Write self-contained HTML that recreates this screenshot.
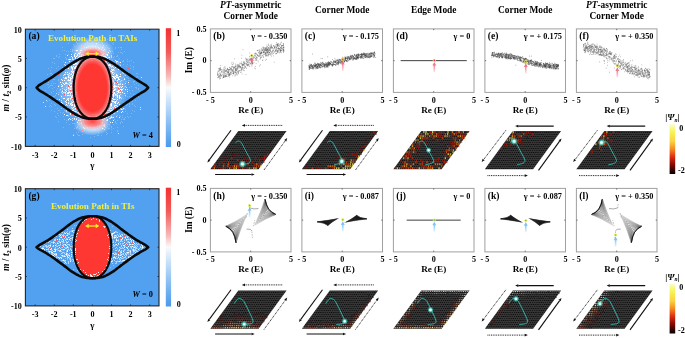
<!DOCTYPE html>
<html><head><meta charset="utf-8"><style>
html,body{margin:0;padding:0;background:#fff;width:685px;height:338px;overflow:hidden}
svg{display:block;will-change:transform}
text{font-family:"Liberation Serif",serif}
</style></head><body>
<svg width="685" height="338" viewBox="0 0 685 338"><defs><clipPath id="clipbiga"><rect x="25.4" y="29.2" width="133.6" height="117.2"/></clipPath><radialGradient id="wglow"><stop offset="0" stop-color="#fff" stop-opacity="0.95"/><stop offset="0.55" stop-color="#fff" stop-opacity="0.6"/><stop offset="1" stop-color="#fff" stop-opacity="0"/></radialGradient><radialGradient id="pglow"><stop offset="0" stop-color="#f44" stop-opacity="1"/><stop offset="0.5" stop-color="#f77" stop-opacity="0.8"/><stop offset="1" stop-color="#fcc" stop-opacity="0"/></radialGradient><radialGradient id="sglow"><stop offset="0" stop-color="#fff" stop-opacity="0.9"/><stop offset="0.6" stop-color="#e8f2fd" stop-opacity="0.55"/><stop offset="1" stop-color="#d0e6fb" stop-opacity="0"/></radialGradient><radialGradient id="redA"><stop offset="0.76" stop-color="#ff3733"/><stop offset="0.9" stop-color="#f86c6c"/><stop offset="1" stop-color="#f8b4b4"/></radialGradient><linearGradient id="cbara" x1="0" y1="0" x2="0" y2="1"><stop offset="0" stop-color="#f43030"/><stop offset="0.2" stop-color="#f35a5a"/><stop offset="0.4" stop-color="#f6b8b8"/><stop offset="0.5" stop-color="#fafafa"/><stop offset="0.6" stop-color="#d2e6fa"/><stop offset="0.8" stop-color="#88bff2"/><stop offset="1" stop-color="#4a98ee"/></linearGradient><clipPath id="clipbigg"><rect x="25.4" y="188.7" width="133.6" height="117.2"/></clipPath><linearGradient id="cbarg" x1="0" y1="0" x2="0" y2="1"><stop offset="0" stop-color="#f43030"/><stop offset="0.2" stop-color="#f35a5a"/><stop offset="0.4" stop-color="#f6b8b8"/><stop offset="0.5" stop-color="#fafafa"/><stop offset="0.6" stop-color="#d2e6fa"/><stop offset="0.8" stop-color="#88bff2"/><stop offset="1" stop-color="#4a98ee"/></linearGradient><clipPath id="clipscb"><rect x="210.4" y="28.9" width="80.6" height="63.5"/></clipPath><linearGradient id="agb" x1="0" y1="0" x2="0" y2="1"><stop offset="0" stop-color="#f2506a"/><stop offset="1" stop-color="#f2506a" stop-opacity="0.15"/></linearGradient><clipPath id="clipscc"><rect x="301.9" y="28.9" width="80.6" height="63.5"/></clipPath><linearGradient id="agc" x1="0" y1="0" x2="0" y2="1"><stop offset="0" stop-color="#f2506a"/><stop offset="1" stop-color="#f2506a" stop-opacity="0.15"/></linearGradient><clipPath id="clipscd"><rect x="393.4" y="28.9" width="80.6" height="63.5"/></clipPath><linearGradient id="agd" x1="0" y1="0" x2="0" y2="1"><stop offset="0" stop-color="#f2506a"/><stop offset="1" stop-color="#f2506a" stop-opacity="0.15"/></linearGradient><clipPath id="clipsce"><rect x="484.9" y="28.9" width="80.6" height="63.5"/></clipPath><linearGradient id="age" x1="0" y1="0" x2="0" y2="1"><stop offset="0" stop-color="#f2506a"/><stop offset="1" stop-color="#f2506a" stop-opacity="0.15"/></linearGradient><clipPath id="clipscf"><rect x="576.4" y="28.9" width="80.6" height="63.5"/></clipPath><linearGradient id="agf" x1="0" y1="0" x2="0" y2="1"><stop offset="0" stop-color="#f2506a"/><stop offset="1" stop-color="#f2506a" stop-opacity="0.15"/></linearGradient><clipPath id="clipsch"><rect x="210.4" y="188.4" width="80.6" height="63.5"/></clipPath><linearGradient id="agh" x1="0" y1="0" x2="0" y2="1"><stop offset="0" stop-color="#5ab4f4"/><stop offset="1" stop-color="#5ab4f4" stop-opacity="0.15"/></linearGradient><clipPath id="clipsci"><rect x="301.9" y="188.4" width="80.6" height="63.5"/></clipPath><linearGradient id="lobeg1" gradientUnits="userSpaceOnUse" x1="323.81" y1="223.23" x2="339.3" y2="218.05"><stop offset="0" stop-color="#111"/><stop offset="0.4" stop-color="#222"/><stop offset="1" stop-color="#444"/></linearGradient><linearGradient id="lobeg2" gradientUnits="userSpaceOnUse" x1="360.43" y1="217.52" x2="344.1" y2="222.75"><stop offset="0" stop-color="#111"/><stop offset="0.4" stop-color="#222"/><stop offset="1" stop-color="#444"/></linearGradient><linearGradient id="agi" x1="0" y1="0" x2="0" y2="1"><stop offset="0" stop-color="#5ab4f4"/><stop offset="1" stop-color="#5ab4f4" stop-opacity="0.15"/></linearGradient><clipPath id="clipscj"><rect x="393.4" y="188.4" width="80.6" height="63.5"/></clipPath><linearGradient id="agj" x1="0" y1="0" x2="0" y2="1"><stop offset="0" stop-color="#5ab4f4"/><stop offset="1" stop-color="#5ab4f4" stop-opacity="0.15"/></linearGradient><clipPath id="clipsck"><rect x="484.9" y="188.4" width="80.6" height="63.5"/></clipPath><linearGradient id="lobeg3" gradientUnits="userSpaceOnUse" x1="543.59" y1="223.23" x2="528.1" y2="218.05"><stop offset="0" stop-color="#111"/><stop offset="0.4" stop-color="#222"/><stop offset="1" stop-color="#444"/></linearGradient><linearGradient id="lobeg4" gradientUnits="userSpaceOnUse" x1="506.97" y1="217.52" x2="523.3" y2="222.75"><stop offset="0" stop-color="#111"/><stop offset="0.4" stop-color="#222"/><stop offset="1" stop-color="#444"/></linearGradient><linearGradient id="agk" x1="0" y1="0" x2="0" y2="1"><stop offset="0" stop-color="#5ab4f4"/><stop offset="1" stop-color="#5ab4f4" stop-opacity="0.15"/></linearGradient><clipPath id="clipscl"><rect x="576.4" y="188.4" width="80.6" height="63.5"/></clipPath><linearGradient id="agl" x1="0" y1="0" x2="0" y2="1"><stop offset="0" stop-color="#5ab4f4"/><stop offset="1" stop-color="#5ab4f4" stop-opacity="0.15"/></linearGradient><pattern id="hexpat" width="2.15" height="4" patternUnits="userSpaceOnUse"><rect width="2.15" height="4" fill="#363636"/><circle cx="0.54" cy="0.5" r="0.62" fill="#080808"/><circle cx="1.61" cy="2.5" r="0.62" fill="#080808"/></pattern><radialGradient id="glow"><stop offset="0" stop-color="#ffffff"/><stop offset="0.3" stop-color="#c8fff8"/><stop offset="0.6" stop-color="#40d8c8" stop-opacity="0.7"/><stop offset="1" stop-color="#40d8c8" stop-opacity="0"/></radialGradient><linearGradient id="hotbar" x1="0" y1="0" x2="0" y2="1"><stop offset="0" stop-color="#fbfbd0"/><stop offset="0.14" stop-color="#f6f65a"/><stop offset="0.35" stop-color="#fbd040"/><stop offset="0.5" stop-color="#f68a20"/><stop offset="0.65" stop-color="#e03010"/><stop offset="0.8" stop-color="#8a0a05"/><stop offset="1" stop-color="#050000"/></linearGradient></defs><rect width="685" height="338" fill="#fff"/><g clip-path="url(#clipbiga)">
<rect x="25.4" y="29.2" width="133.6" height="117.2" fill="#52a0f0"/>
<ellipse cx="92.5" cy="87.7" rx="35.8" ry="40" fill="url(#sglow)"/>
<path d="M91 38.5h1M94 38.5h1M99 38.5h1M102 38.5h1M107 39.5h1M74 40.5h1M86 40.5h1M89 40.5h1M94 40.5h1M97 40.5h1M76 41.5h1M87 41.5h1M101 41.5h1M111 41.5h1M76 42.5h1M87 42.5h1M98 42.5h1M102 42.5h1M113 42.5h1M68 43.5h1M77 43.5h1M85 43.5h1M87 43.5h1M92 43.5h1M102 43.5h1M112 43.5h1M73 44.5h1M96 44.5h1M113 44.5h1M81 45.5h1M92 45.5h1M106 45.5h1M74 46.5h1M88 46.5h1M62 47.5h1M84 47.5h1M87 47.5h1M103 47.5h1M107 47.5h1M115 47.5h1M118 47.5h1M120 47.5h1M121 47.5h1M81 48.5h1M91 48.5h1M96 48.5h1M102 48.5h1M108 48.5h1M109 48.5h1M115 48.5h1M70 49.5h1M72 49.5h1M90 49.5h1M94 49.5h1M121 49.5h1M62 50.5h1M64 50.5h1M72 50.5h1M74 50.5h1M75 50.5h1M66 51.5h1M68 51.5h1M70 51.5h1M72 51.5h1M76 51.5h1M112 51.5h1M124 51.5h1M78 52.5h1M79 52.5h1M118 52.5h1M120 52.5h1M121 52.5h1M74 53.5h1M80 53.5h1M101 53.5h1M109 53.5h1M111 53.5h1M113 53.5h1M122 53.5h1M59 54.5h1M65 54.5h1M68 54.5h1M84 54.5h1M56 55.5h1M75 55.5h1M79 55.5h1M84 55.5h1M117 55.5h1M56 56.5h1M59 56.5h1M75 56.5h1M78 56.5h1M83 56.5h1M84 56.5h1M109 56.5h1M114 56.5h1M116 56.5h1M117 56.5h1M58 57.5h1M65 57.5h1M69 57.5h1M70 57.5h1M83 57.5h1M103 57.5h1M113 57.5h1M53 58.5h1M54 58.5h1M66 58.5h1M74 58.5h1M83 58.5h1M99 58.5h1M119 58.5h1M66 59.5h1M75 59.5h1M79 59.5h1M82 59.5h1M83 59.5h1M101 59.5h1M103 59.5h1M106 59.5h1M118 59.5h1M127 59.5h1M76 60.5h1M78 60.5h1M112 60.5h1M123 60.5h1M131 60.5h1M63 61.5h1M77 61.5h1M107 61.5h1M118 61.5h1M122 61.5h1M123 61.5h1M127 61.5h1M129 61.5h1M52 62.5h1M67 62.5h1M76 62.5h1M105 62.5h1M108 62.5h1M117 62.5h1M118 62.5h1M119 62.5h1M133 62.5h1M54 63.5h1M69 63.5h1M79 63.5h1M110 63.5h1M116 63.5h1M117 63.5h1M118 63.5h1M72 64.5h1M119 64.5h1M120 64.5h1M123 64.5h1M127 64.5h1M72 65.5h1M73 65.5h1M77 65.5h1M106 65.5h1M130 65.5h1M58 66.5h1M66 66.5h1M74 66.5h1M108 66.5h1M114 66.5h1M126 66.5h1M133 66.5h1M51 67.5h1M62 67.5h1M70 67.5h1M110 67.5h1M121 67.5h1M133 67.5h1M48 68.5h1M56 68.5h1M73 68.5h1M110 68.5h1M111 68.5h1M115 68.5h1M130 68.5h1M69 69.5h1M73 69.5h1M76 69.5h1M109 69.5h1M119 69.5h1M133 69.5h1M50 70.5h1M61 70.5h1M68 70.5h1M70 70.5h1M73 70.5h1M74 70.5h1M110 70.5h1M116 70.5h1M122 70.5h1M124 70.5h1M68 71.5h1M74 71.5h1M112 71.5h1M117 71.5h1M120 71.5h1M109 72.5h1M116 72.5h1M128 72.5h1M50 73.5h1M51 73.5h1M65 73.5h1M66 73.5h1M70 73.5h1M72 73.5h1M74 73.5h1M109 73.5h1M113 73.5h1M118 73.5h1M120 73.5h1M122 73.5h1M127 73.5h1M136 73.5h1M137 73.5h1M47 74.5h1M52 74.5h1M54 74.5h1M72 74.5h1M74 74.5h1M111 74.5h1M114 74.5h1M115 74.5h1M118 74.5h1M124 74.5h1M51 75.5h1M60 75.5h1M71 75.5h1M110 75.5h1M112 75.5h1M113 75.5h1M124 75.5h1M130 75.5h1M70 76.5h1M118 76.5h1M123 76.5h1M137 76.5h1M50 77.5h1M71 77.5h1M115 77.5h1M121 77.5h1M122 77.5h1M123 77.5h1M126 77.5h1M127 77.5h1M132 77.5h1M133 77.5h1M136 77.5h1M67 78.5h1M113 78.5h1M116 78.5h1M117 78.5h1M128 78.5h1M53 79.5h1M54 79.5h1M58 79.5h1M63 79.5h1M64 79.5h1M69 79.5h1M72 79.5h1M114 79.5h1M123 79.5h1M125 79.5h1M58 80.5h1M72 80.5h1M114 80.5h1M119 80.5h1M122 80.5h1M123 80.5h1M128 80.5h1M129 80.5h1M135 80.5h1M137 80.5h1M52 81.5h1M65 81.5h1M67 81.5h1M114 81.5h1M116 81.5h1M125 81.5h1M126 81.5h1M133 81.5h1M134 81.5h1M48 82.5h1M67 82.5h1M111 82.5h1M115 82.5h1M119 82.5h1M133 82.5h1M51 83.5h1M53 83.5h1M55 83.5h1M62 83.5h1M111 83.5h1M113 83.5h1M122 83.5h1M136 83.5h1M47 84.5h1M48 84.5h1M66 84.5h1M72 84.5h1M112 84.5h1M115 84.5h1M116 84.5h1M117 84.5h1M123 84.5h1M124 84.5h1M128 84.5h1M134 84.5h1M50 85.5h1M51 85.5h1M52 85.5h1M58 85.5h1M59 85.5h1M61 85.5h1M70 85.5h1M72 85.5h1M113 85.5h1M120 85.5h1M138 85.5h1M49 86.5h1M65 86.5h1M69 86.5h1M72 86.5h1M121 86.5h1M124 86.5h1M131 86.5h1M48 87.5h1M54 87.5h1M124 87.5h1M129 87.5h1M135 87.5h1M136 87.5h1M52 88.5h1M57 88.5h1M63 88.5h1M111 88.5h1M121 88.5h1M136 88.5h1M138 88.5h1M63 89.5h1M67 89.5h1M111 89.5h1M112 89.5h1M113 89.5h1M119 89.5h1M138 89.5h1M45 90.5h1M56 90.5h1M59 90.5h1M67 90.5h1M69 90.5h1M71 90.5h1M72 90.5h1M112 90.5h1M122 90.5h1M125 90.5h1M129 90.5h1M132 90.5h1M53 91.5h1M61 91.5h1M70 91.5h1M111 91.5h1M115 91.5h1M121 91.5h1M122 91.5h1M51 92.5h1M58 92.5h1M59 92.5h1M62 92.5h1M66 92.5h1M111 92.5h1M115 92.5h1M69 93.5h1M111 93.5h1M118 93.5h1M123 93.5h1M125 93.5h1M127 93.5h1M130 93.5h1M49 94.5h1M63 94.5h1M68 94.5h1M69 94.5h1M71 94.5h1M119 94.5h1M121 94.5h1M133 94.5h1M55 95.5h1M60 95.5h1M61 95.5h1M66 95.5h1M122 95.5h1M53 96.5h1M54 96.5h1M63 96.5h1M68 96.5h1M70 96.5h1M111 96.5h1M112 96.5h1M114 96.5h1M115 96.5h1M121 96.5h1M125 96.5h1M127 96.5h1M129 96.5h1M131 96.5h1M138 96.5h1M61 97.5h1M62 97.5h1M67 97.5h1M68 97.5h1M70 97.5h1M110 97.5h1M122 97.5h1M57 98.5h1M61 98.5h1M62 98.5h1M66 98.5h1M114 98.5h1M115 98.5h1M120 98.5h1M123 98.5h1M52 99.5h1M56 99.5h1M57 99.5h1M69 99.5h1M71 99.5h1M110 99.5h1M112 99.5h1M49 100.5h1M53 100.5h1M55 100.5h1M69 100.5h1M71 100.5h1M73 100.5h1M74 100.5h1M113 100.5h1M114 100.5h1M117 100.5h1M120 100.5h1M127 100.5h1M135 100.5h1M47 101.5h1M61 101.5h1M64 101.5h1M66 101.5h1M70 101.5h1M72 101.5h1M125 101.5h1M132 101.5h1M62 102.5h1M74 102.5h1M124 102.5h1M125 102.5h1M51 103.5h1M58 103.5h1M63 103.5h1M72 103.5h1M74 103.5h1M109 103.5h1M116 103.5h1M119 103.5h1M129 103.5h1M132 103.5h1M54 104.5h1M68 104.5h1M69 104.5h1M73 104.5h1M75 104.5h1M115 104.5h1M117 104.5h1M123 104.5h1M127 104.5h1M129 104.5h1M132 104.5h1M50 105.5h1M55 105.5h1M66 105.5h1M73 105.5h1M109 105.5h1M112 105.5h1M121 105.5h1M126 105.5h1M134 105.5h1M49 106.5h1M51 106.5h1M68 106.5h1M69 106.5h1M71 106.5h1M72 106.5h1M73 106.5h1M109 106.5h1M116 106.5h1M129 106.5h1M135 106.5h1M64 107.5h1M69 107.5h1M76 107.5h1M107 107.5h1M109 107.5h1M116 107.5h1M119 107.5h1M57 108.5h1M61 108.5h1M66 108.5h1M67 108.5h1M77 108.5h1M112 108.5h1M121 108.5h1M124 108.5h1M68 109.5h1M76 109.5h1M106 109.5h1M108 109.5h1M110 109.5h1M115 109.5h1M120 109.5h1M123 109.5h1M125 109.5h1M51 110.5h1M58 110.5h1M59 110.5h1M64 110.5h1M65 110.5h1M71 110.5h1M76 110.5h1M132 110.5h1M54 111.5h1M65 111.5h1M69 111.5h1M78 111.5h1M108 111.5h1M112 111.5h1M125 111.5h1M134 111.5h1M60 112.5h1M63 112.5h1M66 112.5h1M67 112.5h1M68 112.5h1M70 112.5h1M75 112.5h1M105 112.5h1M110 112.5h1M123 112.5h1M57 113.5h1M62 113.5h1M76 113.5h1M103 113.5h1M106 113.5h1M112 113.5h1M127 113.5h1M131 113.5h1M69 114.5h1M75 114.5h1M102 114.5h1M106 114.5h1M107 114.5h1M108 114.5h1M112 114.5h1M58 115.5h1M68 115.5h1M71 115.5h1M73 115.5h1M77 115.5h1M83 115.5h1M106 115.5h1M107 115.5h1M108 115.5h1M111 115.5h1M117 115.5h1M119 115.5h1M122 115.5h1M55 116.5h1M63 116.5h1M68 116.5h1M105 116.5h1M107 116.5h1M120 116.5h1M127 116.5h1M130 116.5h1M56 117.5h1M77 117.5h1M102 117.5h1M122 117.5h1M125 117.5h1M128 117.5h1M80 118.5h1M81 118.5h1M101 118.5h1M105 118.5h1M124 118.5h1M64 119.5h1M71 119.5h1M73 119.5h1M104 119.5h1M105 119.5h1M106 119.5h1M108 119.5h1M114 119.5h1M121 119.5h1M123 119.5h1M124 119.5h1M66 120.5h1M68 120.5h1M75 120.5h1M81 120.5h1M82 120.5h1M84 120.5h1M117 120.5h1M58 121.5h1M77 121.5h1M81 121.5h1M109 121.5h1M115 121.5h1M121 121.5h1M66 122.5h1M79 122.5h1M115 122.5h1M120 122.5h1M122 122.5h1M72 123.5h1M73 123.5h1M74 123.5h1M78 123.5h1M79 123.5h1M80 123.5h1M116 123.5h1M120 123.5h1M69 124.5h1M78 124.5h1M79 124.5h1M81 124.5h1M102 124.5h1M109 124.5h1M113 124.5h1M88 125.5h1M98 125.5h1M77 126.5h1M111 126.5h1M123 126.5h1M63 127.5h1M76 127.5h1M77 127.5h1M86 127.5h1M99 127.5h1M105 127.5h1M111 127.5h1M117 127.5h1M74 128.5h1M76 128.5h1M79 128.5h1M87 128.5h1M97 128.5h1M103 128.5h1M108 128.5h1M109 128.5h1M113 128.5h1M93 129.5h1M95 129.5h1M111 129.5h1M84 130.5h1M99 130.5h1M117 130.5h1M82 131.5h1M117 131.5h1M76 132.5h1M78 132.5h1M98 132.5h1M106 132.5h1M111 132.5h1M107 133.5h1M73 134.5h1M77 134.5h1M82 134.5h1M106 134.5h1M78 135.5h1M79 135.5h1M97 135.5h1M98 135.5h1M101 135.5h1M94 136.5h1M90 137.5h1" stroke="#7db6f1" stroke-width="1"/>
<path d="M73 39.5h1M141 77.5h1M46 100.5h1M43 102.5h1M45 106.5h1M140 107.5h1M140 109.5h1M118 133.5h1M73 135.5h1" stroke="#cfe4fb" stroke-width="1"/>
<path d="M96 43.5h1M103 45.5h1M95 46.5h1M98 47.5h1M102 47.5h1M101 49.5h1M104 49.5h1M103 50.5h1M109 50.5h1M110 51.5h1M83 52.5h1M103 53.5h1M74 54.5h1M79 54.5h1M82 54.5h1M83 54.5h1M102 54.5h1M103 54.5h1M106 54.5h1M81 55.5h1M111 55.5h1M80 56.5h1M82 56.5h1M100 56.5h1M103 56.5h1M111 56.5h1M78 57.5h1M101 57.5h1M104 57.5h1M108 57.5h1M111 57.5h1M72 58.5h1M80 58.5h1M100 58.5h1M101 58.5h1M102 58.5h1M104 58.5h1M105 58.5h1M68 59.5h1M72 59.5h1M73 59.5h1M80 59.5h1M81 59.5h1M109 59.5h1M77 60.5h1M81 60.5h1M82 60.5h1M102 60.5h1M106 60.5h1M78 61.5h1M80 61.5h1M111 61.5h1M77 62.5h1M78 62.5h1M79 62.5h1M106 62.5h1M113 62.5h1M116 62.5h1M77 63.5h1M107 63.5h1M64 64.5h1M69 64.5h1M75 64.5h1M76 64.5h1M78 64.5h1M105 64.5h1M108 64.5h1M110 64.5h1M114 64.5h1M65 65.5h1M76 65.5h1M78 65.5h1M113 65.5h1M120 65.5h1M65 66.5h1M77 66.5h1M107 66.5h1M110 66.5h1M111 66.5h1M115 66.5h1M116 66.5h1M76 67.5h1M77 67.5h1M109 67.5h1M111 67.5h1M113 67.5h1M118 67.5h1M63 68.5h1M71 68.5h1M108 68.5h1M114 68.5h1M121 68.5h1M108 69.5h1M112 69.5h1M72 70.5h1M75 70.5h1M108 70.5h1M109 70.5h1M113 70.5h1M114 70.5h1M72 71.5h1M124 71.5h1M73 72.5h1M74 72.5h1M110 72.5h1M113 72.5h1M122 72.5h1M71 73.5h1M75 73.5h1M112 73.5h1M114 73.5h1M123 73.5h1M65 74.5h1M68 74.5h1M70 74.5h1M63 75.5h1M68 75.5h1M69 75.5h1M125 75.5h1M71 76.5h1M110 76.5h1M111 76.5h1M114 76.5h1M116 76.5h1M117 76.5h1M63 77.5h1M66 77.5h1M69 77.5h1M110 77.5h1M111 77.5h1M64 78.5h1M72 78.5h1M112 78.5h1M124 78.5h1M73 79.5h1M111 79.5h1M115 79.5h1M67 80.5h1M112 80.5h1M113 80.5h1M121 80.5h1M70 81.5h1M71 81.5h1M73 81.5h1M111 81.5h1M112 81.5h1M113 81.5h1M120 81.5h1M62 82.5h1M65 82.5h1M66 82.5h1M69 82.5h1M70 82.5h1M71 82.5h1M112 82.5h1M114 82.5h1M67 83.5h1M73 83.5h1M120 83.5h1M125 83.5h1M68 84.5h1M69 84.5h1M73 84.5h1M111 84.5h1M114 84.5h1M119 84.5h1M120 84.5h1M71 85.5h1M111 85.5h1M115 85.5h1M62 86.5h1M117 86.5h1M120 86.5h1M125 86.5h1M66 87.5h1M70 87.5h1M71 87.5h1M72 87.5h1M111 87.5h1M126 87.5h1M62 88.5h1M69 88.5h1M70 88.5h1M71 88.5h1M115 88.5h1M123 88.5h1M60 89.5h1M64 89.5h1M69 89.5h1M71 89.5h1M73 89.5h1M127 89.5h1M62 90.5h1M68 90.5h1M69 91.5h1M113 91.5h1M116 91.5h1M61 92.5h1M63 92.5h1M64 92.5h1M67 92.5h1M70 92.5h1M113 92.5h1M119 92.5h1M56 93.5h1M62 93.5h1M65 93.5h1M72 93.5h1M73 93.5h1M58 94.5h1M65 94.5h1M70 94.5h1M73 94.5h1M111 94.5h1M112 94.5h1M116 94.5h1M120 94.5h1M65 95.5h1M69 95.5h1M73 95.5h1M115 95.5h1M116 95.5h1M125 95.5h1M72 96.5h1M72 97.5h1M74 97.5h1M111 97.5h1M113 97.5h1M67 98.5h1M110 98.5h1M111 98.5h1M121 98.5h1M68 99.5h1M70 99.5h1M72 99.5h1M115 99.5h1M61 100.5h1M72 100.5h1M111 100.5h1M112 100.5h1M116 100.5h1M71 101.5h1M74 101.5h1M110 101.5h1M114 101.5h1M116 101.5h1M68 102.5h1M71 102.5h1M75 102.5h1M110 103.5h1M124 103.5h1M71 104.5h1M65 105.5h1M67 105.5h1M69 105.5h1M108 105.5h1M110 105.5h1M114 105.5h1M64 106.5h1M76 106.5h1M108 106.5h1M110 106.5h1M111 106.5h1M71 107.5h1M108 107.5h1M110 107.5h1M112 107.5h1M113 107.5h1M117 107.5h1M118 107.5h1M109 108.5h1M110 108.5h1M113 108.5h1M73 109.5h1M74 109.5h1M75 109.5h1M78 109.5h1M109 109.5h1M112 109.5h1M117 109.5h1M122 109.5h1M66 110.5h1M69 110.5h1M108 110.5h1M109 110.5h1M110 110.5h1M112 110.5h1M66 111.5h1M74 111.5h1M76 111.5h1M111 111.5h1M72 112.5h1M77 112.5h1M107 112.5h1M108 112.5h1M74 113.5h1M75 113.5h1M78 113.5h1M107 113.5h1M113 113.5h1M114 113.5h1M73 114.5h1M76 114.5h1M78 114.5h1M81 114.5h1M103 114.5h1M110 114.5h1M78 115.5h1M80 115.5h1M101 115.5h1M103 115.5h1M105 115.5h1M75 116.5h1M77 116.5h1M100 116.5h1M101 116.5h1M106 116.5h1M108 116.5h1M111 116.5h1M116 116.5h1M81 117.5h1M82 117.5h1M110 117.5h1M112 117.5h1M72 118.5h1M76 118.5h1M83 118.5h1M104 118.5h1M109 118.5h1M110 118.5h1M74 119.5h1M103 119.5h1M72 120.5h1M79 120.5h1M83 120.5h1M100 120.5h1M103 120.5h1M106 120.5h1M83 121.5h1M102 121.5h1M101 122.5h1M102 123.5h1M104 124.5h1M84 125.5h1M85 125.5h1M101 125.5h1M103 125.5h1M104 125.5h1M104 126.5h1M87 127.5h1M93 127.5h1M94 127.5h1M104 129.5h1" stroke="#c4def9" stroke-width="1"/>
<path d="M82 46.5h1M100 49.5h1M104 52.5h1M83 53.5h1M115 56.5h1M71 57.5h1M76 57.5h1M84 58.5h1M104 60.5h1M113 60.5h1M67 61.5h1M107 62.5h1M106 63.5h1M108 63.5h1M109 63.5h1M71 64.5h1M106 64.5h1M59 65.5h1M63 66.5h1M67 67.5h1M128 68.5h1M75 69.5h1M110 69.5h1M58 74.5h1M66 75.5h1M119 75.5h1M112 77.5h1M116 79.5h1M73 80.5h1M111 80.5h1M115 81.5h1M73 82.5h1M116 82.5h1M117 83.5h1M68 85.5h1M73 85.5h1M68 86.5h1M112 86.5h1M112 87.5h1M118 88.5h1M63 90.5h1M70 90.5h1M73 90.5h1M120 90.5h1M67 91.5h1M114 91.5h1M73 92.5h1M71 93.5h1M112 93.5h1M64 94.5h1M112 97.5h1M114 97.5h1M72 98.5h1M111 99.5h1M65 100.5h1M115 100.5h1M67 101.5h1M111 102.5h1M73 103.5h1M75 107.5h1M76 108.5h1M114 108.5h1M106 110.5h1M77 111.5h1M79 111.5h1M73 113.5h1M65 114.5h1M71 114.5h1M72 114.5h1M104 114.5h1M105 114.5h1M102 115.5h1M118 115.5h1M82 116.5h1M102 116.5h1M104 116.5h1M84 119.5h1M111 119.5h1M116 119.5h1M82 121.5h1M73 122.5h1M100 124.5h1M106 125.5h1M86 129.5h1M82 130.5h1" stroke="#f25c5c" stroke-width="1"/>
<path d="M86 47.5h1M90 48.5h1M99 48.5h1M89 49.5h1M98 49.5h1M76 50.5h1M77 50.5h1M80 50.5h1M81 50.5h1M85 50.5h1M86 50.5h1M87 50.5h1M89 50.5h1M97 50.5h1M89 51.5h1M94 51.5h1M80 52.5h1M85 52.5h1M88 52.5h1M93 52.5h1M100 52.5h1M101 52.5h1M108 52.5h1M75 53.5h1M78 53.5h1M79 53.5h1M90 53.5h1M94 53.5h1M71 54.5h1M77 54.5h1M81 54.5h1M91 54.5h1M98 54.5h1M101 54.5h1M107 54.5h1M67 55.5h1M74 55.5h1M77 55.5h1M83 55.5h1M85 55.5h1M93 55.5h1M101 55.5h1M102 55.5h1M107 55.5h1M71 56.5h1M74 56.5h1M76 56.5h1M79 56.5h1M81 56.5h1M86 56.5h1M90 56.5h1M97 56.5h1M101 56.5h1M104 56.5h1M105 56.5h1M72 57.5h1M75 57.5h1M82 57.5h1M84 57.5h1M102 57.5h1M105 57.5h1M106 57.5h1M109 57.5h1M75 58.5h1M77 58.5h1M79 58.5h1M82 58.5h1M103 58.5h1M107 58.5h1M69 59.5h1M70 59.5h1M76 59.5h1M102 59.5h1M104 59.5h1M105 59.5h1M107 59.5h1M79 60.5h1M103 60.5h1M105 60.5h1M108 60.5h1M115 60.5h1M69 61.5h1M74 61.5h1M76 61.5h1M81 61.5h1M103 61.5h1M105 61.5h1M106 61.5h1M110 61.5h1M116 61.5h1M117 61.5h1M65 62.5h1M73 62.5h1M80 62.5h1M104 62.5h1M111 62.5h1M120 62.5h1M70 63.5h1M75 63.5h1M76 63.5h1M78 63.5h1M105 63.5h1M113 63.5h1M73 64.5h1M74 64.5h1M77 64.5h1M79 64.5h1M109 64.5h1M112 64.5h1M116 64.5h1M68 65.5h1M108 65.5h1M109 65.5h1M110 65.5h1M68 66.5h1M71 66.5h1M73 66.5h1M75 66.5h1M76 66.5h1M112 66.5h1M65 67.5h1M71 67.5h1M72 67.5h1M74 67.5h1M75 67.5h1M107 67.5h1M108 67.5h1M115 67.5h1M68 68.5h1M72 68.5h1M74 68.5h1M75 68.5h1M76 68.5h1M65 69.5h1M72 69.5h1M111 69.5h1M113 69.5h1M118 69.5h1M76 70.5h1M112 70.5h1M71 71.5h1M73 71.5h1M75 71.5h1M109 71.5h1M110 71.5h1M111 71.5h1M65 72.5h1M67 72.5h1M72 72.5h1M75 72.5h1M112 72.5h1M69 73.5h1M73 73.5h1M110 73.5h1M125 73.5h1M64 74.5h1M67 74.5h1M71 74.5h1M73 74.5h1M110 74.5h1M113 74.5h1M116 74.5h1M120 74.5h1M72 75.5h1M73 75.5h1M74 75.5h1M116 75.5h1M117 75.5h1M68 76.5h1M72 76.5h1M112 76.5h1M113 76.5h1M115 76.5h1M119 76.5h1M120 76.5h1M65 77.5h1M68 77.5h1M70 77.5h1M72 77.5h1M73 77.5h1M113 77.5h1M114 77.5h1M116 77.5h1M117 77.5h1M118 77.5h1M65 78.5h1M66 78.5h1M70 78.5h1M71 78.5h1M73 78.5h1M111 78.5h1M114 78.5h1M115 78.5h1M118 78.5h1M61 79.5h1M68 79.5h1M70 79.5h1M118 79.5h1M119 79.5h1M124 79.5h1M62 80.5h1M64 80.5h1M68 80.5h1M69 80.5h1M70 80.5h1M117 80.5h1M72 81.5h1M60 82.5h1M117 82.5h1M128 82.5h1M63 83.5h1M65 83.5h1M66 83.5h1M70 83.5h1M71 83.5h1M114 83.5h1M61 84.5h1M64 84.5h1M118 84.5h1M122 84.5h1M62 85.5h1M69 85.5h1M112 85.5h1M114 85.5h1M58 86.5h1M61 86.5h1M70 86.5h1M71 86.5h1M73 86.5h1M111 86.5h1M113 86.5h1M114 86.5h1M115 86.5h1M116 86.5h1M118 86.5h1M122 86.5h1M68 87.5h1M73 87.5h1M114 87.5h1M119 87.5h1M121 87.5h1M68 88.5h1M72 88.5h1M73 88.5h1M112 88.5h1M66 89.5h1M70 89.5h1M72 89.5h1M114 89.5h1M115 89.5h1M120 89.5h1M121 89.5h1M122 89.5h1M125 89.5h1M65 90.5h1M111 90.5h1M113 90.5h1M114 90.5h1M118 90.5h1M119 90.5h1M121 90.5h1M62 91.5h1M66 91.5h1M72 91.5h1M73 91.5h1M112 91.5h1M117 91.5h1M118 91.5h1M127 91.5h1M65 92.5h1M68 92.5h1M69 92.5h1M71 92.5h1M72 92.5h1M112 92.5h1M114 92.5h1M118 92.5h1M120 92.5h1M122 92.5h1M67 93.5h1M68 93.5h1M70 93.5h1M113 93.5h1M114 93.5h1M117 93.5h1M124 93.5h1M113 94.5h1M115 94.5h1M67 95.5h1M68 95.5h1M70 95.5h1M72 95.5h1M111 95.5h1M113 95.5h1M117 95.5h1M119 95.5h1M61 96.5h1M71 96.5h1M73 96.5h1M113 96.5h1M117 96.5h1M119 96.5h1M71 97.5h1M73 97.5h1M117 97.5h1M119 97.5h1M120 97.5h1M63 98.5h1M64 98.5h1M68 98.5h1M70 98.5h1M74 98.5h1M112 98.5h1M119 98.5h1M59 99.5h1M67 99.5h1M74 99.5h1M113 99.5h1M114 99.5h1M117 99.5h1M66 100.5h1M68 100.5h1M110 100.5h1M65 101.5h1M73 101.5h1M112 101.5h1M113 101.5h1M115 101.5h1M61 102.5h1M66 102.5h1M72 102.5h1M109 102.5h1M114 102.5h1M115 102.5h1M118 102.5h1M62 103.5h1M68 103.5h1M70 103.5h1M71 103.5h1M75 103.5h1M111 103.5h1M115 103.5h1M117 103.5h1M61 104.5h1M66 104.5h1M70 104.5h1M72 104.5h1M74 104.5h1M109 104.5h1M110 104.5h1M111 104.5h1M119 104.5h1M63 105.5h1M71 105.5h1M72 105.5h1M74 105.5h1M75 105.5h1M76 105.5h1M111 105.5h1M115 105.5h1M116 105.5h1M74 106.5h1M75 106.5h1M114 106.5h1M117 106.5h1M122 106.5h1M65 107.5h1M67 107.5h1M73 107.5h1M77 107.5h1M115 107.5h1M120 107.5h1M72 108.5h1M75 108.5h1M107 108.5h1M111 108.5h1M120 108.5h1M123 108.5h1M66 109.5h1M77 109.5h1M107 109.5h1M116 109.5h1M118 109.5h1M121 109.5h1M72 110.5h1M73 110.5h1M107 110.5h1M111 110.5h1M72 111.5h1M75 111.5h1M110 111.5h1M113 111.5h1M117 111.5h1M122 111.5h1M78 112.5h1M80 112.5h1M104 112.5h1M106 112.5h1M109 112.5h1M111 112.5h1M121 112.5h1M70 113.5h1M79 113.5h1M81 113.5h1M104 113.5h1M105 113.5h1M109 113.5h1M110 113.5h1M111 113.5h1M64 114.5h1M70 114.5h1M77 114.5h1M79 114.5h1M80 114.5h1M82 114.5h1M111 114.5h1M66 115.5h1M67 115.5h1M79 115.5h1M79 116.5h1M80 116.5h1M81 116.5h1M83 116.5h1M84 116.5h1M103 116.5h1M78 117.5h1M79 117.5h1M83 117.5h1M84 117.5h1M99 117.5h1M100 117.5h1M101 117.5h1M106 117.5h1M111 117.5h1M113 117.5h1M119 117.5h1M69 118.5h1M74 118.5h1M88 118.5h1M96 118.5h1M100 118.5h1M102 118.5h1M68 119.5h1M70 119.5h1M76 119.5h1M83 119.5h1M85 119.5h1M90 119.5h1M93 119.5h1M95 119.5h1M99 119.5h1M102 119.5h1M107 119.5h1M78 120.5h1M80 120.5h1M97 120.5h1M107 120.5h1M113 120.5h1M89 121.5h1M77 122.5h1M81 122.5h1M84 122.5h1M92 122.5h1M102 122.5h1M110 122.5h1M112 122.5h1M81 123.5h1M84 123.5h1M93 123.5h1M87 124.5h1M91 124.5h1M97 125.5h1M99 126.5h1M83 127.5h1M90 127.5h1M84 128.5h1M102 128.5h1" stroke="#ffffff" stroke-width="1"/>
<path d="M88 50.5h1M92 50.5h1M96 50.5h1M98 50.5h1M90 52.5h1M97 52.5h1M87 53.5h1M91 53.5h1M92 53.5h1M99 54.5h1M85 56.5h1M92 56.5h1M87 120.5h1M98 120.5h1M99 121.5h1M87 122.5h1M88 122.5h1M90 122.5h1M98 122.5h1M89 123.5h1M98 123.5h1M86 124.5h1M97 124.5h1M95 125.5h1" stroke="#f77" stroke-width="1"/>
<ellipse cx="92.5" cy="50.7" rx="22" ry="14" fill="url(#wglow)"/>
<ellipse cx="92.5" cy="124.7" rx="19" ry="11" fill="url(#wglow)"/>
<ellipse cx="92.5" cy="53.7" rx="15" ry="7.5" fill="url(#pglow)"/>
<ellipse cx="92.5" cy="121.7" rx="16" ry="9" fill="url(#pglow)"/>
<path d="M112.9 87.7 L112.88 89.38 L112.83 90.95 L112.73 92.47 L112.6 93.97 L112.44 95.43 L112.24 96.86 L112 98.27 L111.73 99.65 L111.42 101 L111.08 102.32 L110.7 103.6 L110.29 104.86 L109.85 106.07 L109.37 107.25 L108.86 108.39 L108.33 109.49 L107.76 110.55 L107.17 111.57 L106.54 112.54 L105.89 113.46 L105.22 114.33 L104.51 115.16 L103.79 115.93 L103.04 116.65 L102.27 117.32 L101.48 117.93 L100.67 118.49 L99.84 118.99 L99 119.43 L98.13 119.82 L97.25 120.15 L96.35 120.42 L95.43 120.63 L94.5 120.78 L93.53 120.87 L92.5 120.9 L91.47 120.87 L90.5 120.78 L89.57 120.63 L88.65 120.42 L87.75 120.15 L86.87 119.82 L86 119.43 L85.16 118.99 L84.33 118.49 L83.52 117.93 L82.73 117.32 L81.96 116.65 L81.21 115.93 L80.49 115.16 L79.78 114.33 L79.11 113.46 L78.46 112.54 L77.83 111.57 L77.24 110.55 L76.67 109.49 L76.14 108.39 L75.63 107.25 L75.15 106.07 L74.71 104.86 L74.3 103.6 L73.92 102.32 L73.58 101 L73.27 99.65 L73 98.27 L72.76 96.86 L72.56 95.43 L72.4 93.97 L72.27 92.47 L72.17 90.95 L72.12 89.38 L72.1 87.7 L72.12 86.02 L72.17 84.45 L72.27 82.93 L72.4 81.43 L72.56 79.97 L72.76 78.54 L73 77.13 L73.27 75.75 L73.58 74.4 L73.92 73.08 L74.3 71.8 L74.71 70.54 L75.15 69.33 L75.63 68.15 L76.14 67.01 L76.67 65.91 L77.24 64.85 L77.83 63.83 L78.46 62.86 L79.11 61.94 L79.78 61.07 L80.49 60.24 L81.21 59.47 L81.96 58.75 L82.73 58.08 L83.52 57.47 L84.33 56.91 L85.16 56.41 L86 55.97 L86.87 55.58 L87.75 55.25 L88.65 54.98 L89.57 54.77 L90.5 54.62 L91.47 54.53 L92.5 54.5 L93.53 54.53 L94.5 54.62 L95.43 54.77 L96.35 54.98 L97.25 55.25 L98.13 55.58 L99 55.97 L99.84 56.41 L100.67 56.91 L101.48 57.47 L102.27 58.08 L103.04 58.75 L103.79 59.47 L104.51 60.24 L105.22 61.07 L105.89 61.94 L106.54 62.86 L107.17 63.83 L107.76 64.85 L108.33 65.91 L108.86 67.01 L109.37 68.15 L109.85 69.33 L110.29 70.54 L110.7 71.8 L111.08 73.08 L111.42 74.4 L111.73 75.75 L112 77.13 L112.24 78.54 L112.44 79.97 L112.6 81.43 L112.73 82.93 L112.83 84.45 L112.88 86.02Z" fill="#ff3733" opacity="0.5"/>
<path d="M111.3 87.7 L111.28 89.27 L111.23 90.73 L111.15 92.16 L111.03 93.55 L110.88 94.92 L110.69 96.26 L110.47 97.57 L110.22 98.86 L109.93 100.12 L109.62 101.35 L109.27 102.55 L108.89 103.72 L108.48 104.86 L108.05 105.96 L107.58 107.02 L107.09 108.05 L106.56 109.04 L106.01 109.99 L105.44 110.89 L104.84 111.75 L104.22 112.57 L103.57 113.34 L102.9 114.06 L102.22 114.73 L101.51 115.35 L100.78 115.93 L100.03 116.45 L99.27 116.92 L98.49 117.33 L97.69 117.69 L96.88 118 L96.05 118.25 L95.2 118.45 L94.34 118.59 L93.45 118.67 L92.5 118.7 L91.55 118.67 L90.66 118.59 L89.8 118.45 L88.95 118.25 L88.12 118 L87.31 117.69 L86.51 117.33 L85.73 116.92 L84.97 116.45 L84.22 115.93 L83.49 115.35 L82.78 114.73 L82.1 114.06 L81.43 113.34 L80.78 112.57 L80.16 111.75 L79.56 110.89 L78.99 109.99 L78.44 109.04 L77.91 108.05 L77.42 107.02 L76.95 105.96 L76.52 104.86 L76.11 103.72 L75.73 102.55 L75.38 101.35 L75.07 100.12 L74.78 98.86 L74.53 97.57 L74.31 96.26 L74.12 94.92 L73.97 93.55 L73.85 92.16 L73.77 90.73 L73.72 89.27 L73.7 87.7 L73.72 86.13 L73.77 84.67 L73.85 83.24 L73.97 81.85 L74.12 80.48 L74.31 79.14 L74.53 77.83 L74.78 76.54 L75.07 75.28 L75.38 74.05 L75.73 72.85 L76.11 71.68 L76.52 70.54 L76.95 69.44 L77.42 68.38 L77.91 67.35 L78.44 66.36 L78.99 65.41 L79.56 64.51 L80.16 63.65 L80.78 62.83 L81.43 62.06 L82.1 61.34 L82.78 60.67 L83.49 60.05 L84.22 59.47 L84.97 58.95 L85.73 58.48 L86.51 58.07 L87.31 57.71 L88.12 57.4 L88.95 57.15 L89.8 56.95 L90.66 56.81 L91.55 56.73 L92.5 56.7 L93.45 56.73 L94.34 56.81 L95.2 56.95 L96.05 57.15 L96.88 57.4 L97.69 57.71 L98.49 58.07 L99.27 58.48 L100.03 58.95 L100.78 59.47 L101.51 60.05 L102.22 60.67 L102.9 61.34 L103.57 62.06 L104.22 62.83 L104.84 63.65 L105.44 64.51 L106.01 65.41 L106.56 66.36 L107.09 67.35 L107.58 68.38 L108.05 69.44 L108.48 70.54 L108.89 71.68 L109.27 72.85 L109.62 74.05 L109.93 75.28 L110.22 76.54 L110.47 77.83 L110.69 79.14 L110.88 80.48 L111.03 81.85 L111.15 83.24 L111.23 84.67 L111.28 86.13Z" fill="url(#redA)"/>
<path d="M106 66.5h1M108 77.5h1M102 113.5h1M80 112.5h1M107 103.5h1M102 112.5h1M100 113.5h1M77 66.5h1M100 59.5h1M109 92.5h1M74 78.5h1M108 78.5h1M79 65.5h1M83 61.5h1M107 103.5h1M108 80.5h1M110 75.5h1M76 92.5h1M107 70.5h1M96 114.5h1M78 110.5h1M105 67.5h1M86 61.5h1M96 60.5h1M106 69.5h1M97 114.5h1M81 114.5h1M84 60.5h1M76 106.5h1M75 103.5h1M103 112.5h1M78 109.5h1M103 109.5h1M85 62.5h1M89 117.5h1M98 59.5h1M94 117.5h1M87 116.5h1M91 60.5h1M86 115.5h1M108 75.5h1M85 116.5h1M108 81.5h1M104 64.5h1M75 81.5h1M84 113.5h1M95 114.5h1M108 100.5h1M104 110.5h1M102 112.5h1M85 113.5h1M74 95.5h1M89 115.5h1M85 114.5h1M99 113.5h1M80 109.5h1M94 59.5h1M101 62.5h1M79 67.5h1M104 110.5h1M83 113.5h1M89 60.5h1M76 69.5h1M105 69.5h1M83 61.5h1M104 62.5h1M109 102.5h1M74 77.5h1M107 71.5h1M107 102.5h1M103 64.5h1M92 114.5h1M99 115.5h1M97 116.5h1M88 60.5h1M89 115.5h1M75 98.5h1M75 75.5h1M75 91.5h1M75 93.5h1M109 100.5h1M83 115.5h1M77 73.5h1M110 84.5h1M78 72.5h1M110 87.5h1M76 100.5h1M104 67.5h1M104 108.5h1M92 60.5h1M108 74.5h1M91 117.5h1M76 98.5h1M81 63.5h1M82 63.5h1M76 94.5h1M101 112.5h1M102 63.5h1M107 104.5h1M77 107.5h1M88 59.5h1M75 79.5h1M76 98.5h1M109 94.5h1M83 63.5h1M81 114.5h1M77 102.5h1M77 76.5h1M103 112.5h1M82 63.5h1M78 104.5h1M107 103.5h1M91 60.5h1M88 58.5h1M107 74.5h1M108 83.5h1M75 78.5h1M76 98.5h1M80 66.5h1M100 115.5h1M81 112.5h1M103 63.5h1M74 93.5h1M75 79.5h1M76 104.5h1M105 111.5h1M108 100.5h1M103 62.5h1M110 85.5h1M102 62.5h1M96 59.5h1M109 90.5h1M75 100.5h1M109 70.5h1M75 92.5h1M103 64.5h1M108 101.5h1M77 70.5h1M105 109.5h1M74 79.5h1M109 74.5h1M108 98.5h1M78 103.5h1M76 100.5h1M108 70.5h1M108 74.5h1M98 115.5h1M81 66.5h1M108 100.5h1M78 106.5h1M79 64.5h1M93 114.5h1M75 75.5h1M99 61.5h1M83 114.5h1M107 102.5h1M78 66.5h1M103 64.5h1M79 106.5h1M107 66.5h1" stroke="#fb7a7a" stroke-width="1" opacity="0.8"/>
<path d="M36.6 87.7 L37.2 87.05 L38.11 86.11 L39.3 85.1 L40.87 84.09 L42.73 83 L44.6 81.9 L46.4 80.79 L48.2 79.66 L50 78.5 L51.8 77.3 L53.58 76.08 L55.3 74.9 L56.95 73.79 L58.53 72.71 L60 71.7 L61.31 70.76 L62.5 69.87 L63.7 69 L64.93 68.12 L66.17 67.26 L67.4 66.4 L68.63 65.55 L69.87 64.71 L71.1 63.9 L72.33 63.11 L73.57 62.34 L74.8 61.6 L76.03 60.89 L77.27 60.22 L78.5 59.6 L79.73 59.04 L80.97 58.54 L82.2 58.1 L83.43 57.71 L84.67 57.37 L85.9 57.1 L87.17 56.91 L88.43 56.79 L89.6 56.7 L90.7 56.64 L91.71 56.61 L92.4 56.6 L93.09 56.61 L94.1 56.64 L95.2 56.7 L96.37 56.79 L97.63 56.91 L98.9 57.1 L100.13 57.37 L101.37 57.71 L102.6 58.1 L103.83 58.54 L105.07 59.04 L106.3 59.6 L107.53 60.22 L108.77 60.89 L110 61.6 L111.23 62.34 L112.47 63.11 L113.7 63.9 L114.93 64.71 L116.17 65.55 L117.4 66.4 L118.63 67.26 L119.87 68.12 L121.1 69 L122.3 69.87 L123.49 70.76 L124.8 71.7 L126.27 72.71 L127.85 73.79 L129.5 74.9 L131.22 76.08 L133 77.3 L134.8 78.5 L136.6 79.66 L138.4 80.79 L140.2 81.9 L142.07 83 L143.93 84.09 L145.5 85.1 L146.69 86.11 L147.6 87.05 L148.2 87.7 L147.6 88.35 L146.69 89.29 L145.5 90.3 L143.93 91.31 L142.07 92.4 L140.2 93.5 L138.4 94.61 L136.6 95.74 L134.8 96.9 L133 98.1 L131.22 99.32 L129.5 100.5 L127.85 101.61 L126.27 102.69 L124.8 103.7 L123.49 104.64 L122.3 105.53 L121.1 106.4 L119.87 107.28 L118.63 108.14 L117.4 109 L116.17 109.85 L114.93 110.69 L113.7 111.5 L112.47 112.29 L111.23 113.06 L110 113.8 L108.77 114.51 L107.53 115.18 L106.3 115.8 L105.07 116.36 L103.83 116.86 L102.6 117.3 L101.37 117.69 L100.13 118.03 L98.9 118.3 L97.63 118.49 L96.37 118.61 L95.2 118.7 L94.1 118.76 L93.09 118.79 L92.4 118.8 L91.71 118.79 L90.7 118.76 L89.6 118.7 L88.43 118.61 L87.17 118.49 L85.9 118.3 L84.67 118.03 L83.43 117.69 L82.2 117.3 L80.97 116.86 L79.73 116.36 L78.5 115.8 L77.27 115.18 L76.03 114.51 L74.8 113.8 L73.57 113.06 L72.33 112.29 L71.1 111.5 L69.87 110.69 L68.63 109.85 L67.4 109 L66.17 108.14 L64.93 107.28 L63.7 106.4 L62.5 105.53 L61.31 104.64 L60 103.7 L58.53 102.69 L56.95 101.61 L55.3 100.5 L53.58 99.32 L51.8 98.1 L50 96.9 L48.2 95.74 L46.4 94.61 L44.6 93.5 L42.73 92.4 L40.87 91.31 L39.3 90.3 L38.11 89.29 L37.2 88.35Z" fill="none" stroke="#0a0a0a" stroke-width="2.6" stroke-linejoin="round"/>
<path d="M111.3 87.7 L111.28 89.27 L111.23 90.73 L111.15 92.16 L111.03 93.55 L110.88 94.92 L110.69 96.26 L110.47 97.57 L110.22 98.86 L109.93 100.12 L109.62 101.35 L109.27 102.55 L108.89 103.72 L108.48 104.86 L108.05 105.96 L107.58 107.02 L107.09 108.05 L106.56 109.04 L106.01 109.99 L105.44 110.89 L104.84 111.75 L104.22 112.57 L103.57 113.34 L102.9 114.06 L102.22 114.73 L101.51 115.35 L100.78 115.93 L100.03 116.45 L99.27 116.92 L98.49 117.33 L97.69 117.69 L96.88 118 L96.05 118.25 L95.2 118.45 L94.34 118.59 L93.45 118.67 L92.5 118.7 L91.55 118.67 L90.66 118.59 L89.8 118.45 L88.95 118.25 L88.12 118 L87.31 117.69 L86.51 117.33 L85.73 116.92 L84.97 116.45 L84.22 115.93 L83.49 115.35 L82.78 114.73 L82.1 114.06 L81.43 113.34 L80.78 112.57 L80.16 111.75 L79.56 110.89 L78.99 109.99 L78.44 109.04 L77.91 108.05 L77.42 107.02 L76.95 105.96 L76.52 104.86 L76.11 103.72 L75.73 102.55 L75.38 101.35 L75.07 100.12 L74.78 98.86 L74.53 97.57 L74.31 96.26 L74.12 94.92 L73.97 93.55 L73.85 92.16 L73.77 90.73 L73.72 89.27 L73.7 87.7 L73.72 86.13 L73.77 84.67 L73.85 83.24 L73.97 81.85 L74.12 80.48 L74.31 79.14 L74.53 77.83 L74.78 76.54 L75.07 75.28 L75.38 74.05 L75.73 72.85 L76.11 71.68 L76.52 70.54 L76.95 69.44 L77.42 68.38 L77.91 67.35 L78.44 66.36 L78.99 65.41 L79.56 64.51 L80.16 63.65 L80.78 62.83 L81.43 62.06 L82.1 61.34 L82.78 60.67 L83.49 60.05 L84.22 59.47 L84.97 58.95 L85.73 58.48 L86.51 58.07 L87.31 57.71 L88.12 57.4 L88.95 57.15 L89.8 56.95 L90.66 56.81 L91.55 56.73 L92.5 56.7 L93.45 56.73 L94.34 56.81 L95.2 56.95 L96.05 57.15 L96.88 57.4 L97.69 57.71 L98.49 58.07 L99.27 58.48 L100.03 58.95 L100.78 59.47 L101.51 60.05 L102.22 60.67 L102.9 61.34 L103.57 62.06 L104.22 62.83 L104.84 63.65 L105.44 64.51 L106.01 65.41 L106.56 66.36 L107.09 67.35 L107.58 68.38 L108.05 69.44 L108.48 70.54 L108.89 71.68 L109.27 72.85 L109.62 74.05 L109.93 75.28 L110.22 76.54 L110.47 77.83 L110.69 79.14 L110.88 80.48 L111.03 81.85 L111.15 83.24 L111.23 84.67 L111.28 86.13Z" fill="none" stroke="#0a0a0a" stroke-width="2.2"/>
<g fill="#f4f020"><rect x="87.5" y="53.05" width="10" height="1.3"/><path d="M85.1 53.7 l3.6 -2.3 v4.6z M99.3 53.7 l-3.6 -2.3 v4.6z"/></g>
</g>
<rect x="25.4" y="29.2" width="133.6" height="117.2" fill="none" stroke="#222" stroke-width="1.1"/>
<path d="M35.14 29.2v1.5M35.14 146.4v-1.5M54.23 29.2v1.5M54.23 146.4v-1.5M73.31 29.2v1.5M73.31 146.4v-1.5M92.4 29.2v1.5M92.4 146.4v-1.5M111.49 29.2v1.5M111.49 146.4v-1.5M130.57 29.2v1.5M130.57 146.4v-1.5M149.66 29.2v1.5M149.66 146.4v-1.5M25.4 117h1.5M159 117h-1.5M25.4 87.7h1.5M159 87.7h-1.5M25.4 58.4h1.5M159 58.4h-1.5" stroke="#222" stroke-width="0.8"/>
<g font-family="Liberation Serif" font-weight="bold">
<text x="28.4" y="38.5" font-size="9.6" text-anchor="start" fill="#000" >(a)</text>
<text x="92.7" y="40.6" font-size="9.1" text-anchor="middle" fill="#f2f03c" >Evolution Path in TAIs</text>
<text x="153" y="137.9" font-size="8.3" text-anchor="end" fill="#000" ><tspan font-style="italic">W</tspan> = 4</text>
<text x="35.14" y="157.6" font-size="8.1" text-anchor="middle" fill="#000" >-3</text>
<text x="54.23" y="157.6" font-size="8.1" text-anchor="middle" fill="#000" >-2</text>
<text x="73.31" y="157.6" font-size="8.1" text-anchor="middle" fill="#000" >-1</text>
<text x="92.4" y="157.6" font-size="8.1" text-anchor="middle" fill="#000" >0</text>
<text x="111.49" y="157.6" font-size="8.1" text-anchor="middle" fill="#000" >1</text>
<text x="130.57" y="157.6" font-size="8.1" text-anchor="middle" fill="#000" >2</text>
<text x="149.66" y="157.6" font-size="8.1" text-anchor="middle" fill="#000" >3</text>
<text x="21.8" y="32.5" font-size="8.1" text-anchor="end" fill="#000" >10</text>
<text x="21.8" y="61.8" font-size="8.1" text-anchor="end" fill="#000" >5</text>
<text x="21.8" y="91.1" font-size="8.1" text-anchor="end" fill="#000" >0</text>
<text x="21.8" y="120.4" font-size="8.1" text-anchor="end" fill="#000" >-5</text>
<text x="21.8" y="149.7" font-size="8.1" text-anchor="end" fill="#000" >-10</text>
<text x="92.4" y="168.4" font-size="9.1" text-anchor="middle" fill="#000" >γ</text>
<text transform="translate(9.4 88) rotate(-90)" font-size="9.6" text-anchor="middle"><tspan font-style="italic">m</tspan> / <tspan font-style="italic">t</tspan><tspan font-size="6.5" dy="2">2</tspan><tspan dy="-2"> sin(</tspan><tspan font-style="italic">φ</tspan>)</text>
</g>
<rect x="165.8" y="28.2" width="5.3" height="118.8" fill="url(#cbara)"/>
<g font-family="Liberation Serif" font-weight="bold">
<text x="176.2" y="35.7" font-size="8.1" text-anchor="start" fill="#000" >1</text>
<text x="176.7" y="147.3" font-size="8.1" text-anchor="start" fill="#000" >0</text>
</g>
<g clip-path="url(#clipbigg)">
<rect x="25.4" y="188.7" width="133.6" height="117.2" fill="#52a0f0"/>
<path d="M90 216.5h1M88 217.5h1M90 217.5h1M95 217.5h1M96 217.5h1M93 218.5h1M83 219.5h1M85 219.5h1M86 219.5h1M96 219.5h1M99 219.5h1M84 220.5h1M101 220.5h1M99 221.5h1M82 222.5h1M103 222.5h1M104 223.5h1M105 224.5h1M103 226.5h1M104 226.5h1M105 226.5h1M104 227.5h1M76 230.5h1M78 230.5h1M76 232.5h1M76 234.5h1M107 235.5h1M76 236.5h1M108 237.5h1M74 238.5h1M75 239.5h1M76 240.5h1M75 241.5h1M110 244.5h1M74 245.5h1M109 246.5h1M109 248.5h1M110 248.5h1M75 249.5h1M75 250.5h1M110 250.5h1M74 252.5h1M110 253.5h1M75 256.5h1M75 257.5h1M108 257.5h1M75 258.5h1M77 259.5h1M109 259.5h1M109 260.5h1M78 262.5h1M77 265.5h1M106 266.5h1M107 266.5h1M105 268.5h1M80 269.5h1M104 269.5h1M83 270.5h1M102 271.5h1M85 272.5h1M96 273.5h1M102 273.5h1M83 274.5h1M90 274.5h1M93 274.5h1M95 274.5h1M99 274.5h1M85 275.5h1M88 275.5h1M90 275.5h1M90 276.5h1M91 276.5h1M94 276.5h1M96 276.5h1M97 276.5h1M98 276.5h1M90 277.5h1M96 277.5h1" stroke="#f8d8d8" stroke-width="1"/>
<path d="M92 216.5h1M86 217.5h1M87 217.5h1M93 217.5h1M98 217.5h1M98 218.5h1M91 219.5h1M100 219.5h1M82 220.5h1M99 220.5h1M82 221.5h1M105 225.5h1M106 226.5h1M77 229.5h1M108 232.5h1M77 233.5h1M108 234.5h1M110 246.5h1M75 248.5h1M74 250.5h1M74 251.5h1M75 252.5h1M108 253.5h1M75 254.5h1M110 255.5h1M76 259.5h1M107 259.5h1M75 260.5h1M108 260.5h1M76 263.5h1M77 263.5h1M106 265.5h1M77 266.5h1M78 266.5h1M106 268.5h1M81 272.5h1M98 272.5h1M82 273.5h1M86 274.5h1M94 274.5h1M91 275.5h1M97 275.5h1M98 275.5h1M100 275.5h1M92 276.5h1M89 277.5h1M91 277.5h1M95 277.5h1" stroke="#fbe9e9" stroke-width="1"/>
<path d="M104 219.5h1M74 225.5h1M76 225.5h1M112 226.5h1M118 265.5h1M117 266.5h1M110 267.5h1M73 269.5h1M107 269.5h1M115 269.5h1M77 270.5h1M79 274.5h1M82 275.5h1" stroke="#8cc2f4" stroke-width="1"/>
<path d="M72 228.5h1M67 229.5h1M72 230.5h1M73 230.5h1M109 230.5h1M110 230.5h1M115 231.5h1M60 232.5h1M62 232.5h1M64 232.5h1M66 232.5h1M69 232.5h1M73 232.5h1M110 232.5h1M117 232.5h1M59 233.5h1M64 233.5h1M68 233.5h1M110 233.5h1M111 233.5h1M58 234.5h1M59 234.5h1M61 234.5h1M63 234.5h1M69 234.5h1M74 234.5h1M111 234.5h1M117 234.5h1M121 234.5h1M122 234.5h1M124 234.5h1M126 234.5h1M127 234.5h1M62 235.5h1M63 235.5h1M66 235.5h1M71 235.5h1M72 235.5h1M73 235.5h1M112 235.5h1M114 235.5h1M116 235.5h1M118 235.5h1M122 235.5h1M56 236.5h1M59 236.5h1M65 236.5h1M110 236.5h1M114 236.5h1M116 236.5h1M118 236.5h1M119 236.5h1M121 236.5h1M127 236.5h1M128 236.5h1M52 237.5h1M54 237.5h1M60 237.5h1M65 237.5h1M69 237.5h1M111 237.5h1M112 237.5h1M122 237.5h1M64 238.5h1M66 238.5h1M71 238.5h1M72 238.5h1M112 238.5h1M114 238.5h1M125 238.5h1M54 239.5h1M55 239.5h1M66 239.5h1M72 239.5h1M127 239.5h1M128 239.5h1M132 239.5h1M134 239.5h1M54 240.5h1M55 240.5h1M65 240.5h1M70 240.5h1M117 240.5h1M118 240.5h1M121 240.5h1M124 240.5h1M126 240.5h1M136 240.5h1M49 241.5h1M53 241.5h1M58 241.5h1M59 241.5h1M61 241.5h1M62 241.5h1M63 241.5h1M66 241.5h1M68 241.5h1M113 241.5h1M120 241.5h1M122 241.5h1M128 241.5h1M131 241.5h1M133 241.5h1M137 241.5h1M45 242.5h1M48 242.5h1M51 242.5h1M54 242.5h1M59 242.5h1M63 242.5h1M66 242.5h1M71 242.5h1M111 242.5h1M112 242.5h1M113 242.5h1M115 242.5h1M128 242.5h1M131 242.5h1M53 243.5h1M55 243.5h1M58 243.5h1M111 243.5h1M120 243.5h1M122 243.5h1M123 243.5h1M126 243.5h1M136 243.5h1M41 244.5h1M60 244.5h1M63 244.5h1M64 244.5h1M67 244.5h1M68 244.5h1M69 244.5h1M113 244.5h1M115 244.5h1M118 244.5h1M125 244.5h1M127 244.5h1M133 244.5h1M135 244.5h1M137 244.5h1M45 245.5h1M46 245.5h1M48 245.5h1M49 245.5h1M58 245.5h1M59 245.5h1M62 245.5h1M63 245.5h1M65 245.5h1M69 245.5h1M72 245.5h1M73 245.5h1M112 245.5h1M114 245.5h1M117 245.5h1M121 245.5h1M134 245.5h1M136 245.5h1M141 245.5h1M142 245.5h1M144 245.5h1M145 245.5h1M40 246.5h1M43 246.5h1M46 246.5h1M47 246.5h1M48 246.5h1M50 246.5h1M53 246.5h1M57 246.5h1M63 246.5h1M70 246.5h1M71 246.5h1M73 246.5h1M121 246.5h1M124 246.5h1M130 246.5h1M131 246.5h1M135 246.5h1M137 246.5h1M140 246.5h1M37 247.5h1M38 247.5h1M42 247.5h1M46 247.5h1M55 247.5h1M62 247.5h1M64 247.5h1M66 247.5h1M68 247.5h1M72 247.5h1M73 247.5h1M116 247.5h1M119 247.5h1M122 247.5h1M127 247.5h1M131 247.5h1M133 247.5h1M135 247.5h1M136 247.5h1M140 247.5h1M143 247.5h1M146 247.5h1M41 248.5h1M48 248.5h1M58 248.5h1M60 248.5h1M65 248.5h1M66 248.5h1M70 248.5h1M73 248.5h1M115 248.5h1M120 248.5h1M121 248.5h1M123 248.5h1M131 248.5h1M135 248.5h1M136 248.5h1M139 248.5h1M142 248.5h1M144 248.5h1M47 249.5h1M48 249.5h1M51 249.5h1M56 249.5h1M61 249.5h1M62 249.5h1M68 249.5h1M70 249.5h1M119 249.5h1M124 249.5h1M128 249.5h1M132 249.5h1M135 249.5h1M141 249.5h1M142 249.5h1M52 250.5h1M58 250.5h1M59 250.5h1M69 250.5h1M115 250.5h1M116 250.5h1M121 250.5h1M124 250.5h1M127 250.5h1M128 250.5h1M130 250.5h1M134 250.5h1M135 250.5h1M136 250.5h1M48 251.5h1M50 251.5h1M51 251.5h1M53 251.5h1M59 251.5h1M60 251.5h1M61 251.5h1M118 251.5h1M120 251.5h1M121 251.5h1M133 251.5h1M134 251.5h1M136 251.5h1M137 251.5h1M138 251.5h1M45 252.5h1M49 252.5h1M62 252.5h1M63 252.5h1M72 252.5h1M111 252.5h1M120 252.5h1M126 252.5h1M130 252.5h1M137 252.5h1M49 253.5h1M52 253.5h1M53 253.5h1M55 253.5h1M56 253.5h1M61 253.5h1M64 253.5h1M67 253.5h1M69 253.5h1M73 253.5h1M112 253.5h1M115 253.5h1M116 253.5h1M120 253.5h1M123 253.5h1M125 253.5h1M127 253.5h1M130 253.5h1M48 254.5h1M50 254.5h1M51 254.5h1M52 254.5h1M55 254.5h1M65 254.5h1M67 254.5h1M68 254.5h1M115 254.5h1M116 254.5h1M123 254.5h1M125 254.5h1M126 254.5h1M130 254.5h1M132 254.5h1M133 254.5h1M52 255.5h1M55 255.5h1M56 255.5h1M61 255.5h1M64 255.5h1M66 255.5h1M67 255.5h1M68 255.5h1M118 255.5h1M119 255.5h1M124 255.5h1M126 255.5h1M132 255.5h1M54 256.5h1M62 256.5h1M63 256.5h1M65 256.5h1M69 256.5h1M114 256.5h1M116 256.5h1M125 256.5h1M128 256.5h1M129 256.5h1M131 256.5h1M132 256.5h1M53 257.5h1M54 257.5h1M56 257.5h1M61 257.5h1M67 257.5h1M70 257.5h1M115 257.5h1M124 257.5h1M125 257.5h1M129 257.5h1M56 258.5h1M69 258.5h1M70 258.5h1M74 258.5h1M110 258.5h1M113 258.5h1M117 258.5h1M119 258.5h1M121 258.5h1M122 258.5h1M126 258.5h1M128 258.5h1M63 259.5h1M70 259.5h1M72 259.5h1M111 259.5h1M119 259.5h1M120 259.5h1M62 260.5h1M64 260.5h1M65 260.5h1M70 260.5h1M73 260.5h1M74 260.5h1M110 260.5h1M112 260.5h1M114 260.5h1M120 260.5h1M122 260.5h1M64 261.5h1M68 261.5h1M110 261.5h1M112 261.5h1M116 261.5h1M118 261.5h1M121 261.5h1M122 261.5h1M68 262.5h1M116 262.5h1M64 263.5h1M66 263.5h1M68 263.5h1M112 263.5h1M115 263.5h1M121 263.5h1" stroke="#b4d6f7" stroke-width="1"/>
<path d="M63 230.5h1M68 231.5h1M110 231.5h1M111 232.5h1M69 235.5h1M62 236.5h1M64 236.5h1M124 236.5h1M120 238.5h1M133 238.5h1M133 239.5h1M56 240.5h1M70 241.5h1M132 242.5h1M47 243.5h1M49 243.5h1M61 243.5h1M116 243.5h1M128 243.5h1M53 244.5h1M126 244.5h1M62 246.5h1M141 246.5h1M125 247.5h1M50 248.5h1M53 248.5h1M73 249.5h1M118 252.5h1M59 253.5h1M68 253.5h1M71 257.5h1M112 259.5h1M66 261.5h1" stroke="#f06060" stroke-width="1"/>
<path d="M71 230.5h1M74 230.5h1M61 231.5h1M67 231.5h1M69 231.5h1M70 231.5h1M71 231.5h1M116 231.5h1M61 232.5h1M74 232.5h1M109 232.5h1M113 232.5h1M115 232.5h1M116 232.5h1M69 233.5h1M74 233.5h1M114 233.5h1M119 233.5h1M60 234.5h1M67 234.5h1M68 234.5h1M119 234.5h1M59 235.5h1M64 235.5h1M74 235.5h1M126 235.5h1M128 235.5h1M61 236.5h1M70 236.5h1M115 236.5h1M125 236.5h1M126 236.5h1M130 236.5h1M113 237.5h1M116 237.5h1M123 237.5h1M124 237.5h1M55 238.5h1M59 238.5h1M67 238.5h1M111 238.5h1M116 238.5h1M128 238.5h1M130 238.5h1M60 239.5h1M63 239.5h1M65 239.5h1M118 239.5h1M120 239.5h1M122 239.5h1M124 239.5h1M129 239.5h1M59 240.5h1M61 240.5h1M72 240.5h1M113 240.5h1M120 240.5h1M46 241.5h1M50 241.5h1M116 241.5h1M118 241.5h1M121 241.5h1M127 241.5h1M130 241.5h1M136 241.5h1M52 242.5h1M57 242.5h1M62 242.5h1M64 242.5h1M73 242.5h1M119 242.5h1M127 242.5h1M50 243.5h1M60 243.5h1M62 243.5h1M66 243.5h1M72 243.5h1M129 243.5h1M138 243.5h1M142 243.5h1M43 244.5h1M44 244.5h1M50 244.5h1M56 244.5h1M71 244.5h1M120 244.5h1M122 244.5h1M131 244.5h1M138 244.5h1M139 244.5h1M56 245.5h1M60 245.5h1M111 245.5h1M113 245.5h1M115 245.5h1M129 245.5h1M38 246.5h1M44 246.5h1M45 246.5h1M52 246.5h1M56 246.5h1M113 246.5h1M114 246.5h1M125 246.5h1M133 246.5h1M134 246.5h1M144 246.5h1M146 246.5h1M43 247.5h1M47 247.5h1M61 247.5h1M65 247.5h1M111 247.5h1M120 247.5h1M130 247.5h1M141 247.5h1M54 248.5h1M55 248.5h1M57 248.5h1M68 248.5h1M117 248.5h1M122 248.5h1M133 248.5h1M137 248.5h1M141 248.5h1M40 249.5h1M57 249.5h1M67 249.5h1M71 249.5h1M113 249.5h1M117 249.5h1M125 249.5h1M134 249.5h1M42 250.5h1M48 250.5h1M51 250.5h1M57 250.5h1M63 250.5h1M66 250.5h1M111 250.5h1M118 250.5h1M123 250.5h1M129 250.5h1M132 250.5h1M139 250.5h1M142 250.5h1M43 251.5h1M46 251.5h1M66 251.5h1M73 251.5h1M112 251.5h1M129 251.5h1M64 252.5h1M66 252.5h1M114 252.5h1M115 252.5h1M124 252.5h1M129 252.5h1M133 252.5h1M47 253.5h1M48 253.5h1M51 253.5h1M54 253.5h1M62 253.5h1M122 253.5h1M126 253.5h1M128 253.5h1M134 253.5h1M135 253.5h1M60 254.5h1M120 254.5h1M122 254.5h1M128 254.5h1M131 254.5h1M63 255.5h1M71 255.5h1M121 255.5h1M131 255.5h1M51 256.5h1M56 256.5h1M57 256.5h1M73 256.5h1M118 256.5h1M57 257.5h1M59 257.5h1M121 257.5h1M123 257.5h1M131 257.5h1M54 258.5h1M55 258.5h1M65 258.5h1M67 258.5h1M116 258.5h1M123 258.5h1M67 259.5h1M69 259.5h1M73 259.5h1M113 259.5h1M125 259.5h1M126 259.5h1M61 260.5h1M71 260.5h1M117 260.5h1M126 260.5h1M65 261.5h1M72 261.5h1M73 261.5h1M75 261.5h1M109 261.5h1M115 261.5h1M117 261.5h1M120 261.5h1M74 262.5h1M111 262.5h1M74 263.5h1M75 263.5h1M109 263.5h1M116 263.5h1M113 265.5h1" stroke="#8ac0f3" stroke-width="1"/>
<path d="M75 230.5h1M72 231.5h1M114 232.5h1M65 233.5h1M67 233.5h1M112 233.5h1M113 233.5h1M112 234.5h1M60 235.5h1M67 235.5h1M111 235.5h1M115 235.5h1M120 235.5h1M55 236.5h1M63 236.5h1M74 236.5h1M112 236.5h1M120 236.5h1M129 236.5h1M53 237.5h1M61 237.5h1M68 237.5h1M72 237.5h1M73 237.5h1M114 237.5h1M115 237.5h1M117 237.5h1M125 237.5h1M127 237.5h1M131 237.5h1M70 238.5h1M122 238.5h1M57 239.5h1M59 239.5h1M62 239.5h1M67 239.5h1M69 239.5h1M116 239.5h1M121 239.5h1M126 239.5h1M130 239.5h1M49 240.5h1M63 240.5h1M116 240.5h1M131 240.5h1M133 240.5h1M46 242.5h1M53 242.5h1M60 242.5h1M67 242.5h1M124 242.5h1M129 242.5h1M133 242.5h1M138 242.5h1M57 243.5h1M118 243.5h1M134 243.5h1M65 244.5h1M73 244.5h1M116 244.5h1M129 244.5h1M130 244.5h1M132 244.5h1M141 244.5h1M143 244.5h1M50 245.5h1M53 245.5h1M55 245.5h1M66 245.5h1M123 245.5h1M124 245.5h1M67 246.5h1M72 246.5h1M128 246.5h1M132 246.5h1M142 246.5h1M49 247.5h1M59 247.5h1M67 247.5h1M112 247.5h1M124 247.5h1M126 247.5h1M134 247.5h1M142 247.5h1M42 248.5h1M43 248.5h1M51 248.5h1M127 248.5h1M145 248.5h1M42 249.5h1M44 249.5h1M46 249.5h1M50 249.5h1M54 249.5h1M55 249.5h1M63 249.5h1M64 249.5h1M133 249.5h1M138 249.5h1M144 249.5h1M44 250.5h1M55 250.5h1M60 250.5h1M67 250.5h1M71 250.5h1M119 250.5h1M133 250.5h1M49 251.5h1M54 251.5h1M55 251.5h1M67 251.5h1M123 251.5h1M130 251.5h1M51 252.5h1M52 252.5h1M71 252.5h1M121 252.5h1M127 252.5h1M128 252.5h1M135 252.5h1M66 253.5h1M113 253.5h1M137 253.5h1M49 254.5h1M54 254.5h1M56 254.5h1M66 254.5h1M71 254.5h1M114 254.5h1M118 254.5h1M121 254.5h1M53 255.5h1M62 255.5h1M69 255.5h1M120 255.5h1M133 255.5h1M134 255.5h1M64 256.5h1M67 256.5h1M71 256.5h1M122 256.5h1M130 256.5h1M58 257.5h1M60 257.5h1M68 257.5h1M113 257.5h1M114 257.5h1M118 257.5h1M120 257.5h1M128 257.5h1M130 257.5h1M59 258.5h1M61 258.5h1M111 258.5h1M115 258.5h1M63 260.5h1M123 260.5h1M124 260.5h1M70 261.5h1M111 261.5h1M119 261.5h1M65 262.5h1M75 262.5h1" stroke="#f2f8ff" stroke-width="1"/>
<path d="M111.3 247.2 L111.28 248.77 L111.23 250.24 L111.15 251.67 L111.03 253.07 L110.88 254.44 L110.69 255.78 L110.47 257.1 L110.22 258.39 L109.93 259.66 L109.62 260.89 L109.27 262.1 L108.89 263.27 L108.48 264.41 L108.05 265.52 L107.58 266.59 L107.09 267.62 L106.56 268.61 L106.01 269.56 L105.44 270.46 L104.84 271.33 L104.22 272.15 L103.57 272.92 L102.9 273.64 L102.22 274.32 L101.51 274.94 L100.78 275.52 L100.03 276.04 L99.27 276.51 L98.49 276.93 L97.69 277.29 L96.88 277.6 L96.05 277.85 L95.2 278.05 L94.34 278.19 L93.45 278.27 L92.5 278.3 L91.55 278.27 L90.66 278.19 L89.8 278.05 L88.95 277.85 L88.12 277.6 L87.31 277.29 L86.51 276.93 L85.73 276.51 L84.97 276.04 L84.22 275.52 L83.49 274.94 L82.78 274.32 L82.1 273.64 L81.43 272.92 L80.78 272.15 L80.16 271.33 L79.56 270.46 L78.99 269.56 L78.44 268.61 L77.91 267.62 L77.42 266.59 L76.95 265.52 L76.52 264.41 L76.11 263.27 L75.73 262.1 L75.38 260.89 L75.07 259.66 L74.78 258.39 L74.53 257.1 L74.31 255.78 L74.12 254.44 L73.97 253.07 L73.85 251.67 L73.77 250.24 L73.72 248.77 L73.7 247.2 L73.72 245.63 L73.77 244.16 L73.85 242.73 L73.97 241.33 L74.12 239.96 L74.31 238.62 L74.53 237.3 L74.78 236.01 L75.07 234.74 L75.38 233.51 L75.73 232.3 L76.11 231.13 L76.52 229.99 L76.95 228.88 L77.42 227.81 L77.91 226.78 L78.44 225.79 L78.99 224.84 L79.56 223.94 L80.16 223.07 L80.78 222.25 L81.43 221.48 L82.1 220.76 L82.78 220.08 L83.49 219.46 L84.22 218.88 L84.97 218.36 L85.73 217.89 L86.51 217.47 L87.31 217.11 L88.12 216.8 L88.95 216.55 L89.8 216.35 L90.66 216.21 L91.55 216.13 L92.5 216.1 L93.45 216.13 L94.34 216.21 L95.2 216.35 L96.05 216.55 L96.88 216.8 L97.69 217.11 L98.49 217.47 L99.27 217.89 L100.03 218.36 L100.78 218.88 L101.51 219.46 L102.22 220.08 L102.9 220.76 L103.57 221.48 L104.22 222.25 L104.84 223.07 L105.44 223.94 L106.01 224.84 L106.56 225.79 L107.09 226.78 L107.58 227.81 L108.05 228.88 L108.48 229.99 L108.89 231.13 L109.27 232.3 L109.62 233.51 L109.93 234.74 L110.22 236.01 L110.47 237.3 L110.69 238.62 L110.88 239.96 L111.03 241.33 L111.15 242.73 L111.23 244.16 L111.28 245.63Z" fill="#ff3733"/>
<path d="M90 216.5h1M88 217.5h1M90 217.5h1M95 217.5h1M96 217.5h1M93 218.5h1M83 219.5h1M85 219.5h1M86 219.5h1M96 219.5h1M99 219.5h1M84 220.5h1M101 220.5h1M99 221.5h1M82 222.5h1M103 222.5h1M104 223.5h1M105 224.5h1M103 226.5h1M104 226.5h1M105 226.5h1M104 227.5h1M76 230.5h1M78 230.5h1M76 232.5h1M76 234.5h1M107 235.5h1M76 236.5h1M108 237.5h1M74 238.5h1M75 239.5h1M76 240.5h1M75 241.5h1M110 244.5h1M74 245.5h1M109 246.5h1M109 248.5h1M110 248.5h1M75 249.5h1M75 250.5h1M110 250.5h1M74 252.5h1M110 253.5h1M75 256.5h1M75 257.5h1M108 257.5h1M75 258.5h1M77 259.5h1M109 259.5h1M109 260.5h1M78 262.5h1M77 265.5h1M106 266.5h1M107 266.5h1M105 268.5h1M80 269.5h1M104 269.5h1M83 270.5h1M102 271.5h1M85 272.5h1M96 273.5h1M102 273.5h1M83 274.5h1M90 274.5h1M93 274.5h1M95 274.5h1M99 274.5h1M85 275.5h1M88 275.5h1M90 275.5h1M90 276.5h1M91 276.5h1M94 276.5h1M96 276.5h1M97 276.5h1M98 276.5h1M90 277.5h1M96 277.5h1" stroke="#f8d8d8" stroke-width="1"/>
<path d="M92 216.5h1M86 217.5h1M87 217.5h1M93 217.5h1M98 217.5h1M98 218.5h1M91 219.5h1M100 219.5h1M82 220.5h1M99 220.5h1M82 221.5h1M105 225.5h1M106 226.5h1M77 229.5h1M108 232.5h1M77 233.5h1M108 234.5h1M110 246.5h1M75 248.5h1M74 250.5h1M74 251.5h1M75 252.5h1M108 253.5h1M75 254.5h1M110 255.5h1M76 259.5h1M107 259.5h1M75 260.5h1M108 260.5h1M76 263.5h1M77 263.5h1M106 265.5h1M77 266.5h1M78 266.5h1M106 268.5h1M81 272.5h1M98 272.5h1M82 273.5h1M86 274.5h1M94 274.5h1M91 275.5h1M97 275.5h1M98 275.5h1M100 275.5h1M92 276.5h1M89 277.5h1M91 277.5h1M95 277.5h1" stroke="#fbe9e9" stroke-width="1"/>
<path d="M36.6 247.2 L37.2 246.69 L38.11 245.94 L39.3 245.1 L40.87 244.21 L42.73 243.23 L44.6 242.2 L46.4 241.14 L48.2 240.04 L50 238.9 L51.8 237.69 L53.58 236.43 L55.3 235.2 L56.95 233.99 L58.53 232.8 L60 231.7 L61.31 230.75 L62.5 229.89 L63.7 229 L64.93 228.04 L66.17 227.07 L67.4 226.1 L68.63 225.14 L69.87 224.19 L71.1 223.3 L72.33 222.49 L73.57 221.73 L74.8 221 L76.03 220.29 L77.27 219.62 L78.5 219 L79.73 218.44 L80.97 217.93 L82.2 217.5 L83.43 217.17 L84.67 216.91 L85.9 216.7 L87.17 216.53 L88.43 216.4 L89.6 216.3 L90.7 216.24 L91.71 216.21 L92.4 216.2 L93.09 216.21 L94.1 216.24 L95.2 216.3 L96.37 216.4 L97.63 216.53 L98.9 216.7 L100.13 216.91 L101.37 217.17 L102.6 217.5 L103.83 217.93 L105.07 218.44 L106.3 219 L107.53 219.62 L108.77 220.29 L110 221 L111.23 221.73 L112.47 222.49 L113.7 223.3 L114.93 224.19 L116.17 225.14 L117.4 226.1 L118.63 227.07 L119.87 228.04 L121.1 229 L122.3 229.89 L123.49 230.75 L124.8 231.7 L126.27 232.8 L127.85 233.99 L129.5 235.2 L131.22 236.43 L133 237.69 L134.8 238.9 L136.6 240.04 L138.4 241.14 L140.2 242.2 L142.07 243.23 L143.93 244.21 L145.5 245.1 L146.69 245.94 L147.6 246.69 L148.2 247.2 L147.6 247.71 L146.69 248.46 L145.5 249.3 L143.93 250.19 L142.07 251.17 L140.2 252.2 L138.4 253.26 L136.6 254.36 L134.8 255.5 L133 256.71 L131.22 257.97 L129.5 259.2 L127.85 260.41 L126.27 261.6 L124.8 262.7 L123.49 263.65 L122.3 264.51 L121.1 265.4 L119.87 266.36 L118.63 267.33 L117.4 268.3 L116.17 269.26 L114.93 270.21 L113.7 271.1 L112.47 271.91 L111.23 272.67 L110 273.4 L108.77 274.11 L107.53 274.78 L106.3 275.4 L105.07 275.96 L103.83 276.47 L102.6 276.9 L101.37 277.23 L100.13 277.49 L98.9 277.7 L97.63 277.87 L96.37 278 L95.2 278.1 L94.1 278.16 L93.09 278.19 L92.4 278.2 L91.71 278.19 L90.7 278.16 L89.6 278.1 L88.43 278 L87.17 277.87 L85.9 277.7 L84.67 277.49 L83.43 277.23 L82.2 276.9 L80.97 276.47 L79.73 275.96 L78.5 275.4 L77.27 274.78 L76.03 274.11 L74.8 273.4 L73.57 272.67 L72.33 271.91 L71.1 271.1 L69.87 270.21 L68.63 269.26 L67.4 268.3 L66.17 267.33 L64.93 266.36 L63.7 265.4 L62.5 264.51 L61.31 263.65 L60 262.7 L58.53 261.6 L56.95 260.41 L55.3 259.2 L53.58 257.97 L51.8 256.71 L50 255.5 L48.2 254.36 L46.4 253.26 L44.6 252.2 L42.73 251.17 L40.87 250.19 L39.3 249.3 L38.11 248.46 L37.2 247.71Z" fill="none" stroke="#0a0a0a" stroke-width="2.6" stroke-linejoin="round"/>
<path d="M111.3 247.2 L111.28 248.77 L111.23 250.24 L111.15 251.67 L111.03 253.07 L110.88 254.44 L110.69 255.78 L110.47 257.1 L110.22 258.39 L109.93 259.66 L109.62 260.89 L109.27 262.1 L108.89 263.27 L108.48 264.41 L108.05 265.52 L107.58 266.59 L107.09 267.62 L106.56 268.61 L106.01 269.56 L105.44 270.46 L104.84 271.33 L104.22 272.15 L103.57 272.92 L102.9 273.64 L102.22 274.32 L101.51 274.94 L100.78 275.52 L100.03 276.04 L99.27 276.51 L98.49 276.93 L97.69 277.29 L96.88 277.6 L96.05 277.85 L95.2 278.05 L94.34 278.19 L93.45 278.27 L92.5 278.3 L91.55 278.27 L90.66 278.19 L89.8 278.05 L88.95 277.85 L88.12 277.6 L87.31 277.29 L86.51 276.93 L85.73 276.51 L84.97 276.04 L84.22 275.52 L83.49 274.94 L82.78 274.32 L82.1 273.64 L81.43 272.92 L80.78 272.15 L80.16 271.33 L79.56 270.46 L78.99 269.56 L78.44 268.61 L77.91 267.62 L77.42 266.59 L76.95 265.52 L76.52 264.41 L76.11 263.27 L75.73 262.1 L75.38 260.89 L75.07 259.66 L74.78 258.39 L74.53 257.1 L74.31 255.78 L74.12 254.44 L73.97 253.07 L73.85 251.67 L73.77 250.24 L73.72 248.77 L73.7 247.2 L73.72 245.63 L73.77 244.16 L73.85 242.73 L73.97 241.33 L74.12 239.96 L74.31 238.62 L74.53 237.3 L74.78 236.01 L75.07 234.74 L75.38 233.51 L75.73 232.3 L76.11 231.13 L76.52 229.99 L76.95 228.88 L77.42 227.81 L77.91 226.78 L78.44 225.79 L78.99 224.84 L79.56 223.94 L80.16 223.07 L80.78 222.25 L81.43 221.48 L82.1 220.76 L82.78 220.08 L83.49 219.46 L84.22 218.88 L84.97 218.36 L85.73 217.89 L86.51 217.47 L87.31 217.11 L88.12 216.8 L88.95 216.55 L89.8 216.35 L90.66 216.21 L91.55 216.13 L92.5 216.1 L93.45 216.13 L94.34 216.21 L95.2 216.35 L96.05 216.55 L96.88 216.8 L97.69 217.11 L98.49 217.47 L99.27 217.89 L100.03 218.36 L100.78 218.88 L101.51 219.46 L102.22 220.08 L102.9 220.76 L103.57 221.48 L104.22 222.25 L104.84 223.07 L105.44 223.94 L106.01 224.84 L106.56 225.79 L107.09 226.78 L107.58 227.81 L108.05 228.88 L108.48 229.99 L108.89 231.13 L109.27 232.3 L109.62 233.51 L109.93 234.74 L110.22 236.01 L110.47 237.3 L110.69 238.62 L110.88 239.96 L111.03 241.33 L111.15 242.73 L111.23 244.16 L111.28 245.63Z" fill="none" stroke="#0a0a0a" stroke-width="2.2"/>
<g fill="#f4f020"><rect x="87.5" y="225.35" width="10" height="1.3"/><path d="M85.1 226 l3.6 -2.3 v4.6z M99.3 226 l-3.6 -2.3 v4.6z"/></g>
</g>
<rect x="25.4" y="188.7" width="133.6" height="117.2" fill="none" stroke="#222" stroke-width="1.1"/>
<path d="M35.14 188.7v1.5M35.14 305.9v-1.5M54.23 188.7v1.5M54.23 305.9v-1.5M73.31 188.7v1.5M73.31 305.9v-1.5M92.4 188.7v1.5M92.4 305.9v-1.5M111.49 188.7v1.5M111.49 305.9v-1.5M130.57 188.7v1.5M130.57 305.9v-1.5M149.66 188.7v1.5M149.66 305.9v-1.5M25.4 276.5h1.5M159 276.5h-1.5M25.4 247.2h1.5M159 247.2h-1.5M25.4 217.9h1.5M159 217.9h-1.5" stroke="#222" stroke-width="0.8"/>
<g font-family="Liberation Serif" font-weight="bold">
<text x="28.4" y="199.2" font-size="9.6" text-anchor="start" fill="#000" >(g)</text>
<text x="92.7" y="209.3" font-size="9.1" text-anchor="middle" fill="#f2f03c" >Evolution Path in TIs</text>
<text x="153" y="297.4" font-size="8.3" text-anchor="end" fill="#000" ><tspan font-style="italic">W</tspan> = 0</text>
<text x="35.14" y="317.1" font-size="8.1" text-anchor="middle" fill="#000" >-3</text>
<text x="54.23" y="317.1" font-size="8.1" text-anchor="middle" fill="#000" >-2</text>
<text x="73.31" y="317.1" font-size="8.1" text-anchor="middle" fill="#000" >-1</text>
<text x="92.4" y="317.1" font-size="8.1" text-anchor="middle" fill="#000" >0</text>
<text x="111.49" y="317.1" font-size="8.1" text-anchor="middle" fill="#000" >1</text>
<text x="130.57" y="317.1" font-size="8.1" text-anchor="middle" fill="#000" >2</text>
<text x="149.66" y="317.1" font-size="8.1" text-anchor="middle" fill="#000" >3</text>
<text x="21.8" y="192" font-size="8.1" text-anchor="end" fill="#000" >10</text>
<text x="21.8" y="221.3" font-size="8.1" text-anchor="end" fill="#000" >5</text>
<text x="21.8" y="250.6" font-size="8.1" text-anchor="end" fill="#000" >0</text>
<text x="21.8" y="279.9" font-size="8.1" text-anchor="end" fill="#000" >-5</text>
<text x="21.8" y="309.2" font-size="8.1" text-anchor="end" fill="#000" >-10</text>
<text x="92.4" y="327.9" font-size="9.1" text-anchor="middle" fill="#000" >γ</text>
<text transform="translate(9.4 247.5) rotate(-90)" font-size="9.6" text-anchor="middle"><tspan font-style="italic">m</tspan> / <tspan font-style="italic">t</tspan><tspan font-size="6.5" dy="2">2</tspan><tspan dy="-2"> sin(</tspan><tspan font-style="italic">φ</tspan>)</text>
</g>
<rect x="165.8" y="187.7" width="5.3" height="118.8" fill="url(#cbarg)"/>
<g font-family="Liberation Serif" font-weight="bold">
<text x="176.2" y="195.2" font-size="8.1" text-anchor="start" fill="#000" >1</text>
<text x="176.7" y="306.8" font-size="8.1" text-anchor="start" fill="#000" >0</text>
</g>
<g clip-path="url(#clipscb)">
<path d="M226.7 72.33h0.6M265.92 53.26h0.6M270.47 48.73h0.6M220.15 68.88h0.6M280.31 50.17h0.6M230.59 72.64h0.6M229.57 74.61h0.6M231.06 68.87h0.6M254.11 54.04h0.6M225.25 75.62h0.6M243.41 64.83h0.6M278.08 49.1h0.6M246.93 59.09h0.6M281.74 46.06h0.6M264.94 49.87h0.6M256.45 57.3h0.6M274.09 52h0.6M271.39 46.1h0.6M273.64 45.99h0.6M251.31 60.74h0.6M226.8 70.17h0.6M267.38 49.35h0.6M225.05 76.97h0.6M237.68 68.38h0.6M260.49 52.9h0.6M224.58 75.11h0.6M252.09 63.54h0.6M243.75 63.36h0.6M261.09 52.9h0.6M270.39 47.19h0.6M220.1 75.93h0.6M226.32 70.51h0.6M225.18 75.34h0.6M253.11 60.11h0.6M226.67 76.59h0.6M256.95 55.27h0.6M234.38 67.16h0.6M235.1 68.64h0.6M279.61 44.49h0.6M217.6 77.61h0.6M236.89 69.44h0.6M271.88 52.27h0.6M262.03 49.61h0.6M218.48 70.06h0.6M240.53 70.86h0.6M266.14 49.36h0.6M242.52 68.21h0.6M258.79 56.05h0.6M256.06 60.2h0.6M243.28 62.49h0.6M274.53 51.78h0.6M218.29 76.3h0.6M224.06 76.56h0.6M254.86 60.52h0.6M267.73 48.78h0.6M266.23 50.12h0.6M276.38 51.36h0.6M224.71 70.38h0.6M269.4 46.82h0.6M269.11 50.1h0.6M219.29 78.89h0.6M225.31 71.26h0.6M220.44 74.03h0.6M220.13 69.7h0.6M273.98 47.28h0.6M281.37 45.36h0.6M263.01 56.97h0.6M282.95 52.38h0.6M231.85 67.02h0.6M237.45 65.23h0.6M263.53 48.05h0.6M239.91 66.63h0.6M279.51 45.63h0.6M230.58 72.95h0.6M261.54 48.56h0.6M227.81 69.54h0.6M273.44 55.88h0.6M217.44 74.36h0.6M245.4 67.08h0.6M231.5 72.22h0.6M277.28 44.63h0.6M234.75 66.75h0.6M228.73 69.53h0.6M228.29 70.28h0.6M241.72 67.1h0.6M273.05 53.37h0.6M250.33 59.48h0.6M234.23 67.86h0.6M255.44 59.15h0.6M278.41 45.8h0.6M239.69 67.11h0.6M223.48 74.14h0.6M222.1 78h0.6M272.79 53.13h0.6M280.35 50.03h0.6M248.81 59.71h0.6M263.51 50.96h0.6M242 69h0.6M219.6 68.1h0.6M267.15 49.49h0.6M223.55 71.77h0.6M268.44 51.76h0.6M275.32 53.85h0.6M229.15 77.17h0.6M249.77 60.86h0.6M264.49 47.51h0.6M250.82 55.59h0.6M273.12 45.69h0.6M266.98 51.6h0.6M217.06 73.62h0.6M247.1 64.93h0.6M259.51 49.64h0.6M259.91 58.34h0.6M259.72 51.5h0.6M281 50.35h0.6M233.02 72.29h0.6M228.52 74.38h0.6M242.98 64.91h0.6M224.72 71.81h0.6M266.92 55.38h0.6M245.59 67.54h0.6M234.82 69.32h0.6M227.84 69.4h0.6M241.48 69.2h0.6M235.58 69.63h0.6M236.41 69.28h0.6M259.52 52.55h0.6M246.27 64.94h0.6M267.85 50.92h0.6M251.86 61.93h0.6M227.74 76.23h0.6M271.53 47.6h0.6M267.3 46.43h0.6M271.82 47.33h0.6M240.24 63.7h0.6M266.89 51.94h0.6M251.61 62.89h0.6M234.71 74.97h0.6M237.73 70.27h0.6M233.13 73.81h0.6M259.3 55.7h0.6M277.61 50.34h0.6M254.51 57.48h0.6M258.62 53.2h0.6M235.9 70.72h0.6M283.51 47.09h0.6M283.31 49.73h0.6M245.44 58.16h0.6M225.32 76.39h0.6M221.08 71.07h0.6M253.79 56.94h0.6M239.36 67.81h0.6M255.63 54.25h0.6M277.74 51.89h0.6M266.63 50.35h0.6M219.29 73.15h0.6M268.88 52.58h0.6M265.37 49.27h0.6M236.47 66.99h0.6M229.1 75.41h0.6M267.83 56.02h0.6M253.1 57.98h0.6M266.68 48.35h0.6M265.67 50.59h0.6M232.52 75.89h0.6M223.76 74.71h0.6M271.11 51.78h0.6M237.74 73.55h0.6M239.25 65.78h0.6M258.34 52.51h0.6M223.53 67.93h0.6M262.28 50.71h0.6M275.12 50.63h0.6M274.81 50.16h0.6M248.06 64.64h0.6M264.84 51h0.6M254.3 55.49h0.6M270.46 55.21h0.6M228.22 72.53h0.6M237.05 67.93h0.6M229.59 69.45h0.6M266.16 50.4h0.6M224.64 66.63h0.6M227.5 72.18h0.6M246.66 63.57h0.6M221.37 75.48h0.6M229.63 70.15h0.6M231.03 70.26h0.6M229.71 69.71h0.6M251.55 62.54h0.6M240.54 70.12h0.6M249.17 60.74h0.6M235.56 69.7h0.6M230.14 74.82h0.6M277.82 45.21h0.6M272.35 47.31h0.6M246.97 59.72h0.6M271.09 56.12h0.6M276.79 46.62h0.6M262.93 54.74h0.6M263.05 47.22h0.6M270.87 52.47h0.6M240.47 67.23h0.6M241.34 61.97h0.6M233.55 71.24h0.6M260.17 57.85h0.6M228.83 74.72h0.6M232.79 66.73h0.6M277.12 48.55h0.6M280.91 50.11h0.6M265.82 55.39h0.6M241.18 68.93h0.6M238.97 70.65h0.6M237.11 71.49h0.6M247.31 64.59h0.6M221.3 69.49h0.6M272.81 49.71h0.6M225.63 76.08h0.6M278.98 49.05h0.6M264.91 50.38h0.6M266.56 50.54h0.6M272.61 48.4h0.6M225.51 73.55h0.6M246.64 61.64h0.6M231.71 73.26h0.6M257 50.66h0.6M223.92 71.45h0.6M248.05 64.06h0.6M235.1 72.36h0.6M280.35 47.56h0.6M264.35 51.17h0.6M268.02 54.56h0.6M235.21 70.53h0.6M228.3 75.91h0.6M261.49 56.91h0.6M270.08 47.07h0.6M229.28 73.45h0.6M229.35 75.02h0.6M268.43 48.96h0.6M258.69 56.3h0.6M275.89 44.26h0.6M269.06 48.9h0.6M232.1 69.86h0.6M281.24 45.54h0.6M257.02 54.97h0.6M230.29 72.15h0.6M222.74 72.1h0.6M267.64 52.21h0.6M267.94 54.55h0.6M261.02 52.5h0.6M275.93 49.39h0.6M265.64 53.04h0.6M231.08 66.65h0.6M270.79 48.32h0.6M275.82 44.4h0.6M234.99 67.13h0.6M220.48 70.44h0.6M247.57 62.51h0.6M218.54 75.35h0.6M219.98 67.48h0.6M225.92 74.08h0.6M219.1 76.51h0.6M236.87 69.16h0.6M217.86 74.21h0.6M254.79 53.32h0.6M244 67.57h0.6M280.83 50.48h0.6M255.67 56.76h0.6M235.9 68.4h0.6M266.6 50.67h0.6M283 49.57h0.6M279.81 52.39h0.6M235.67 66.14h0.6M268.11 45.17h0.6M237.14 67.09h0.6M236.12 73.23h0.6M265.95 52.01h0.6M237.65 65.17h0.6M268.23 47.92h0.6M276.54 49.56h0.6M223.02 77.47h0.6M265.12 48.45h0.6M255.56 53.22h0.6M234.99 69.42h0.6M231.78 64.65h0.6M279.58 48.63h0.6M241.3 68.21h0.6M255.88 54.27h0.6M265.6 48.3h0.6M243.1 68.15h0.6M238.22 71.71h0.6M276.13 42.5h0.6M240.33 72.54h0.6M241.48 63.56h0.6M262.39 50.4h0.6M280.26 52.05h0.6M260.24 55.28h0.6M277.47 46.23h0.6M227.16 69.45h0.6M219.98 69.24h0.6M267.31 52.41h0.6M224.57 67.46h0.6M250.84 58.94h0.6M281.11 42.31h0.6M246.38 59.21h0.6M262.41 55.58h0.6M229.69 69.32h0.6M236.42 70.28h0.6M226.94 69.06h0.6M270.97 53.66h0.6M236.8 64.41h0.6M264.46 50.15h0.6M252.12 63.45h0.6M282.86 43.64h0.6M230.81 70.95h0.6M267.07 49.62h0.6M220.73 76.47h0.6M224.49 73.72h0.6M246.08 68.41h0.6M235.23 66.14h0.6M261.62 52.93h0.6M277.35 51.64h0.6M244.03 68.53h0.6M220 68.86h0.6M217.48 75.02h0.6M283.04 46.23h0.6M250.31 63.94h0.6M279.01 52.83h0.6M280.44 50.97h0.6M233.17 71.9h0.6M259.58 53.77h0.6M225.12 68.62h0.6M245.75 63.22h0.6M243.91 70.67h0.6M265.35 53.46h0.6M281.41 48.16h0.6M219.25 68.51h0.6M225.62 76.5h0.6M267.09 50.42h0.6M261.86 50.95h0.6M252.18 58.63h0.6M274.99 45.97h0.6M269.57 54.55h0.6M266.23 55.2h0.6M217.4 72.71h0.6M223.91 72.35h0.6M276.72 46.35h0.6M276.45 45.08h0.6M269.72 49.71h0.6M267.21 52.74h0.6M269.22 52.58h0.6M280.17 51.09h0.6M273 50.66h0.6M223.52 77.52h0.6M229.96 74.11h0.6M265.37 53.36h0.6M223.9 72.78h0.6M247.87 60.32h0.6M265.55 56.16h0.6M273.99 47.36h0.6M232.64 69.6h0.6M259.28 51.03h0.6M276.19 47.59h0.6M243.51 70.56h0.6M271.97 54.05h0.6M278.68 49.24h0.6M265.09 52.51h0.6M283.07 50.34h0.6M217.37 75.2h0.6M219.13 75.65h0.6M245.74 64.98h0.6M276.95 43.84h0.6M244.33 63.79h0.6M262.61 55.94h0.6M219.17 69.89h0.6M227.74 73.03h0.6M266.17 47h0.6M268.34 50.04h0.6M276.83 50.49h0.6M220.28 78.26h0.6M256.42 59.01h0.6M235.33 71.99h0.6M217.74 71.63h0.6M277.3 45.73h0.6M274.07 48.63h0.6M239.68 63h0.6M235.25 65.97h0.6M241.78 64.64h0.6M261.51 53.17h0.6M267.98 51.13h0.6M282.68 49.61h0.6M233.27 72.42h0.6M221.15 71.6h0.6M272.67 50.86h0.6M270.14 51.17h0.6M223.23 75.69h0.6M251.94 62.47h0.6M275.39 51.17h0.6M227.81 73.16h0.6M220.45 74.47h0.6M260.48 53.2h0.6M223.56 77.3h0.6M219.95 75.18h0.6M260.18 53.17h0.6M266.58 45.04h0.6M237.18 66.25h0.6M243.86 61.77h0.6M252.87 56.51h0.6M262.85 49.8h0.6M219.85 74.7h0.6M265.91 49.79h0.6M280.82 47.79h0.6M280.66 42.95h0.6M226 69.92h0.6M276.9 51.43h0.6M272.21 47.92h0.6M231.16 74.2h0.6M276.32 53.61h0.6M252.14 63.82h0.6M238.84 71.06h0.6M221.73 75.65h0.6M234.65 76.09h0.6M241.57 63.42h0.6M269.39 52.77h0.6M277.87 44.1h0.6M268.04 49.84h0.6M269.51 50.98h0.6M247.12 65.74h0.6M275.41 46.92h0.6M248.93 62.7h0.6M253.6 58.13h0.6M277.06 44.74h0.6M238.2 65.99h0.6M240.12 66.44h0.6M274.54 47.22h0.6M255.66 58.77h0.6M283.41 51.76h0.6M270.12 51.6h0.6M238.12 66.83h0.6M271.41 47.19h0.6M281.69 51.11h0.6M240.43 67.87h0.6M218.11 68.5h0.6M233.14 73.2h0.6M258.42 55.79h0.6M226.06 70.88h0.6M264.56 50.45h0.6M274.86 48.36h0.6M266.62 51.65h0.6M241.27 70.36h0.6M234.73 72.45h0.6M280.58 50.24h0.6M273.49 48.87h0.6M256.85 50.48h0.6M227.29 68.23h0.6M244.68 66.42h0.6M242.13 65.27h0.6M230.98 69.07h0.6M233.52 68.13h0.6M240.13 67.13h0.6M255.9 53.71h0.6M283.25 45.33h0.6M276.91 44.35h0.6M276.97 52.34h0.6M246.37 63.85h0.6M265.39 49.16h0.6M253.75 62.37h0.6M238.2 66.88h0.6M276.09 53.43h0.6M226.05 76.41h0.6M251.31 56.43h0.6M232.25 70.74h0.6M243.58 62.87h0.6M265.06 49.9h0.6M258.84 52.13h0.6M233.25 67.66h0.6M244.19 65.85h0.6M266.25 52.44h0.6M272.54 51.29h0.6M228.11 71.75h0.6M280.96 48.21h0.6M248.32 61.8h0.6M224.04 70.1h0.6M232.98 69.77h0.6M224.79 75.6h0.6M268.49 52.85h0.6M263.74 49.89h0.6M283.1 47.61h0.6M218.76 71.21h0.6M256.08 57.28h0.6M277.91 47.21h0.6M233.03 73.53h0.6M279.47 49.81h0.6M239.17 66.68h0.6M260.54 53.73h0.6M246.71 64.62h0.6M267.29 47.16h0.6M238.52 66.69h0.6M263.1 57.2h0.6M281.32 46.55h0.6M232.29 70.98h0.6M268.07 44.11h0.6M239.21 66.05h0.6M223.57 77.03h0.6M217.65 77.25h0.6M283.56 50.49h0.6M219.67 77.49h0.6M242.45 64.87h0.6M229.49 67.36h0.6M277.68 50.98h0.6M235.18 71.09h0.6M278.4 48.45h0.6M224.19 69.99h0.6M262.99 52.46h0.6M279.83 44.05h0.6M243.53 64.93h0.6M249.42 56.86h0.6M283.73 47.58h0.6M282.5 45.7h0.6M281.2 48.14h0.6M248.09 64.97h0.6M272.52 50.51h0.6M270.13 44.98h0.6M230.15 68.56h0.6M236.09 73.06h0.6M236.64 72.04h0.6M234.99 70.21h0.6M267.15 49.27h0.6M222.91 69.47h0.6M277.45 45.54h0.6M233.22 73.86h0.6M259.71 59.27h0.6M260.83 49.97h0.6M267.53 53.93h0.6M232.22 70.84h0.6M267.9 48.12h0.6M278.46 43.48h0.6M254.83 55.85h0.6M230.38 68.71h0.6M230.82 67.6h0.6M266.73 55.75h0.6M230.27 72.85h0.6M251.5 61.46h0.6M260.36 57.26h0.6M277.41 45.16h0.6M265.5 48.17h0.6M275.69 53.26h0.6M237.56 74.74h0.6M227.31 74.28h0.6M259.72 56.29h0.6M242 66.19h0.6M244.06 64.82h0.6M283.62 49.01h0.6M237.86 72.64h0.6M259.02 50.85h0.6M263.48 52.51h0.6M282.21 49.87h0.6M281.86 47.94h0.6M278.4 48.24h0.6M283.24 48.9h0.6M250.1 58.27h0.6M266.38 48.22h0.6M270.41 50.2h0.6M228.45 70.16h0.6M218.37 77.19h0.6M262.15 47.23h0.6M251.88 61.73h0.6M264.78 54.32h0.6M270.66 54.36h0.6M274.25 47.52h0.6M252.33 56.93h0.6M266.12 54.21h0.6M269.63 49.02h0.6M277.61 52.73h0.6M271.39 46.33h0.6M219.63 68.77h0.6M280.55 48.94h0.6M279.14 46.35h0.6M230.71 68.83h0.6M271.89 51.64h0.6M244.02 63.46h0.6M233.88 71.41h0.6M268.23 47.44h0.6M264.1 52.07h0.6M220.57 72.99h0.6M251.34 59.23h0.6M259.85 54.3h0.6M267.36 52.7h0.6M243.39 64.2h0.6M270.83 45.61h0.6M247.3 62.18h0.6M244.35 62.43h0.6M263.38 51.77h0.6M234.18 67.9h0.6M240.97 65.03h0.6M270.07 53.59h0.6M259.88 53.93h0.6M276.38 50.42h0.6M257.96 56.06h0.6M231.78 71.14h0.6M249.66 56.16h0.6M260.91 52.04h0.6M233.37 67.28h0.6M256.45 58.01h0.6M249.36 66.51h0.6M235.05 75.05h0.6M261.37 57.48h0.6M248.64 62.29h0.6M279.87 51.01h0.6M232.19 66.4h0.6M245.65 60.27h0.6M222.32 74.26h0.6M263.54 54.03h0.6M271.33 44.36h0.6M275.23 50.13h0.6M231.49 69.25h0.6M269.61 47.85h0.6M280.08 44.28h0.6M257.66 50.61h0.6M261.15 52.42h0.6M278.74 48.56h0.6M264.34 52.52h0.6M248.76 65.83h0.6M236.22 70.41h0.6M276.99 50.91h0.6M270.89 46.84h0.6M232.51 73.38h0.6M223.6 76.02h0.6M260.95 53.12h0.6M263.31 52.29h0.6M235.76 74.13h0.6M227.59 71.69h0.6M265.7 47.66h0.6M250.66 59.36h0.6M229.26 74.84h0.6M264.42 48.82h0.6M219.74 75.72h0.6M246.68 61.51h0.6M267.63 51h0.6M250.52 63.52h0.6M277.34 44.35h0.6M236.69 65.96h0.6M276.56 48.41h0.6M276.36 47.11h0.6M283.15 50.65h0.6M237.67 72.27h0.6M223.23 70.33h0.6M250.1 63.18h0.6M263.59 51.73h0.6M283.61 50.51h0.6M217.89 71.25h0.6M238.21 73.27h0.6M261.54 49.13h0.6M223.02 76.53h0.6M219.04 69.43h0.6M274.12 46.36h0.6M242.91 61.76h0.6M280.34 47.57h0.6M252.84 57.8h0.6M233.51 70.74h0.6M283.08 45.41h0.6M241.47 69.6h0.6M226.47 71.43h0.6M283.22 50.81h0.6M229.61 73.55h0.6M241.1 67.71h0.6M259.79 53.77h0.6M219.77 78.6h0.6M269.53 54.05h0.6M234.54 67.09h0.6M263.12 47.95h0.6M247.69 65.28h0.6M228.47 72.53h0.6M267.11 49.63h0.6M228.81 75.66h0.6M283.66 51.63h0.6M282.1 45.48h0.6M261.69 52.76h0.6M265.27 54.21h0.6M279.62 50.79h0.6M222.98 76h0.6M266.03 48.07h0.6M237.19 67.96h0.6M247.5 65.4h0.6M281.95 45.46h0.6M228.68 71.31h0.6M219.46 70.46h0.6M269.34 52.37h0.6M277.93 50.46h0.6M271.2 47.88h0.6M238.21 64.93h0.6M227.65 72.02h0.6M228.53 74.65h0.6M234.73 72.44h0.6M226.37 75.82h0.6M269.8 50.48h0.6M275.22 50.87h0.6M283.08 44.11h0.6M218.67 74.04h0.6M242.78 69.62h0.6M282.96 47.41h0.6M221.92 71.86h0.6M256.1 59.88h0.6M264.69 54.49h0.6M260.78 50.68h0.6M279.49 48.61h0.6M246.8 62.18h0.6M262.93 52.4h0.6M219.26 77.08h0.6M241.05 72.09h0.6M250.61 59.02h0.6M242.62 67.29h0.6M242.7 64.85h0.6M242.11 64.59h0.6M281.09 52.73h0.6M223.59 77.26h0.6M228.52 71.02h0.6M228.48 73.11h0.6M280.02 49.95h0.6M220.92 75.17h0.6M234.64 73.14h0.6M257.27 54.93h0.6M263.47 48.62h0.6M233.29 68.41h0.6M225.56 71.25h0.6M222.92 72.88h0.6M278.27 45.14h0.6M225.07 70.7h0.6M228.81 74.03h0.6M237.7 67.97h0.6M260.64 53.01h0.6M275.87 47.69h0.6M218.29 76.81h0.6M263.12 49.8h0.6M264.64 53.9h0.6M280.85 46.85h0.6M222.45 70.15h0.6M267.93 53.23h0.6M255.33 55.74h0.6M283.2 44.11h0.6M283.17 47.69h0.6M235.55 68.56h0.6M227.3 72h0.6M225.95 74.98h0.6M282.38 48.38h0.6M257.64 60.32h0.6M270.32 47.74h0.6M238.71 70.64h0.6M235.77 68.8h0.6M278.33 48.18h0.6M245.18 63.29h0.6M223.86 76.2h0.6M265.08 55.26h0.6M220.92 72.24h0.6M268.69 45.43h0.6M227.04 68.5h0.6M257.79 50.29h0.6M265.11 53.14h0.6M264.24 49.33h0.6M242.5 65.38h0.6M259.3 65.93h0.6M241.98 67.62h0.6M241.61 55.16h0.6M268.38 55.28h0.6M235.37 64.17h0.6M259.17 54.07h0.6M260.24 64.89h0.6M232.6 64.39h0.6M220.45 65.51h0.6M224.54 69.01h0.6M254.08 68.01h0.6M252.32 60.18h0.6M242.77 49.66h0.6M246.4 59.16h0.6M255.05 66.45h0.6M245.75 59.14h0.6M256.98 55.72h0.6M254.9 53.31h0.6M262.59 60.05h0.6M255.23 68.78h0.6M247.68 60.42h0.6M245.34 66.63h0.6M239.15 64.14h0.6M268.96 50.11h0.6M238.11 71.86h0.6M236.6 74.89h0.6M260.83 55.34h0.6M231.42 62.99h0.6M232.68 62.29h0.6M279.93 50.71h0.6M249.52 53.03h0.6M266.33 59.38h0.6M229.31 67.76h0.6M255.82 63.6h0.6M257.93 61.78h0.6M248.91 64.03h0.6M261.19 52.24h0.6M242.56 64.37h0.6M237.99 65.24h0.6M241.01 58.25h0.6M241.88 74.02h0.6M257.23 57.88h0.6M252.84 63.29h0.6M238.95 65.88h0.6M248.77 58.7h0.6M265.69 55.88h0.6M234.15 58.82h0.6M255.27 58.47h0.6M273.85 62.1h0.6M246.07 60.78h0.6M269.66 49.01h0.6M228.28 75.08h0.6M249.17 59.51h0.6M233.24 63.6h0.6M251 61.52h0.6M245.72 74.44h0.6M262.24 60.46h0.6M273.45 45.75h0.6M277.92 51.73h0.6M265.27 60.16h0.6" stroke="#1a1a1a" stroke-width="0.6" opacity="0.75"/>
</g>
<path d="M251.7 57.3l2 3.4h-1.2v6.5h-1.6v-6.5h-1.2z" fill="url(#agb)"/>
<circle cx="251.7" cy="55.5" r="1.6" fill="#e8f060" opacity="0.9"/>
<circle cx="251.7" cy="55.5" r="0.8" fill="#f03030"/>
<rect x="210.4" y="28.9" width="80.6" height="63.5" fill="none" stroke="#a0a0a0" stroke-width="1"/>
<path d="M250.7 28.9v1.3M250.7 92.4v-1.3M210.4 60.65h1.3M291 60.65h-1.3" stroke="#444" stroke-width="0.7"/>
<g font-family="Liberation Serif" font-weight="bold">
<text x="213.3" y="39" font-size="9.6" text-anchor="start" fill="#000" >(b)</text>
<text x="287.5" y="39" font-size="8.3" text-anchor="end" fill="#000" >γ = - 0.350</text>
<text x="210.4" y="102.6" font-size="8.1" text-anchor="middle" fill="#000" >- 5</text>
<text x="250.7" y="102.6" font-size="8.1" text-anchor="middle" fill="#000" >0</text>
<text x="291" y="102.6" font-size="8.1" text-anchor="middle" fill="#000" >5</text>
<text x="250.7" y="112.6" font-size="9.1" text-anchor="middle" fill="#000" >Re (E)</text>
<text x="206.6" y="31.9" font-size="8.1" text-anchor="end" fill="#000" >0.5</text>
<text x="206.6" y="63.4" font-size="8.1" text-anchor="end" fill="#000" >0</text>
<text x="206.6" y="95.3" font-size="8.1" text-anchor="end" fill="#000" >- 0.5</text>
<text transform="translate(191.6 60.3) rotate(-90)" font-size="9.3" text-anchor="middle">Im (E)</text>
</g>
<g clip-path="url(#clipscc)">
<path d="M347.33 59.06h0.6M339.7 60.93h0.6M322.8 66.75h0.6M322.66 62.4h0.6M313.16 66.96h0.6M332.97 63.15h0.6M330.26 63.76h0.6M337.23 62.96h0.6M315.86 64.89h0.6M367.48 56.46h0.6M333.82 64.24h0.6M308.89 66.42h0.6M344.25 59.74h0.6M309.08 66.26h0.6M318.71 67.81h0.6M318.54 64.76h0.6M357.17 57.5h0.6M341.8 59.44h0.6M329.28 62.88h0.6M308.85 69.3h0.6M310.59 66.26h0.6M364.55 57.68h0.6M355.66 55.21h0.6M317.84 68.16h0.6M361.47 54.43h0.6M367.96 57.25h0.6M372.48 53.18h0.6M345.15 58.48h0.6M331.89 65.94h0.6M314.51 63.24h0.6M325.18 65.24h0.6M368.73 55.08h0.6M314.85 65.38h0.6M350.8 56.24h0.6M339.15 61.18h0.6M326.73 64.36h0.6M345.4 59.86h0.6M327.73 62.73h0.6M368.27 55.34h0.6M312.89 67.81h0.6M316.51 67.08h0.6M352.94 56.11h0.6M354.43 57.98h0.6M316.98 66.27h0.6M329.75 63.44h0.6M337.56 62.74h0.6M328.31 65.05h0.6M357.95 56.22h0.6M353.05 58.67h0.6M360.18 57.48h0.6M374.25 52.26h0.6M338.69 62.63h0.6M349.69 59.76h0.6M312.57 66.48h0.6M326.24 64.69h0.6M361.84 57.94h0.6M357.29 58.26h0.6M326.19 66.53h0.6M322.95 63.61h0.6M321.31 66.83h0.6M357.29 56.68h0.6M338.47 64.91h0.6M321.11 65.67h0.6M342.65 62.74h0.6M348.1 57.16h0.6M368.91 53.79h0.6M340.63 62.69h0.6M349.35 57.14h0.6M374.91 53.64h0.6M317.41 67.93h0.6M327.73 64.01h0.6M324.18 64.13h0.6M334.44 62.26h0.6M369.95 53.09h0.6M371.05 55.3h0.6M368.51 55.25h0.6M321.86 66.72h0.6M370.38 52.8h0.6M359.14 54.76h0.6M323.44 64.27h0.6M310.69 64.26h0.6M352.75 56.22h0.6M354.1 57.37h0.6M349.73 57.06h0.6M365.3 57.66h0.6M352.69 58.16h0.6M365.61 57.42h0.6M312.24 68.71h0.6M316.84 63.15h0.6M320.92 65.63h0.6M361.65 55.06h0.6M357.17 54.36h0.6M327.49 65.05h0.6M341.09 59.63h0.6M336.58 60.23h0.6M356.15 58.77h0.6M355.03 58.39h0.6M317.58 64.35h0.6M324.68 66.88h0.6M315.23 64.85h0.6M314.98 65.52h0.6M362.94 54.63h0.6M319.46 67.4h0.6M365.51 55.51h0.6M342.56 58.37h0.6M369.44 58.01h0.6M358.04 55.64h0.6M356.35 56.51h0.6M346.07 61.12h0.6M374.01 54.89h0.6M357.37 57.99h0.6M363.74 56.92h0.6M318.31 65.9h0.6M319.06 65.8h0.6M361.48 57.38h0.6M325.23 64.38h0.6M308.92 67.28h0.6M367.77 56.52h0.6M356.62 54.73h0.6M329.89 61.92h0.6M347.31 58.89h0.6M329.8 64.37h0.6M328.15 64.2h0.6M319.01 64.35h0.6M356.21 58.52h0.6M367.82 53.22h0.6M325.23 64.9h0.6M315.45 66.63h0.6M353.99 55.35h0.6M320.19 67.35h0.6M348.31 58.31h0.6M349.58 57.61h0.6M322.16 62.96h0.6M360.8 58.25h0.6M312.01 67.09h0.6M366.58 54.09h0.6M355.06 56.44h0.6M320 64.89h0.6M359.19 55.53h0.6M329.9 63.5h0.6M337.78 60.46h0.6M341.08 59.39h0.6M332.93 63h0.6M361.44 56.13h0.6M328.51 65.27h0.6M322 62.32h0.6M343.01 61.1h0.6M367.62 57.57h0.6M354.74 58.91h0.6M329.4 64.78h0.6M346.54 58.44h0.6M360.76 56.99h0.6M375.21 57.43h0.6M324.19 65.2h0.6M319.88 63.32h0.6M344.49 61.47h0.6M309.66 68.07h0.6M327.68 64.81h0.6M313.97 66.17h0.6M334.05 61.67h0.6M330.9 64.7h0.6M345.06 58.47h0.6M313.4 67.07h0.6M315.82 65.88h0.6M319.22 65.76h0.6M363 52.84h0.6M339.44 59.44h0.6M374.03 52.95h0.6M318.98 64.85h0.6M356.01 58.4h0.6M364.26 54.08h0.6M357.51 57.32h0.6M310.61 68.47h0.6M370.75 53.93h0.6M322.13 66.34h0.6M336.78 62.7h0.6M363.37 54.87h0.6M359.64 57.08h0.6M335.83 63.27h0.6M365.46 54.51h0.6M325.47 64.89h0.6M315.51 66.23h0.6M371.4 52.94h0.6M356.94 55.72h0.6M308.87 67.84h0.6M316.66 64.87h0.6M349.38 58.2h0.6M316.02 64.51h0.6M366.53 53.74h0.6M328.11 66.94h0.6M360.99 53.73h0.6M361.9 54.58h0.6M316.53 66.99h0.6M356.36 57.08h0.6M334.94 61.36h0.6M362.21 57.7h0.6M356.35 55.57h0.6M326.67 63h0.6M360.44 56.6h0.6M337.86 61.19h0.6M371.86 55.28h0.6M336.91 60.69h0.6M352.75 57.02h0.6M360.83 57.79h0.6M340.53 61.12h0.6M339.17 62.69h0.6M326.96 65.36h0.6M354.32 54.89h0.6M371.87 56.29h0.6M348.23 57.12h0.6M347.88 57.36h0.6M362.22 57h0.6M359.78 57.54h0.6M370.35 55.63h0.6M356.02 57.59h0.6M309.05 67.82h0.6M352.91 56.89h0.6M360.66 54.75h0.6M312.88 68.19h0.6M345.37 58.16h0.6M320.6 65.57h0.6M326.17 65.8h0.6M354.47 54.33h0.6M339.51 60.67h0.6M318.38 63.81h0.6M335.76 61.78h0.6M367.35 55.45h0.6M320.21 62.44h0.6M353.51 57.36h0.6M342.47 59.12h0.6M314.73 68.39h0.6M333.17 61.02h0.6M347.24 57.77h0.6M369.92 54.91h0.6M316.63 67.37h0.6M370.49 53.99h0.6M345.18 59.76h0.6M328.96 65.66h0.6M316.37 67.62h0.6M349.76 56.24h0.6M358.63 54.24h0.6M329.91 63.75h0.6M344.81 57.52h0.6M332.96 63.14h0.6M354.15 58.73h0.6M342.76 60.53h0.6M329.78 64.14h0.6M357.54 57.63h0.6M370.41 56.57h0.6M340.6 61.82h0.6M321.74 67.63h0.6M350.68 55.89h0.6M325.32 64.14h0.6M369.96 57.55h0.6M346.74 58.67h0.6M374.1 53.11h0.6M340.47 59.8h0.6M311.56 68.3h0.6M349.3 59.24h0.6M342.03 57.23h0.6M364.48 54.64h0.6M312.9 67.42h0.6M341.7 59.89h0.6M333.1 61.27h0.6M328.41 63.65h0.6M327.14 66.65h0.6M341.04 63.06h0.6M344.03 62.04h0.6M311.99 65.88h0.6M333.07 62.08h0.6M350.36 57.29h0.6M310.25 68.16h0.6M349.26 58.74h0.6M368.87 54.31h0.6M372.96 54.87h0.6M361.69 54.53h0.6M341.98 60.46h0.6M352.48 59.92h0.6M317.08 66.09h0.6M332.66 65.15h0.6M318.07 64.92h0.6M356.79 57.23h0.6M309.16 64.23h0.6M309.6 67.23h0.6M332.09 65.57h0.6M349.45 58.58h0.6M364.18 56.01h0.6M358.47 58.73h0.6M320.02 64.74h0.6M311.21 66.44h0.6M315.46 66.28h0.6M363.43 58.38h0.6M357.42 57.82h0.6M360.16 54.56h0.6M363.34 54.37h0.6M313.77 65.38h0.6M316.35 65.35h0.6M315.52 65.42h0.6M356.51 55.4h0.6M365.21 53.86h0.6M342.5 62.8h0.6M351.8 56.25h0.6M350.81 56.37h0.6M374.01 52h0.6M315.64 65.78h0.6M334.42 64.42h0.6M370.13 55.98h0.6M309.41 66.71h0.6M345.89 58.47h0.6M352.38 55.26h0.6M340 60.43h0.6M335.03 61.55h0.6M327.96 63.95h0.6M360.25 58.19h0.6M361.28 57.57h0.6M326.03 63.92h0.6M331.8 62.93h0.6M329.6 63.49h0.6M347.75 59.18h0.6M345.53 59.33h0.6M323.74 65.44h0.6M339.55 59.76h0.6M371.55 53.59h0.6M334.79 62.39h0.6M328.31 64.45h0.6M314.29 66.22h0.6M309.56 67.24h0.6M320.78 64.55h0.6M366.59 54.84h0.6M371.72 53.47h0.6M354.54 58.06h0.6M364.06 53.1h0.6M328.8 62.97h0.6M356.15 59.69h0.6M312.01 67.26h0.6M311.77 67.01h0.6M319.3 66.26h0.6M344.72 60.17h0.6M372.86 53.1h0.6M355.05 58.55h0.6M309.09 69.45h0.6M341.77 59.05h0.6M343.94 59.72h0.6M332.25 64.82h0.6M361.69 54.42h0.6M361.53 56.34h0.6M352.84 56.58h0.6M366.51 53.56h0.6M330.13 63.54h0.6M313.59 65.8h0.6M310.17 65.2h0.6M347.03 58.86h0.6M369.03 57.06h0.6M340.04 63.02h0.6M351.11 57.44h0.6M312.85 69.37h0.6M338.21 61.96h0.6M371.12 55.25h0.6M341.14 59.41h0.6M368 57.14h0.6M315.7 68.9h0.6M321.5 65.46h0.6M322.38 63.9h0.6M326.99 66.82h0.6M324.74 65.17h0.6M342.94 57.93h0.6M332.13 64.39h0.6M319.07 65.07h0.6M343 59.97h0.6M330.95 64.41h0.6M331.96 66.13h0.6M372.93 57.62h0.6M365.92 53.99h0.6M326 63.95h0.6M353.67 57.71h0.6M356.64 56.89h0.6M339.87 63.22h0.6M314.65 62.91h0.6M360.35 56.65h0.6M351.13 58.05h0.6M336.52 60.39h0.6M344.42 61.28h0.6M317.14 66.72h0.6M326.39 67.19h0.6M374.02 55.49h0.6M314.66 64.03h0.6M356.55 58.67h0.6M314.76 65.34h0.6M370.76 55.77h0.6M360.93 53.28h0.6M353.88 58.66h0.6M326.45 65.14h0.6M321.12 63.19h0.6M360.45 54.4h0.6M328.82 65.35h0.6M338.65 59.2h0.6M334.62 61.35h0.6M320.6 63.98h0.6M372.83 54.03h0.6M373.17 54.1h0.6M338.87 62.48h0.6M326.85 65.88h0.6M308.53 66.92h0.6M335.65 59.98h0.6M354.24 58.48h0.6M373.47 54.42h0.6M326.65 66.63h0.6M323.64 63.63h0.6M328.67 64.8h0.6M320.25 65.68h0.6M326.87 65.25h0.6M352.84 60.06h0.6M358.66 54.42h0.6M347.57 60.33h0.6M350.24 56.51h0.6M346.11 60.58h0.6M314.86 66.17h0.6M324.34 64.93h0.6M309.29 67.38h0.6M342.27 59.63h0.6M371.53 53.44h0.6M365.4 53.69h0.6M361.25 54.98h0.6M312.3 68.21h0.6M339.9 60.86h0.6M337.55 60.99h0.6M327.92 64.84h0.6M318.25 64.76h0.6M338.43 63.34h0.6M329.92 61.32h0.6M373.16 55.41h0.6M320.05 64.68h0.6M370.96 56.39h0.6M318.61 66.44h0.6M341.31 61.23h0.6M327.1 64.53h0.6M360.86 56.14h0.6M373.13 52.42h0.6M367.06 54.74h0.6M317.08 63.6h0.6M320.2 67.72h0.6M358.26 57.44h0.6M357.86 55.81h0.6M353.04 59.12h0.6M317.31 66.92h0.6M335.5 62.32h0.6M324.63 67.14h0.6M335.49 64.52h0.6M323.85 64.34h0.6M344.09 61.19h0.6M330.88 61.77h0.6M351.53 56.8h0.6M357.06 57.51h0.6M340.78 61.82h0.6M310.8 64.96h0.6M327.84 62.06h0.6M352.29 55.72h0.6M337.75 62.39h0.6M351.58 59.18h0.6M362.41 56.19h0.6M317.96 63.76h0.6M323.44 65.8h0.6M310.69 67.86h0.6M338.24 61.12h0.6M327.18 65.39h0.6M343.17 60h0.6M356.52 55.83h0.6M345.89 60.46h0.6M313.1 68.38h0.6M315.64 65.22h0.6M353.37 56.78h0.6M324.29 65.98h0.6M357.78 56.63h0.6M337.87 61.03h0.6M318.89 65.09h0.6M356.62 54.34h0.6M344.94 58.63h0.6M355.75 55.68h0.6M309.21 68.23h0.6M318.07 67.02h0.6M370.44 56.56h0.6M345.62 57.25h0.6M372.85 54.37h0.6M367.18 53.86h0.6M350.28 56.67h0.6M335.25 65.4h0.6M368.84 54.48h0.6M317.03 66.68h0.6M363.56 53.92h0.6M331.42 64.82h0.6M319.03 64.03h0.6M362.27 54.01h0.6M351.72 57.92h0.6M332.68 64.13h0.6M365.45 55.46h0.6M319.84 66.38h0.6M327.88 63.31h0.6M356.4 55.55h0.6M309.55 68.98h0.6M360.69 57.27h0.6M333.56 61.38h0.6M356.23 59.08h0.6M360.23 56.65h0.6M344.59 58.77h0.6M323.62 63.65h0.6M373.89 55.95h0.6M314.07 65.68h0.6M322.75 65.98h0.6M365.84 56.93h0.6M331.99 65.55h0.6M339.03 61.79h0.6M345.37 58.03h0.6M369.53 56.4h0.6M318.66 66.88h0.6M325 63.02h0.6M344.62 60.95h0.6M366.11 56.63h0.6M366.01 55.82h0.6M312.06 65.46h0.6M358.52 57.59h0.6M324.35 65.4h0.6M351.94 57.46h0.6M358.25 55.51h0.6M358.24 54.28h0.6M362.83 58.39h0.6M337.56 59.68h0.6M348.16 57.16h0.6M327.45 63.67h0.6M363.21 54.31h0.6M308.92 67.6h0.6M322.34 66.42h0.6M371.5 56.71h0.6M361.37 54.34h0.6M367.74 53.35h0.6M362.25 54.23h0.6M337.91 63.4h0.6M345.65 60.51h0.6M343.38 59.03h0.6M370.32 56.85h0.6M311.49 68.11h0.6M372.71 54.47h0.6M368.99 53.54h0.6M356.64 54.67h0.6M329.76 63.46h0.6M369.57 53.9h0.6M357.97 58.35h0.6M318.17 64.93h0.6M357.59 56.5h0.6M374.21 56.66h0.6M311.29 66.33h0.6M346 57.07h0.6M324.75 65.97h0.6M324.06 67.75h0.6M311.07 65.1h0.6M350.97 57.74h0.6M361.7 55.79h0.6M345.29 57.81h0.6M310.45 65.06h0.6M355.62 57.44h0.6M312.52 65.79h0.6M312.25 68.13h0.6M350.92 56.29h0.6M338.32 62.51h0.6M323.71 66.26h0.6M365.34 57.14h0.6M347.02 57.2h0.6M340.27 62.66h0.6M348.12 56.58h0.6M365.19 55.94h0.6M313.57 64.62h0.6M340.27 59.74h0.6M365.76 55.75h0.6M322.2 64.51h0.6M364.36 53.58h0.6M323.86 64.31h0.6M336.36 61.19h0.6M311.81 67.82h0.6M362.97 53.72h0.6M335.66 62.17h0.6M350.9 58.23h0.6M350.92 58.15h0.6M368.87 54.94h0.6M371.7 54.87h0.6M373.49 56.78h0.6M325.67 62.7h0.6M362.38 54.01h0.6M355.53 57.93h0.6M369.28 56.05h0.6M337.16 64.22h0.6M364.52 54.83h0.6M321.62 65.6h0.6M310.67 65.7h0.6M333.77 64.54h0.6M349.09 59.13h0.6M361.98 55.5h0.6M371.86 53.53h0.6M341.92 61.52h0.6M320.17 64.98h0.6M314.62 66.59h0.6M354.3 54.82h0.6M361.5 56.62h0.6M344.18 61.23h0.6M356.97 57.48h0.6M327.84 65.91h0.6M313.48 64.74h0.6M354.75 55.3h0.6M315.72 65.03h0.6M324.46 66.11h0.6M325.84 64.77h0.6M357.75 57.52h0.6M347.56 58.29h0.6M366.41 56.32h0.6M332.6 65.17h0.6M348.99 58.01h0.6M367.79 57.46h0.6M368.07 54.64h0.6M314.55 65.3h0.6M374.01 55.61h0.6M316.74 64.74h0.6M360.83 54.46h0.6M371.1 52.73h0.6M355.03 59.16h0.6M323.78 65.73h0.6M320.91 63.94h0.6M311.13 64.99h0.6M345.19 57.25h0.6M320.45 64.85h0.6M358.62 54.75h0.6M317.55 63.99h0.6M365.79 56.43h0.6M374.58 54.78h0.6M337.57 60.86h0.6M373.95 55.34h0.6M363.73 56.63h0.6M337.62 64.46h0.6M355.54 59.04h0.6M336.33 63.35h0.6M364.34 54.01h0.6M309.67 65.25h0.6M358 54.27h0.6M315.49 64.09h0.6M328.99 64.32h0.6M350.38 59.18h0.6M356.57 57.71h0.6M329.14 63.22h0.6M317.43 66.26h0.6M335.45 62.19h0.6M332.05 62.37h0.6M366.07 55.25h0.6M322.84 64.53h0.6M361.08 56.83h0.6M310.21 67.31h0.6M344.39 61.61h0.6M348.3 60.34h0.6M324 64.65h0.6M320.22 67.68h0.6M315.16 66.95h0.6M326.45 63.76h0.6M333.65 64.48h0.6M360.53 54.95h0.6M370.58 53.52h0.6M363.16 53.86h0.6M324.94 67.13h0.6M314.87 63.99h0.6M368.96 57.09h0.6M327.33 63.86h0.6M352.57 58.85h0.6M369.35 57.05h0.6M370.83 53.66h0.6M333.07 64.56h0.6M335.64 64.79h0.6M327.57 65.62h0.6M366.71 55.69h0.6M309.88 65.7h0.6M352.86 56.88h0.6M345.53 58.28h0.6M346.39 58.16h0.6M339.05 59.47h0.6M343.14 60.82h0.6M355.07 58.89h0.6M326.82 67.1h0.6M311.7 66.44h0.6M329.01 64.41h0.6M345.53 60.17h0.6M368.29 56.75h0.6M312.59 67.08h0.6M349.7 58.65h0.6M355.51 56.21h0.6M346.62 61.19h0.6M326.84 66.53h0.6M327.59 62.54h0.6M327.92 64.77h0.6M352.01 55.78h0.6M329.42 62.55h0.6M357 56h0.6M341.33 61.61h0.6M328.55 63.35h0.6M334.79 62.21h0.6M328.44 62.15h0.6M328.23 62.03h0.6M370.93 56.44h0.6M328.48 63.75h0.6M338.53 60.04h0.6M349.43 58.26h0.6M316.08 64.66h0.6M347.25 59.12h0.6M322.61 62.65h0.6M330.9 62.52h0.6M325.9 65.39h0.6M361.65 55h0.6M347.44 56.59h0.6M330.74 64.87h0.6M365.37 55.9h0.6M346.55 61.51h0.6M329.36 62.75h0.6M353.39 58.77h0.6M350.51 58.32h0.6M365.26 55.37h0.6M331.17 61.87h0.6M341.01 62.06h0.6M325.55 64.14h0.6M335.01 62.2h0.6M371.17 56.52h0.6M358.21 57.26h0.6M341.9 58.92h0.6M338.45 62.98h0.6M360.65 54.91h0.6M363.63 57.03h0.6M326.63 64.21h0.6M323.88 65.83h0.6M351.3 55.33h0.6M309.29 67.11h0.6M374.04 52.81h0.6M321.67 63.92h0.6M316.54 66.97h0.6M344.47 57h0.6M374.15 52.25h0.6M366.97 56.49h0.6M327.74 62.56h0.6M316.94 66.39h0.6M373.93 57.05h0.6M356.69 56.88h0.6M366.67 57.73h0.6M331.69 65.18h0.6M350.05 55.71h0.6M338.09 63.91h0.6M326.67 66.05h0.6M347.85 58.66h0.6M313.78 67.34h0.6M317.85 67.82h0.6M343.8 58.37h0.6M364.96 56.27h0.6M334 62.15h0.6M318.91 66.37h0.6M335.77 63.12h0.6M333.92 60.72h0.6M355.86 55.67h0.6M369.62 54.62h0.6M361.65 56.13h0.6M365.81 54.69h0.6M327.96 64.02h0.6M315.05 67.86h0.6M319.01 66.62h0.6M317.45 64.11h0.6M311.3 65.29h0.6M317.12 68.34h0.6M347.28 60.98h0.6M373.76 56.05h0.6M364.96 54.4h0.6M338.17 63.23h0.6M353.76 58.52h0.6M329.82 64.19h0.6M342.51 60.37h0.6M350.24 59.16h0.6M322.66 63.98h0.6M308.48 65.61h0.6M317.72 65.06h0.6M337.2 63.77h0.6M373.49 53.85h0.6M308.89 65.94h0.6M308.81 68.87h0.6M349.37 59.53h0.6M370.29 56.02h0.6M357.49 54.77h0.6M318.58 64.27h0.6M364.27 54.98h0.6M336.4 64.24h0.6M330.47 63.33h0.6M364.06 55.83h0.6M370.76 54.23h0.6M316.74 65.3h0.6M348.79 60.16h0.6M342.85 60.09h0.6M329.12 62.95h0.6M329.89 63.22h0.6M324.53 66.36h0.6M316.53 68.07h0.6M335.15 61.02h0.6M317.1 66.79h0.6M337.33 60.03h0.6M317.41 67.93h0.6M334.67 64.51h0.6M347.61 61.65h0.6M316.41 67.39h0.6M309.59 66.19h0.6M313.49 65.53h0.6M343.14 59.46h0.6M321.41 63.11h0.6M310.8 66.05h0.6M365.24 55.42h0.6M314.45 66.89h0.6M338.03 61.58h0.6M358.44 55.53h0.6M359.26 56.99h0.6M349.67 58.93h0.6M342.39 61.43h0.6M309.72 67.46h0.6M318.03 65.14h0.6M372.27 52.93h0.6M326.25 65.16h0.6M369.69 53.65h0.6M312.16 66.46h0.6M340.98 59.19h0.6M319.01 67.48h0.6M364.09 55.64h0.6M332.74 63.7h0.6M346.34 60.49h0.6M358.66 56.01h0.6M311.42 64.76h0.6M361.33 55.95h0.6M357.56 58.68h0.6M314.93 65.76h0.6M335.69 65.11h0.6M362.89 54.5h0.6M316.63 68.6h0.6M357.88 54.02h0.6M318.64 64.14h0.6M356.76 59.07h0.6M363.17 55.97h0.6M358.28 54.7h0.6M332.76 64.63h0.6M353.5 59.11h0.6M364.06 54.31h0.6M350.4 58.81h0.6M368.7 57.01h0.6M356.77 57.55h0.6M336.85 62.57h0.6M320.37 64.6h0.6M332.26 64.39h0.6M352.63 58.77h0.6M327.48 56.86h0.6M334.6 58.77h0.6M345.16 60.15h0.6M341.38 60.85h0.6M337.61 63.12h0.6M346.91 57.34h0.6M343.95 59.31h0.6M366.87 57.19h0.6M322.12 58.56h0.6M320.73 58.37h0.6M332.11 59.5h0.6M312.06 54.02h0.6" stroke="#1a1a1a" stroke-width="0.6" opacity="0.85"/>
</g>
<path d="M342.8 61l2 3.4h-1.2v6.5h-1.6v-6.5h-1.2z" fill="url(#agc)"/>
<circle cx="342.8" cy="59.2" r="1.6" fill="#e8f060" opacity="0.9"/>
<circle cx="342.8" cy="59.2" r="0.8" fill="#f03030"/>
<rect x="301.9" y="28.9" width="80.6" height="63.5" fill="none" stroke="#a0a0a0" stroke-width="1"/>
<path d="M342.2 28.9v1.3M342.2 92.4v-1.3M301.9 60.65h1.3M382.5 60.65h-1.3" stroke="#444" stroke-width="0.7"/>
<g font-family="Liberation Serif" font-weight="bold">
<text x="304.8" y="39" font-size="9.6" text-anchor="start" fill="#000" >(c)</text>
<text x="379" y="39" font-size="8.3" text-anchor="end" fill="#000" >γ = - 0.175</text>
<text x="301.9" y="102.6" font-size="8.1" text-anchor="middle" fill="#000" >- 5</text>
<text x="342.2" y="102.6" font-size="8.1" text-anchor="middle" fill="#000" >0</text>
<text x="382.5" y="102.6" font-size="8.1" text-anchor="middle" fill="#000" >5</text>
<text x="342.2" y="112.6" font-size="9.1" text-anchor="middle" fill="#000" >Re (E)</text>
</g>
<g clip-path="url(#clipscd)">
<line x1="400.65" y1="60.65" x2="466.75" y2="60.65" stroke="#2a2a2a" stroke-width="0.9"/>
</g>
<path d="M434.3 62.2l2 3.4h-1.2v6.5h-1.6v-6.5h-1.2z" fill="url(#agd)"/>
<circle cx="434.3" cy="60.4" r="1.6" fill="#e8f060" opacity="0.9"/>
<circle cx="434.3" cy="60.4" r="0.8" fill="#f03030"/>
<rect x="393.4" y="28.9" width="80.6" height="63.5" fill="none" stroke="#a0a0a0" stroke-width="1"/>
<path d="M433.7 28.9v1.3M433.7 92.4v-1.3M393.4 60.65h1.3M474 60.65h-1.3" stroke="#444" stroke-width="0.7"/>
<g font-family="Liberation Serif" font-weight="bold">
<text x="396.3" y="39" font-size="9.6" text-anchor="start" fill="#000" >(d)</text>
<text x="470.5" y="39" font-size="8.3" text-anchor="end" fill="#000" >γ = 0</text>
<text x="393.4" y="102.6" font-size="8.1" text-anchor="middle" fill="#000" >- 5</text>
<text x="433.7" y="102.6" font-size="8.1" text-anchor="middle" fill="#000" >0</text>
<text x="474" y="102.6" font-size="8.1" text-anchor="middle" fill="#000" >5</text>
<text x="433.7" y="112.6" font-size="9.1" text-anchor="middle" fill="#000" >Re (E)</text>
</g>
<g clip-path="url(#clipsce)">
<path d="M556.95 66.96h0.6M505.83 58.75h0.6M531.77 65.45h0.6M549.8 66.96h0.6M496.95 56.29h0.6M506.52 57.99h0.6M499.99 55.05h0.6M540.5 63.31h0.6M519.22 58.26h0.6M508.1 57.33h0.6M530.27 60.87h0.6M508.24 57.73h0.6M505.89 52.98h0.6M526.81 61.08h0.6M511.29 56.58h0.6M508.36 57.76h0.6M552.96 67.78h0.6M497.48 55.92h0.6M558.07 65.27h0.6M538.86 65.83h0.6M528.24 62.12h0.6M521.17 57.62h0.6M495.78 54.51h0.6M549.83 65.54h0.6M529.27 61.54h0.6M530.15 61.28h0.6M516.88 58.46h0.6M536.67 64.35h0.6M537.28 64.04h0.6M512.16 55.39h0.6M503.62 56.32h0.6M532.56 61.58h0.6M554.6 65.81h0.6M533.67 65.05h0.6M493.33 53.21h0.6M520.13 60.18h0.6M549.6 67.03h0.6M512.78 59.06h0.6M526.31 61.99h0.6M544.6 65.98h0.6M500.56 53.56h0.6M528.01 60.52h0.6M553.92 68.67h0.6M513.76 58.48h0.6M522.32 58.67h0.6M492.24 52.67h0.6M543.77 64.91h0.6M553.94 66.09h0.6M548.99 64.55h0.6M508.4 58.44h0.6M520.47 57.65h0.6M530.22 63.4h0.6M504.45 55.43h0.6M540.07 63.05h0.6M554.57 68.34h0.6M537.59 64.61h0.6M553.72 66.47h0.6M510.12 58.97h0.6M544.37 64.57h0.6M513.19 58.04h0.6M516.54 58.77h0.6M512.45 56.79h0.6M538.89 65.99h0.6M513.13 56.25h0.6M498.04 55.05h0.6M511.38 54.23h0.6M523.74 60.43h0.6M538.33 63.94h0.6M493.59 56.4h0.6M556.72 66.48h0.6M546.53 63.75h0.6M554.18 66.86h0.6M509.34 58.3h0.6M535.48 64.89h0.6M493.31 55.39h0.6M492.77 55.92h0.6M550.11 64.77h0.6M536.12 65.76h0.6M511.64 54.7h0.6M506.01 53.94h0.6M537.43 63.53h0.6M552.73 65.41h0.6M511.48 58.6h0.6M544.29 64.76h0.6M541.13 64.5h0.6M557.11 65.15h0.6M539.01 65.37h0.6M531.16 61.34h0.6M523.16 59.7h0.6M499.59 56.07h0.6M507.72 58.14h0.6M546.59 63.22h0.6M557.93 65.22h0.6M558.28 65.79h0.6M548.84 67.2h0.6M526.56 61.63h0.6M522.95 61.11h0.6M553.43 65.5h0.6M529.69 64.75h0.6M533.64 63.68h0.6M545.08 66.46h0.6M501.25 54.18h0.6M548.54 66.29h0.6M531.06 63.38h0.6M557.61 66.54h0.6M516.17 56.94h0.6M519.14 59.31h0.6M547 64.95h0.6M554.57 67.45h0.6M503.66 54.49h0.6M525.06 61.71h0.6M545.12 64.81h0.6M551.15 68.42h0.6M549.6 64.73h0.6M540.4 64.37h0.6M520.2 57.72h0.6M541.69 65.08h0.6M502.11 55.91h0.6M523.94 59.09h0.6M518.01 57.13h0.6M507.59 59.14h0.6M543.54 64.89h0.6M550.35 67.16h0.6M535.43 62.29h0.6M495.81 54.88h0.6M498.03 56.22h0.6M534.07 63.68h0.6M514.83 59.06h0.6M526.66 61.28h0.6M525.48 58.27h0.6M537.23 61.68h0.6M531.45 63.59h0.6M531.23 65.01h0.6M494.7 54.99h0.6M547.58 63.71h0.6M532.78 63.1h0.6M555.59 68.8h0.6M492.4 53.03h0.6M536.93 64.75h0.6M540.05 65.07h0.6M548.99 65.1h0.6M506.88 55.35h0.6M553.88 64.42h0.6M556.09 66.27h0.6M508.49 56.69h0.6M548.12 65.14h0.6M518.23 56.49h0.6M548.92 65.02h0.6M498.99 55h0.6M500.97 54.98h0.6M518.83 59.95h0.6M550.47 66.56h0.6M529.89 61h0.6M503.51 55.22h0.6M525.49 58.58h0.6M548.57 66.49h0.6M508.18 56.28h0.6M551.75 67.1h0.6M557.31 64.37h0.6M528.79 63h0.6M538.63 67.08h0.6M545.12 65.36h0.6M510.69 57.36h0.6M497.91 53.74h0.6M505.23 57.11h0.6M496.62 53.19h0.6M529.72 63.49h0.6M499.07 57.75h0.6M535.68 66.52h0.6M498.32 53.55h0.6M500.59 56.09h0.6M543.55 64.72h0.6M542.19 65.71h0.6M533.17 64.93h0.6M497.6 55.37h0.6M556.51 66.22h0.6M513.69 57.05h0.6M528.81 61.97h0.6M552.59 65.4h0.6M494.4 55.46h0.6M504.42 57.22h0.6M508.47 55.09h0.6M558.02 64.73h0.6M521.73 61.71h0.6M517.14 59.5h0.6M555.92 66.73h0.6M497.63 57.04h0.6M536.4 64.89h0.6M534.3 65.13h0.6M522.06 57.08h0.6M536.68 63.06h0.6M512.45 56.86h0.6M493.88 55.62h0.6M492.89 54.34h0.6M521.54 60.2h0.6M508.04 54.72h0.6M495.83 54.15h0.6M523.09 61.74h0.6M506.16 54.98h0.6M537.9 63.32h0.6M544.35 65.73h0.6M544.42 67.03h0.6M506.06 54.49h0.6M536.96 62.78h0.6M549.31 62.59h0.6M510.44 57.79h0.6M510.38 58.25h0.6M528.72 63.97h0.6M542.29 67.28h0.6M499.25 57.28h0.6M525.51 62.82h0.6M547.17 67.2h0.6M518.94 57.08h0.6M547.22 64.68h0.6M500.52 55h0.6M509.69 58.41h0.6M551.99 66.5h0.6M531.37 60.81h0.6M535.61 63.63h0.6M536.61 64.47h0.6M511.41 54.88h0.6M499.55 54.6h0.6M527.53 63.33h0.6M523.74 62.81h0.6M528.66 61.54h0.6M500.29 54.51h0.6M517.91 60.53h0.6M544.54 67.87h0.6M540.83 62.43h0.6M547.82 67.65h0.6M550.77 66.09h0.6M508.78 58.39h0.6M495.73 53.89h0.6M535.1 63.78h0.6M557.88 68.66h0.6M545.17 63.43h0.6M555.96 68.34h0.6M498.18 56.11h0.6M540.01 63.93h0.6M517.03 58.85h0.6M514.86 56.02h0.6M491.61 55.8h0.6M543.1 66.34h0.6M500.77 55.05h0.6M513.19 55.61h0.6M552.69 65h0.6M554.24 63.3h0.6M522.28 58.22h0.6M509.56 54.17h0.6M536.98 66.06h0.6M555.89 66.36h0.6M555.86 64.24h0.6M499.93 56.48h0.6M500.95 54.95h0.6M534.89 62.1h0.6M553.66 69.17h0.6M556.5 66.78h0.6M542.81 65.06h0.6M501.87 54.41h0.6M541.05 65.49h0.6M513.28 57.52h0.6M538.46 64.75h0.6M520.29 57.47h0.6M506.52 54.53h0.6M534.05 65.63h0.6M532.12 61.31h0.6M544.75 66.29h0.6M509.55 55.61h0.6M535.75 63.86h0.6M502.67 57.4h0.6M538.96 64.57h0.6M510.17 53.98h0.6M551.73 67.92h0.6M508.43 58.12h0.6M499.67 55.74h0.6M544.15 66.39h0.6M537.08 65.52h0.6M524.37 61.92h0.6M497.22 57.16h0.6M495.69 54.34h0.6M496.94 56.3h0.6M518.92 58.32h0.6M524.15 60.47h0.6M524.84 61.11h0.6M530.37 61.34h0.6M498.36 53.16h0.6M557.68 65.89h0.6M534.75 66.13h0.6M512.35 57.38h0.6M553.44 64.45h0.6M514.57 57.2h0.6M510.84 56.57h0.6M502.34 54.58h0.6M545.3 66.69h0.6M523.65 62.22h0.6M556.86 65.08h0.6M505.46 57.34h0.6M535.52 61.54h0.6M524.11 61.36h0.6M538.2 62.6h0.6M501.07 56.91h0.6M544.64 65.7h0.6M507.4 58.3h0.6M535.01 63.9h0.6M534.38 65.76h0.6M536.69 65.41h0.6M501.54 57.59h0.6M527.91 62.32h0.6M525.3 58.86h0.6M515.13 58.46h0.6M504.98 57.03h0.6M491.6 57.65h0.6M507.03 55.15h0.6M528.66 63.01h0.6M525.38 63.16h0.6M525.74 59.35h0.6M510.17 57.94h0.6M513.47 57.37h0.6M543.66 64.14h0.6M518.41 58.14h0.6M498.72 53.79h0.6M553.08 68.39h0.6M510.67 58.79h0.6M553.21 66.21h0.6M546.4 63.56h0.6M534.01 63.04h0.6M554.02 67.82h0.6M527.75 64.37h0.6M545.01 67.9h0.6M520.64 57.2h0.6M555.44 64.6h0.6M530.68 62.52h0.6M535.77 64.21h0.6M546.09 63.94h0.6M523.29 58.98h0.6M546.44 67.05h0.6M524.7 61.37h0.6M548.88 65.82h0.6M544.73 67.33h0.6M548.94 66.46h0.6M492.41 54.74h0.6M505.48 53.96h0.6M519.83 59.93h0.6M524.86 59.29h0.6M543.39 64.06h0.6M546.56 64.01h0.6M500.94 55.93h0.6M508.76 55.38h0.6M528.31 61.49h0.6M508.87 58.75h0.6M535.15 61.98h0.6M501.3 53.34h0.6M536.94 62.54h0.6M525.58 61.65h0.6M516.25 57.05h0.6M513.57 55.91h0.6M532.11 61.36h0.6M512.3 56.25h0.6M516.52 58.22h0.6M495.36 56.69h0.6M517.7 57.68h0.6M537.36 63.07h0.6M532.07 63.08h0.6M500.55 53.42h0.6M539.22 63.01h0.6M514.66 57.69h0.6M505.17 56.66h0.6M546.53 66.85h0.6M539.1 64.46h0.6M549.42 67.04h0.6M510.73 56.03h0.6M536.49 63.82h0.6M525.58 58.4h0.6M527.5 61.16h0.6M493.2 56.84h0.6M526.3 61.63h0.6M491.97 53.72h0.6M552.97 68.63h0.6M552.62 67.11h0.6M509 56.14h0.6M543.6 63.6h0.6M505.83 58.35h0.6M505.95 57.5h0.6M557.76 66.35h0.6M507.2 56.99h0.6M499.36 55.36h0.6M514.21 59.11h0.6M498.61 53.04h0.6M546.44 64.94h0.6M529.6 60.37h0.6M554.01 64.72h0.6M546.15 67.82h0.6M531.12 62.73h0.6M546.25 64.01h0.6M498.55 56.13h0.6M520.62 60.47h0.6M502.75 53.55h0.6M516.55 56.79h0.6M509.65 56.34h0.6M531.06 60.86h0.6M519.8 59.58h0.6M535.91 63.35h0.6M491.7 53.14h0.6M517.33 60.51h0.6M556.15 66.83h0.6M500.89 53.37h0.6M547.27 63.82h0.6M507.88 55.29h0.6M507.33 57.22h0.6M499.3 56.67h0.6M507.97 55.89h0.6M502.84 56.66h0.6M515.6 59.36h0.6M526.12 58.85h0.6M553.21 67.32h0.6M507.22 57.4h0.6M550.96 67.6h0.6M538.67 62.78h0.6M523.92 60.15h0.6M557.02 65.69h0.6M509.61 55.32h0.6M530.43 60.36h0.6M540.76 65.62h0.6M545.26 66.3h0.6M546.36 65.29h0.6M501.79 56.62h0.6M520.54 59.92h0.6M544.29 65.79h0.6M499.42 53.78h0.6M492.05 52.51h0.6M533.07 64.21h0.6M495.81 56.63h0.6M495.71 56.34h0.6M520.06 56.81h0.6M506.08 58.03h0.6M514.24 59.15h0.6M548.77 67.43h0.6M557 65.59h0.6M535.38 63.8h0.6M540.25 63.72h0.6M556.59 66.68h0.6M503.16 54.25h0.6M554.06 67.38h0.6M498.63 54.06h0.6M556.21 67.7h0.6M505.23 55.81h0.6M547.94 64.46h0.6M531.12 64.58h0.6M555.39 68.48h0.6M545.11 62.65h0.6M534.23 60.93h0.6M526.42 60.62h0.6M546.94 63.21h0.6M513.54 58h0.6M520.49 59.51h0.6M551.58 67.63h0.6M522.75 60.63h0.6M541.11 64.76h0.6M519.18 56.78h0.6M539.39 64.32h0.6M505.74 54.25h0.6M510.7 55.45h0.6M515.74 55.77h0.6M556.05 64.51h0.6M554.86 67.18h0.6M526.37 59.79h0.6M545.51 66.56h0.6M524.74 63.14h0.6M534.21 63.02h0.6M495.16 54.61h0.6M554.17 66.2h0.6M548.05 65.35h0.6M555.64 67.28h0.6M556.49 65.26h0.6M502.17 52.68h0.6M496.97 55.53h0.6M550.72 67.62h0.6M551.44 65.76h0.6M539.9 65.63h0.6M513.47 57.65h0.6M550.64 66.05h0.6M534.79 62.5h0.6M507.61 54.4h0.6M502.45 57.65h0.6M545.35 66.07h0.6M494.01 55.74h0.6M510.5 56.96h0.6M501.48 56.96h0.6M546.76 67.92h0.6M526.35 63.03h0.6M513.47 55.76h0.6M527.03 61.66h0.6M496.74 53.79h0.6M513.33 57.61h0.6M506.52 55.8h0.6M502.04 57.01h0.6M493.3 55.33h0.6M536.27 63.67h0.6M515.07 57.87h0.6M529.49 62.29h0.6M508.24 56.72h0.6M493.97 52.4h0.6M551.62 63.26h0.6M514.8 57.91h0.6M532.87 62.32h0.6M550.13 67.13h0.6M493.43 55.69h0.6M534.91 63.67h0.6M525.47 62.58h0.6M502 53.9h0.6M553.31 64.69h0.6M556.5 64.91h0.6M533.36 62.09h0.6M520.42 58.01h0.6M519.57 57.19h0.6M528.94 60.56h0.6M500.71 55.02h0.6M525 58.6h0.6M544.6 65.25h0.6M492.78 52.54h0.6M520.85 61h0.6M521.43 57.51h0.6M494.2 54.05h0.6M540.4 66.14h0.6M535.4 64.64h0.6M549.33 67.9h0.6M519.51 61.02h0.6M525.74 58.96h0.6M548.97 67.67h0.6M505.29 54.64h0.6M527.89 64.06h0.6M506.17 56.17h0.6M524.36 62.41h0.6M504.91 57.57h0.6M539.28 63.88h0.6M525.92 62.27h0.6M538.16 66.34h0.6M530.15 60.34h0.6M550.02 66.19h0.6M497.18 53.9h0.6M523.46 61.26h0.6M497.36 54.87h0.6M529.91 60.78h0.6M546.85 65.43h0.6M525.59 58.82h0.6M557.95 64.72h0.6M527.48 59.77h0.6M549.17 64h0.6M499.56 54.93h0.6M530.95 63.02h0.6M528.4 62.49h0.6M547.19 66.26h0.6M542.84 65.58h0.6M539.35 66.01h0.6M527.31 59.87h0.6M541.98 67.74h0.6M518.29 56.24h0.6M525.42 60.56h0.6M538.92 63.59h0.6M555.74 68.95h0.6M509.77 58.67h0.6M545.8 64.91h0.6M500.07 54.32h0.6M505.36 54.41h0.6M518.14 58.4h0.6M556.81 67.8h0.6M532.27 63.58h0.6M539.72 65.11h0.6M520.59 60.56h0.6M493.3 55.01h0.6M555.07 67.84h0.6M496.54 56.61h0.6M549.94 65.2h0.6M492.39 55.14h0.6M553.49 66.26h0.6M494.37 54.3h0.6M494.06 52.22h0.6M554.42 66.26h0.6M537.95 65.35h0.6M548.24 67.33h0.6M546.88 66.59h0.6M514.39 57.55h0.6M510.48 54.98h0.6M541 66.59h0.6M510.24 57.5h0.6M520.92 58.82h0.6M542.12 66.79h0.6M519.73 58.19h0.6M544.83 64.83h0.6M520.33 58.59h0.6M539.06 64.41h0.6M505.77 57.47h0.6M539.28 65.98h0.6M520.22 60.65h0.6M542.25 66.33h0.6M551.66 68.87h0.6M558.24 68.28h0.6M501.98 57.91h0.6M548.23 66.71h0.6M556.01 68.31h0.6M550.66 65.53h0.6M540.35 62.93h0.6M498.87 57.23h0.6M530.23 61.85h0.6M548.97 67.94h0.6M526.87 61.69h0.6M518.98 58.16h0.6M549.45 65.84h0.6M555.84 65.28h0.6M524.51 59.21h0.6M511.64 57.9h0.6M496.09 56.75h0.6M545.33 66.93h0.6M496.63 56.73h0.6M513.81 58.65h0.6M555.64 68.31h0.6M534.23 64.33h0.6M513.17 57.51h0.6M532.56 65.36h0.6M492.42 54.58h0.6M491.73 55.31h0.6M511.62 55.75h0.6M526.98 61.54h0.6M536.65 62.22h0.6M495.01 55.79h0.6M496.57 56.87h0.6M508.94 57.55h0.6M549.53 66.74h0.6M555.22 66.31h0.6M531.41 60.4h0.6M521.35 61.07h0.6M509.89 56.78h0.6M514.27 55.86h0.6M499.5 57.07h0.6M539.57 64.16h0.6M505.39 58.29h0.6M502.49 56.05h0.6M514.43 58.27h0.6M530.25 62.81h0.6M540.36 67.22h0.6M527.89 63.85h0.6M506.33 53.83h0.6M540.47 64.55h0.6M495.17 55.51h0.6M496.76 54.48h0.6M541.67 66.46h0.6M533.23 62.25h0.6M555.61 65.18h0.6M549.56 66.71h0.6M510.89 55.78h0.6M556.42 64.54h0.6M508.04 55.26h0.6M533.11 61.94h0.6M523.59 58.42h0.6M555.22 64.03h0.6M536.3 61.62h0.6M505.81 55.26h0.6M517.48 56.28h0.6M501.54 57.59h0.6M544.75 65.72h0.6M535.94 63.54h0.6M542.88 67.63h0.6M549.41 63.99h0.6M548.22 67.31h0.6M549.13 67.74h0.6M501.04 55.77h0.6M525.22 60.24h0.6M557.73 69.26h0.6M553.33 64.61h0.6M557.53 66.26h0.6M523.91 59.3h0.6M505.82 56.74h0.6M514.64 55.83h0.6M504.13 57.64h0.6M532.72 61.7h0.6M548.45 64.16h0.6M505.97 58.28h0.6M510.39 58.95h0.6M544.93 65.81h0.6M506.26 55.63h0.6M508.14 56.83h0.6M538.64 65.07h0.6M519.99 59.95h0.6M555.21 65.76h0.6M556.53 66.17h0.6M548.07 64.84h0.6M510.86 57.33h0.6M498.37 57.9h0.6M557.53 65.68h0.6M495.76 54.47h0.6M491.96 55.22h0.6M518.98 58.16h0.6M536.23 63.41h0.6M500.28 53.71h0.6M491.52 54.72h0.6M527.83 59.79h0.6M493.73 56.6h0.6M535.62 65.66h0.6M536.8 61.92h0.6M517.39 57.58h0.6M552.82 64.74h0.6M557.12 66.63h0.6M552.98 65.8h0.6M503.96 55.42h0.6M522.23 62.39h0.6M545.48 64.76h0.6M504.91 56.63h0.6M506.63 56.92h0.6M508.53 54.38h0.6M501.81 55.94h0.6M545.19 63.94h0.6M509.86 53.79h0.6M554.66 64.2h0.6M512.38 55.07h0.6M549.66 66.99h0.6M557.98 65.95h0.6M515.74 57.03h0.6M531.44 59.49h0.6M502.24 57.45h0.6M502.35 56.25h0.6M508.06 56.52h0.6M508.71 56.21h0.6M505.29 55.19h0.6M548.8 65.09h0.6M545.25 64.93h0.6M503.51 54.58h0.6M491.59 55.05h0.6M527.7 60.93h0.6M550.06 68.14h0.6M518.68 60.43h0.6M545.51 65.78h0.6M491.83 53.48h0.6M505.28 55.71h0.6M543.67 67.14h0.6M543.88 65.22h0.6M503.09 55.03h0.6M492.28 52.91h0.6M523.31 61.72h0.6M516.16 56.67h0.6M512.25 55.9h0.6M494.55 53.66h0.6M553.64 66.01h0.6M524.23 59.76h0.6M498.33 54h0.6M553.35 67.18h0.6M509.81 55.02h0.6M544.85 66.46h0.6M537.77 66.44h0.6M525.92 60.77h0.6M491.55 55.64h0.6M504.25 53.6h0.6M557.21 64.83h0.6M535.65 64.75h0.6M552.91 65.12h0.6M557.72 67.95h0.6M528.72 64.58h0.6M550.99 64.74h0.6M557.06 68.05h0.6M526.63 61.37h0.6M539.28 64.82h0.6M523.2 58.71h0.6M530.71 60.49h0.6M552.94 64.97h0.6M514.09 56.87h0.6M497.76 54.54h0.6M523.1 58.32h0.6M502.19 57.58h0.6M508.8 57.85h0.6M552.01 63.42h0.6M539.19 63.83h0.6M523.98 61.74h0.6M531.45 63.48h0.6M533.94 64.23h0.6M511.28 54.26h0.6M497.21 54.46h0.6M528.48 60.98h0.6M509.31 54.56h0.6M532.76 65.51h0.6M506.67 56.32h0.6M498.68 55.4h0.6M540.22 64.56h0.6M491.72 55.52h0.6M536.3 63.66h0.6M504.1 56.47h0.6M511.39 58.56h0.6M542.89 63.7h0.6M555.57 69.07h0.6M499.43 54.66h0.6M492.78 52.77h0.6M515.3 56.39h0.6M548.52 65.04h0.6M543.05 66.31h0.6M541.44 63.02h0.6M546.32 68.38h0.6M540.62 64.69h0.6M516.21 59.09h0.6M545.26 66.98h0.6M531.54 61.79h0.6M511.06 58.53h0.6M503.92 53.13h0.6M507.19 54.26h0.6M536.21 62.75h0.6M517.26 56.16h0.6M512.96 58.44h0.6M552.44 68h0.6M524.13 58.77h0.6M542.94 63.34h0.6M505.25 56.44h0.6M546.11 66.22h0.6M521.39 58.08h0.6M519.66 60.06h0.6M529.92 63.15h0.6M500.81 53.39h0.6M528.87 64.11h0.6M557.82 66.03h0.6M547.14 63.61h0.6M506.64 57.08h0.6M544.87 63.41h0.6M545.5 64.89h0.6M540.29 66.03h0.6M512.87 58.67h0.6M556.37 66.25h0.6M543.13 63.63h0.6M525.48 62.48h0.6M535.75 64.74h0.6M556.11 64.92h0.6M533.59 64.52h0.6M516.11 56.95h0.6M514.76 57.65h0.6M550.65 66.38h0.6M552.61 65.27h0.6M520.72 61.5h0.6M499.34 57.35h0.6M513.75 55.8h0.6M532.03 64.19h0.6M506.69 54.72h0.6M555.24 68.75h0.6M506 56.91h0.6M549.53 66.84h0.6M514.37 55.47h0.6M554.7 65.67h0.6M550.52 63.48h0.6M536.08 63.52h0.6M546.33 65.22h0.6M501.52 56.25h0.6M543.17 66.1h0.6M498.22 54.44h0.6M550.05 65.47h0.6M522.75 61.67h0.6M518.76 57.66h0.6M544.47 66.29h0.6M531.41 56.18h0.6M522.56 56.7h0.6M541.34 60.48h0.6M528.98 56.11h0.6M515.57 65.17h0.6M520.53 60.56h0.6M517.19 59.01h0.6M535.35 61.33h0.6M528.58 62.99h0.6M535.09 64.46h0.6M526.81 61.55h0.6" stroke="#1a1a1a" stroke-width="0.6" opacity="0.85"/>
</g>
<path d="M525.8 63.5l2 3.4h-1.2v6.5h-1.6v-6.5h-1.2z" fill="url(#age)"/>
<circle cx="525.8" cy="61.7" r="1.6" fill="#e8f060" opacity="0.9"/>
<circle cx="525.8" cy="61.7" r="0.8" fill="#f03030"/>
<rect x="484.9" y="28.9" width="80.6" height="63.5" fill="none" stroke="#a0a0a0" stroke-width="1"/>
<path d="M525.2 28.9v1.3M525.2 92.4v-1.3M484.9 60.65h1.3M565.5 60.65h-1.3" stroke="#444" stroke-width="0.7"/>
<g font-family="Liberation Serif" font-weight="bold">
<text x="487.8" y="39" font-size="9.6" text-anchor="start" fill="#000" >(e)</text>
<text x="562" y="39" font-size="8.3" text-anchor="end" fill="#000" >γ = + 0.175</text>
<text x="484.9" y="102.6" font-size="8.1" text-anchor="middle" fill="#000" >- 5</text>
<text x="525.2" y="102.6" font-size="8.1" text-anchor="middle" fill="#000" >0</text>
<text x="565.5" y="102.6" font-size="8.1" text-anchor="middle" fill="#000" >5</text>
<text x="525.2" y="112.6" font-size="9.1" text-anchor="middle" fill="#000" >Re (E)</text>
</g>
<g clip-path="url(#clipscf)">
<path d="M647.17 70.09h0.6M605.07 50.78h0.6M584.07 50.33h0.6M626.13 67.25h0.6M624.52 68.73h0.6M600.23 53.59h0.6M622.94 62.86h0.6M644.72 73.28h0.6M649.28 76.16h0.6M627.61 68.23h0.6M625.28 62.3h0.6M585.62 48.01h0.6M592.66 52.48h0.6M593.25 53.93h0.6M637.38 72.65h0.6M630.96 68.04h0.6M619.57 62h0.6M629.37 64.3h0.6M642.53 70.69h0.6M632.03 69.58h0.6M584.82 43.8h0.6M621.64 61.03h0.6M620.74 62.89h0.6M629.08 71.75h0.6M593.84 50.73h0.6M597.07 52.16h0.6M599.64 47.6h0.6M586.61 47.76h0.6M598.28 50.11h0.6M642.13 71.31h0.6M609.4 52.2h0.6M597.46 51.25h0.6M634.72 70.24h0.6M591.87 48.3h0.6M634.87 67.41h0.6M620.47 68.13h0.6M606.28 57.28h0.6M636.32 72.51h0.6M628.75 66.35h0.6M590.92 46.11h0.6M615.69 57.11h0.6M589.3 50.47h0.6M603.88 55.12h0.6M627.86 66.36h0.6M598.58 49.23h0.6M592.5 44.25h0.6M603.24 48.41h0.6M599.42 47.23h0.6M638.34 70.06h0.6M598.91 55h0.6M645.19 76.32h0.6M602 50.69h0.6M595.17 52.89h0.6M583.39 46.3h0.6M649.13 72.25h0.6M610.85 54.6h0.6M638.57 70.47h0.6M590.81 48.99h0.6M628.14 70.78h0.6M626.83 71.29h0.6M604.13 48.25h0.6M608.98 53.42h0.6M637.73 71.57h0.6M585.32 52.64h0.6M586.57 46.87h0.6M635.66 69.32h0.6M646.13 77.31h0.6M605.03 53.55h0.6M593.2 52.06h0.6M641.95 73.57h0.6M599.06 46.36h0.6M609.56 59.37h0.6M601.96 54.95h0.6M639.71 73.59h0.6M646.52 76.56h0.6M585.93 50.62h0.6M622.26 63.16h0.6M648.81 73.88h0.6M598.68 52.01h0.6M616 64.35h0.6M598.03 48.6h0.6M643.44 74.39h0.6M614.54 55.96h0.6M617.04 65.73h0.6M602.61 54.18h0.6M593.09 48.58h0.6M631.73 70.75h0.6M629.18 69.53h0.6M647.09 70.94h0.6M603.54 49.91h0.6M603.63 54.26h0.6M616.21 56.7h0.6M589.66 47.23h0.6M591.28 47.72h0.6M638.1 75.11h0.6M588.61 48.74h0.6M646.88 73.09h0.6M601.89 52.36h0.6M591.24 52.13h0.6M648.56 73.77h0.6M587.7 49.77h0.6M588.32 46.26h0.6M641.24 68.37h0.6M599.96 46.53h0.6M644.03 76.46h0.6M648.66 68.67h0.6M587.26 47.19h0.6M619.3 68.21h0.6M621.04 64.3h0.6M642.52 70.65h0.6M646.87 69.82h0.6M637.63 71.2h0.6M610.79 53.83h0.6M623.27 64.91h0.6M644.39 75.66h0.6M590.11 45.24h0.6M644.48 74.99h0.6M642.05 70.12h0.6M642.78 75.43h0.6M632.6 71.06h0.6M606.59 52.8h0.6M599.33 54.51h0.6M597.97 50.98h0.6M606.25 58.33h0.6M593.87 49.31h0.6M593.55 47.54h0.6M640.94 73.23h0.6M590.17 51.92h0.6M635.38 74.8h0.6M620.69 64.55h0.6M626.99 66.07h0.6M631.56 64.71h0.6M635.72 74.87h0.6M594.69 46.3h0.6M615.73 56.74h0.6M599.99 52.71h0.6M647.94 71.8h0.6M604.32 49.78h0.6M624.03 66.54h0.6M641.59 71.02h0.6M631.82 66.87h0.6M610.86 53.02h0.6M634.17 73.07h0.6M604.33 55.9h0.6M631.09 68.19h0.6M639.17 70.84h0.6M619.49 66.03h0.6M592.34 48.62h0.6M644.89 72.54h0.6M595.98 47.38h0.6M632.37 73.14h0.6M627.3 63.25h0.6M623.14 68.49h0.6M635.54 69.56h0.6M587.15 50.57h0.6M623.4 67.4h0.6M609.7 56.92h0.6M644.69 71.42h0.6M591.56 49.71h0.6M626.98 70.28h0.6M629.81 70.35h0.6M624.6 63.32h0.6M634.28 73.86h0.6M595.8 52h0.6M594.9 45.25h0.6M614.36 58.27h0.6M598.18 49.95h0.6M626.51 66.59h0.6M592.99 50.19h0.6M637.39 73.81h0.6M601.77 51.53h0.6M601.49 51.4h0.6M645.19 73.99h0.6M643.21 76.82h0.6M603.64 54.97h0.6M629.96 67.48h0.6M644.23 75.1h0.6M607.03 55.34h0.6M623.29 64.51h0.6M648.54 74.78h0.6M605.9 50.42h0.6M600.58 52.41h0.6M631.7 71.61h0.6M600.86 52.11h0.6M630.7 67.16h0.6M591.49 46.56h0.6M649.81 76.64h0.6M648.85 75.15h0.6M602.89 49.18h0.6M613.73 57.99h0.6M606.68 51.12h0.6M618.36 60.86h0.6M647.46 71.73h0.6M627.04 70.01h0.6M627.22 72.83h0.6M639.33 73.2h0.6M614.87 58.07h0.6M647.74 74.04h0.6M592.73 51.68h0.6M624.79 65.18h0.6M618.31 56.67h0.6M642.64 72.24h0.6M605.75 54.62h0.6M594.29 50.88h0.6M628.52 68.99h0.6M584.18 49.18h0.6M635.66 75.25h0.6M632.15 69.84h0.6M590.62 51.42h0.6M648.34 75.15h0.6M629.58 68.49h0.6M592.38 43.99h0.6M588.02 48.96h0.6M586.2 47.5h0.6M602.34 47.81h0.6M642.61 76.74h0.6M599.84 49.83h0.6M619.99 60.74h0.6M586.38 46.24h0.6M586.36 48.71h0.6M603.76 51.12h0.6M601.34 55.2h0.6M590.47 47.97h0.6M597.9 54.83h0.6M592.3 51.97h0.6M600.28 47.85h0.6M617.44 64.89h0.6M604.16 52.63h0.6M623.93 67.1h0.6M648.9 75.44h0.6M636.34 72.97h0.6M633.4 72h0.6M636.37 68.21h0.6M649.06 72.61h0.6M587.54 48.09h0.6M649.79 76.6h0.6M598.41 51.17h0.6M601.72 50.87h0.6M629.56 65.38h0.6M641.43 70.95h0.6M647.32 69.14h0.6M608.34 58.01h0.6M585.19 49.96h0.6M598.98 49.54h0.6M620.07 63.06h0.6M586.6 48.71h0.6M613.51 56.36h0.6M613.73 58.5h0.6M592.8 46.41h0.6M622.82 65.75h0.6M633.49 74.75h0.6M607.41 54.41h0.6M588.79 48.63h0.6M594.36 52.29h0.6M642.4 72.66h0.6M644.29 69.52h0.6M632.48 73.27h0.6M614.04 57.52h0.6M636.81 73.95h0.6M628.38 68.94h0.6M641.46 76.59h0.6M627.24 66.44h0.6M587.42 47.45h0.6M614.84 61.41h0.6M645.53 71.71h0.6M648.25 77.13h0.6M599.67 54.72h0.6M590.72 47.83h0.6M625.83 70.68h0.6M588.19 50.12h0.6M591.19 44.42h0.6M637.74 69.34h0.6M603.31 51.15h0.6M633.69 67.55h0.6M641.69 76.3h0.6M589.29 47.03h0.6M627.49 67.86h0.6M617.99 61.4h0.6M601.18 54.22h0.6M607.82 56.53h0.6M646.44 70.5h0.6M616.96 59.17h0.6M610.79 58.75h0.6M596.79 46h0.6M633.85 67.33h0.6M597.27 53.65h0.6M624.84 69.79h0.6M638.76 73.9h0.6M639.99 72.65h0.6M595.5 47.27h0.6M618.55 58.91h0.6M611.69 60.17h0.6M591.39 50.34h0.6M625.79 69.29h0.6M611.25 59.42h0.6M634.25 73.07h0.6M648.66 74.48h0.6M589.8 49.73h0.6M601.85 50.72h0.6M585.53 47.96h0.6M594.84 47.57h0.6M588.91 46.36h0.6M648.48 72.17h0.6M646.94 72.14h0.6M634.61 69.97h0.6M620.37 61.93h0.6M610.74 58.98h0.6M647.27 77.13h0.6M614.65 55.14h0.6M612.85 60.37h0.6M647.93 77.51h0.6M643.05 75.9h0.6M603.89 50.37h0.6M606.5 53.58h0.6M604.86 55.51h0.6M593.09 44.15h0.6M618.18 61.24h0.6M635.45 71.79h0.6M643.4 76.77h0.6M631.41 66.14h0.6M608.34 53.48h0.6M586.77 44.64h0.6M586.87 47.95h0.6M646.07 75.94h0.6M638.03 74.1h0.6M595.2 47.12h0.6M634.84 71.37h0.6M616.07 60.63h0.6M593.51 51.63h0.6M619.07 61.77h0.6M631.44 71.38h0.6M587.01 42.28h0.6M617.58 59.24h0.6M614.48 63.83h0.6M625.66 67.08h0.6M600.65 50.03h0.6M590.66 46.29h0.6M585.68 48.15h0.6M647.8 71.66h0.6M627.79 63.84h0.6M635.01 65.75h0.6M597.92 53.2h0.6M602.61 55.05h0.6M619.14 61.5h0.6M640.77 71.88h0.6M626.71 64.41h0.6M606.62 58.59h0.6M647.69 72.53h0.6M590.08 49.73h0.6M584.71 50.93h0.6M638.69 71.48h0.6M648.51 72.66h0.6M610.42 52.94h0.6M626.09 65.1h0.6M646.09 69.14h0.6M621.74 64.94h0.6M629.66 68.13h0.6M648.17 74.63h0.6M625.26 70.12h0.6M592.08 51.58h0.6M623.39 69.01h0.6M615.02 56.89h0.6M617.05 58.66h0.6M585.22 47.41h0.6M604.56 49.8h0.6M584.9 51.66h0.6M627.89 62.81h0.6M640.61 74.71h0.6M602.42 55.52h0.6M605.2 50.75h0.6M614.46 61.41h0.6M606.15 55.44h0.6M636.98 75.36h0.6M629.03 70.8h0.6M604.31 52.02h0.6M627.53 67.03h0.6M592.38 46.12h0.6M630.79 73.15h0.6M590.93 46.58h0.6M588.36 44.5h0.6M583.01 44.65h0.6M633.98 68.06h0.6M640.53 68.96h0.6M597.16 48.07h0.6M649.12 77.17h0.6M649.08 74.06h0.6M585.11 50.44h0.6M594.28 49.42h0.6M646.57 72.86h0.6M589.81 45.74h0.6M635.67 72.71h0.6M622.21 62.65h0.6M613.67 54.93h0.6M625.02 69.84h0.6M613.09 56.48h0.6M621.5 65.24h0.6M590.53 45.73h0.6M607.28 50.87h0.6M618.16 61.59h0.6M603.39 54.13h0.6M641.65 72.34h0.6M613.26 58.64h0.6M615.11 58.91h0.6M639.7 72.75h0.6M638.15 70.43h0.6M640.63 75.68h0.6M622.76 64.92h0.6M606.34 54.89h0.6M618.05 61.96h0.6M601.4 46.84h0.6M618.65 60.12h0.6M635.81 75.07h0.6M617.6 64.46h0.6M648.86 71.98h0.6M635.69 65.92h0.6M591.97 54.35h0.6M642.97 73.87h0.6M639.48 76.96h0.6M597.35 46.94h0.6M637.88 72.93h0.6M649.41 77.58h0.6M589.04 45.3h0.6M627.42 66.88h0.6M644.97 70.38h0.6M631.38 70.54h0.6M643.01 75.62h0.6M599.62 51.58h0.6M583.98 50.28h0.6M643.66 76h0.6M583.17 45.36h0.6M593.64 47.37h0.6M645.31 68.64h0.6M625.43 64.26h0.6M589.11 45.78h0.6M634.53 68.93h0.6M609.81 54.43h0.6M644.01 77.02h0.6M598.81 54.44h0.6M609.55 57.97h0.6M649.24 69.59h0.6M627.23 66.79h0.6M606.04 48.79h0.6M596.37 52.95h0.6M627.22 71.12h0.6M642.22 73.58h0.6M618.17 66.79h0.6M612.71 59.93h0.6M644.58 70.22h0.6M605.01 55.5h0.6M626.41 65.45h0.6M639.89 74.06h0.6M606.33 48.65h0.6M643.98 70.85h0.6M589.9 53.67h0.6M639.04 74.04h0.6M587.15 51.74h0.6M628.48 67.72h0.6M601.34 51.7h0.6M644.86 71.99h0.6M633.53 67.51h0.6M609.57 53.19h0.6M646.36 69.73h0.6M584.4 52.46h0.6M585.36 49.3h0.6M608.12 56.21h0.6M621.19 62.72h0.6M622.33 65.13h0.6M617.95 65.52h0.6M589.41 48.73h0.6M603.29 55.34h0.6M592.05 46.93h0.6M639.55 74.21h0.6M606.11 52.92h0.6M594.78 51.82h0.6M598.93 49.8h0.6M585.22 43.93h0.6M600.02 49.99h0.6M643.59 72.92h0.6M610.69 57.46h0.6M637.82 70.75h0.6M638.81 77.51h0.6M595.53 54.56h0.6M595.47 46.71h0.6M629.58 73.41h0.6M637.64 74.06h0.6M634.31 71.37h0.6M595.86 49.2h0.6M636.62 71.63h0.6M601.63 52.21h0.6M629.02 68.59h0.6M603.72 49.21h0.6M600.11 51.38h0.6M621.07 63.54h0.6M596.31 49.21h0.6M600.55 47.06h0.6M631.77 73.19h0.6M605.29 57.02h0.6M584.35 50.36h0.6M631.44 71.24h0.6M644.56 70.58h0.6M585.32 43.32h0.6M633.75 74.01h0.6M583.11 44.44h0.6M618.36 63.18h0.6M594.04 50.96h0.6M621.99 68.53h0.6M637.81 76.94h0.6M627 70.18h0.6M646.73 75.81h0.6M645.82 72.32h0.6M626.51 63.74h0.6M617.93 63.7h0.6M597.42 49.39h0.6M600.23 49.32h0.6M593.98 45.98h0.6M621.5 69.56h0.6M587.74 51.39h0.6M634.47 76.87h0.6M596.08 52.51h0.6M606.07 48.51h0.6M596.77 46.39h0.6M597.18 48.1h0.6M645.32 75.09h0.6M591.12 49.69h0.6M620.25 66.1h0.6M640.05 74.68h0.6M587.15 48.99h0.6M647.3 75.03h0.6M628.21 71.76h0.6M635.13 68.65h0.6M645.33 73.1h0.6M589.41 50.62h0.6M633.44 73.64h0.6M638.69 74.26h0.6M638.5 67.81h0.6M596 48.47h0.6M614.4 55.66h0.6M586.56 47.75h0.6M600.24 54.38h0.6M632.08 72.08h0.6M593.19 52.98h0.6M649.06 74.74h0.6M598.66 47.32h0.6M605.24 51.72h0.6M647.07 70.41h0.6M584.33 43.78h0.6M595.86 45.93h0.6M620.48 67.55h0.6M618.22 65.56h0.6M635.51 72.78h0.6M627.23 63.59h0.6M620.12 65.85h0.6M641.03 75.94h0.6M631.74 66.73h0.6M628.94 73.26h0.6M585.34 46.9h0.6M598 52.96h0.6M612.68 61.19h0.6M591.71 49h0.6M637.1 75.79h0.6M625.64 64.96h0.6M621.54 69.32h0.6M640.08 71.4h0.6M619.31 66.69h0.6M629.23 66.28h0.6M649.74 69.95h0.6M639.7 70.29h0.6M588.25 51.35h0.6M636.04 74.37h0.6M634.92 67.05h0.6M583.06 46.38h0.6M644.32 70.8h0.6M601.59 50.96h0.6M599.66 45.44h0.6M591.37 45.17h0.6M617.96 58.74h0.6M617.02 64.65h0.6M611.94 58.3h0.6M584.5 45.26h0.6M618.42 64.93h0.6M640.43 73.51h0.6M613.79 60.75h0.6M631.79 74.6h0.6M627.85 71.64h0.6M600.96 55.4h0.6M614.75 64.56h0.6M590.01 46.35h0.6M609.35 53.65h0.6M621.76 61.01h0.6M635.3 68.76h0.6M639.22 70.1h0.6M609.42 57.05h0.6M594.39 45.01h0.6M649.28 72.96h0.6M587.27 43.8h0.6M593.44 50.23h0.6M638.53 74.25h0.6M590.42 47.61h0.6M585.2 51.53h0.6M633.77 65.86h0.6M601.22 48.04h0.6M619.04 59.7h0.6M603.21 56.49h0.6M620.1 65.67h0.6M648.24 71.19h0.6M610.32 51.51h0.6M646.99 71.4h0.6M644.56 70.33h0.6M583.07 49.71h0.6M595.71 46.83h0.6M607.19 49.37h0.6M606.6 54.39h0.6M647.11 78.39h0.6M646.34 74.91h0.6M604.23 49.42h0.6M598.03 49.03h0.6M643.84 73.42h0.6M586.74 46.33h0.6M624.66 63.92h0.6M594.98 52.07h0.6M620.27 66.41h0.6M614.32 60.53h0.6M626.94 71.35h0.6M586.12 48.19h0.6M632.5 67.42h0.6M602.16 49.71h0.6M638.34 66.69h0.6M623.57 62.31h0.6M594.25 48.82h0.6M622.01 66.84h0.6M584.78 49.27h0.6M636.02 68.5h0.6M608.56 52.82h0.6M647.36 74.88h0.6M611.75 52.69h0.6M599.65 52.41h0.6M599.91 54.18h0.6M647.84 75.07h0.6M587.91 46.98h0.6M596.66 47.21h0.6M584.02 47.45h0.6M603.24 53.48h0.6M620.19 63.4h0.6M595.83 46.71h0.6M596.21 50.43h0.6M615.09 63.34h0.6M641.82 69.06h0.6M601.49 49.69h0.6M614.25 56.06h0.6M587.46 49.57h0.6M610.64 52.8h0.6M585.4 48.58h0.6M630.12 71.84h0.6M590.59 49.3h0.6M602.52 53.25h0.6M583.78 50.55h0.6M600.73 55.3h0.6M648.46 78.84h0.6M640.04 69.17h0.6M643.4 75.1h0.6M614.11 57.01h0.6M628.04 65.59h0.6M583.94 50.15h0.6M583.32 47.92h0.6M647.77 74.12h0.6M597.52 52.63h0.6M610.27 53.78h0.6M632.35 73.3h0.6M595.06 49.67h0.6M630.14 70.63h0.6M628.46 65.74h0.6M625.96 64.3h0.6M628.17 71.55h0.6M600.08 49.41h0.6M622.82 60.45h0.6M630.04 71.73h0.6M614.51 63.4h0.6M638.45 72.4h0.6M596.36 50.69h0.6M583.61 44.78h0.6M588.54 46.82h0.6M605.68 50.39h0.6M634.13 67.3h0.6M614.29 55.72h0.6M592.18 46.23h0.6M587.27 48.69h0.6M630.72 69.22h0.6M616.09 61.72h0.6M637.06 70.81h0.6M642.07 74.13h0.6M611.51 58.42h0.6M635.53 72.4h0.6M606.11 55.24h0.6M630.07 72h0.6M610.95 54.85h0.6M649.29 74.38h0.6M600.97 54.82h0.6M646.19 75.72h0.6M585.32 46.11h0.6M619 62.4h0.6M595.77 47.22h0.6M596.09 53.5h0.6M585.92 45.76h0.6M585.77 47.48h0.6M618.99 65.96h0.6M609.48 56.48h0.6M636.3 75.45h0.6M641.89 74.45h0.6M638.34 69.68h0.6M632.98 70.24h0.6M589.02 47.1h0.6M592.88 51.95h0.6M593.8 45.23h0.6M597.01 52.84h0.6M602.99 52.85h0.6M618.96 62.2h0.6M623.77 68.34h0.6M606.66 51.79h0.6M589.36 47.93h0.6M627 70.05h0.6M636.79 68.02h0.6M627.48 68.86h0.6M612.64 59.98h0.6M641.01 69.57h0.6M632.14 69.32h0.6M601.24 47.65h0.6M588.32 51.97h0.6M606.46 54.33h0.6M589.15 54.56h0.6M600.59 51.06h0.6M600.14 54.59h0.6M585.9 46.11h0.6M596.82 44.14h0.6M626.31 71.32h0.6M637.31 74.71h0.6M619.73 59.71h0.6M599.78 49.41h0.6M588 46.52h0.6M634.88 69.81h0.6M644.98 68.25h0.6M592.28 47.01h0.6M591.4 47.36h0.6M587.76 43.05h0.6M584.5 50.66h0.6M590.47 50.64h0.6M584.28 48.51h0.6M610.03 54.04h0.6M606.77 51.69h0.6M630.57 68.21h0.6M636.31 70.02h0.6M633.34 71.32h0.6M641.13 68.46h0.6M585.29 46.17h0.6M640.77 71.61h0.6M648.02 70.73h0.6M600.13 54.93h0.6M605.45 49.97h0.6M611.17 53.65h0.6M629.84 73.72h0.6M642.47 72.84h0.6M608.32 54.61h0.6M615.89 54.61h0.6M593.84 49.75h0.6M636.14 70.82h0.6M627.04 67.6h0.6M641.55 64.91h0.6M608.82 60.83h0.6M603.68 60.61h0.6M615.22 53.88h0.6M613.22 63.13h0.6M630.41 69.24h0.6M613.07 57.54h0.6M609.01 57.01h0.6M601.95 51.9h0.6M603.98 61.24h0.6M626.15 67.1h0.6M613.97 68.05h0.6M609.27 72.29h0.6M609.17 53.77h0.6M605.87 68.28h0.6M575.96 42.8h0.6M607.36 62.28h0.6M604.4 56.9h0.6M623.38 61.82h0.6M662.27 74.31h0.6M617.71 67.6h0.6M607.38 60.16h0.6M639.28 72.08h0.6M631.53 69.78h0.6M610.46 53.95h0.6M630.2 60.74h0.6M599.09 54.93h0.6M604.46 63.45h0.6M607.16 65.32h0.6M623.19 59.48h0.6M623.05 67.72h0.6M628.23 69.15h0.6M609.28 51.58h0.6M612.73 61.46h0.6M601.45 49.87h0.6M631.27 67.96h0.6M598.1 51.7h0.6M625.5 65.14h0.6M619.47 55.01h0.6M612.68 57.99h0.6M612.85 61.98h0.6M610.59 54.03h0.6M589.89 51.93h0.6M598.62 50.15h0.6M603.91 60.9h0.6M591.05 54.49h0.6M628.85 62.25h0.6M593.7 54h0.6M619.97 56.78h0.6M624.87 66.53h0.6M624.52 71.79h0.6M628.5 63.13h0.6M632.1 60.28h0.6M599.3 61.89h0.6M606.77 58.76h0.6" stroke="#1a1a1a" stroke-width="0.6" opacity="0.75"/>
</g>
<path d="M617.3 67.6l2 3.4h-1.2v6.5h-1.6v-6.5h-1.2z" fill="url(#agf)"/>
<circle cx="617.3" cy="65.8" r="1.6" fill="#e8f060" opacity="0.9"/>
<circle cx="617.3" cy="65.8" r="0.8" fill="#f03030"/>
<rect x="576.4" y="28.9" width="80.6" height="63.5" fill="none" stroke="#a0a0a0" stroke-width="1"/>
<path d="M616.7 28.9v1.3M616.7 92.4v-1.3M576.4 60.65h1.3M657 60.65h-1.3" stroke="#444" stroke-width="0.7"/>
<g font-family="Liberation Serif" font-weight="bold">
<text x="579.3" y="39" font-size="9.6" text-anchor="start" fill="#000" >(f)</text>
<text x="653.5" y="39" font-size="8.3" text-anchor="end" fill="#000" >γ = + 0.350</text>
<text x="576.4" y="102.6" font-size="8.1" text-anchor="middle" fill="#000" >- 5</text>
<text x="616.7" y="102.6" font-size="8.1" text-anchor="middle" fill="#000" >0</text>
<text x="657" y="102.6" font-size="8.1" text-anchor="middle" fill="#000" >5</text>
<text x="616.7" y="112.6" font-size="9.1" text-anchor="middle" fill="#000" >Re (E)</text>
</g>
<g clip-path="url(#clipsch)">
<path d="M265.1 199.4Q266.8 211.1 275.7 214.45Q264.41 219.23 253 227.15Q260.27 213.36 265.1 199.4Z" fill="#f0f0f0"/><path d="M265.1 199.4Q266.63 205.15 268.6 209.01Q271.4 211.93 275.7 214.45" fill="none" stroke="#1e1e1e" stroke-width="0.45"/><path d="M265.1 199.4Q266.29 205.55 267.85 209.89Q271.06 212.32 275.7 214.45" fill="none" stroke="#252525" stroke-width="0.45"/><path d="M265.1 199.4Q265.82 206.09 266.81 211.1Q270.59 212.87 275.7 214.45" fill="none" stroke="#2f2f2f" stroke-width="0.45"/><path d="M265.1 199.4Q265.28 206.71 265.62 212.48Q270.05 213.49 275.7 214.45" fill="none" stroke="#3b3b3b" stroke-width="0.45"/><path d="M265.1 199.4Q264.7 207.39 264.33 213.98Q269.47 214.16 275.7 214.45" fill="none" stroke="#484848" stroke-width="0.45"/><path d="M265.1 199.4Q264.08 208.11 262.95 215.58Q268.85 214.88 275.7 214.45" fill="none" stroke="#555555" stroke-width="0.45"/><path d="M265.1 199.4Q263.43 208.86 261.51 217.26Q268.2 215.64 275.7 214.45" fill="none" stroke="#646464" stroke-width="0.45"/><path d="M265.1 199.4Q262.76 209.65 260 219.01Q267.53 216.43 275.7 214.45" fill="none" stroke="#737373" stroke-width="0.45"/><path d="M265.1 199.4Q262.05 210.47 258.44 220.83Q266.82 217.24 275.7 214.45" fill="none" stroke="#828282" stroke-width="0.45"/><path d="M265.1 199.4Q261.33 211.31 256.83 222.7Q266.1 218.09 275.7 214.45" fill="none" stroke="#929292" stroke-width="0.45"/><path d="M265.1 199.4Q260.58 212.18 255.17 224.63Q265.35 218.95 275.7 214.45" fill="none" stroke="#a3a3a3" stroke-width="0.45"/><path d="M265.1 199.4Q266.8 211.1 275.7 214.45" fill="none" stroke="#111" stroke-width="1.0"/>
<path d="M225.9 226.3Q234.58 229.9 236 242.6Q241.05 227.44 248.5 212.45Q237.11 221.08 225.9 226.3Z" fill="#f0f0f0"/><path d="M225.9 226.3Q230.08 229.03 232.76 232.18Q234.62 236.36 236 242.6" fill="none" stroke="#1e1e1e" stroke-width="0.45"/><path d="M225.9 226.3Q230.42 228.6 233.53 231.22Q234.97 235.93 236 242.6" fill="none" stroke="#252525" stroke-width="0.45"/><path d="M225.9 226.3Q230.89 228 234.58 229.9Q235.44 235.34 236 242.6" fill="none" stroke="#2f2f2f" stroke-width="0.45"/><path d="M225.9 226.3Q231.43 227.33 235.77 228.41Q235.98 234.66 236 242.6" fill="none" stroke="#3b3b3b" stroke-width="0.45"/><path d="M225.9 226.3Q232.02 226.59 237.07 226.77Q236.56 233.93 236 242.6" fill="none" stroke="#484848" stroke-width="0.45"/><path d="M225.9 226.3Q232.64 225.81 238.46 225.04Q237.19 233.15 236 242.6" fill="none" stroke="#555555" stroke-width="0.45"/><path d="M225.9 226.3Q233.3 224.99 239.92 223.21Q237.84 232.32 236 242.6" fill="none" stroke="#646464" stroke-width="0.45"/><path d="M225.9 226.3Q233.98 224.13 241.44 221.3Q238.53 231.47 236 242.6" fill="none" stroke="#737373" stroke-width="0.45"/><path d="M225.9 226.3Q234.69 223.24 243.02 219.33Q239.24 230.58 236 242.6" fill="none" stroke="#828282" stroke-width="0.45"/><path d="M225.9 226.3Q235.42 222.33 244.64 217.29Q239.97 229.66 236 242.6" fill="none" stroke="#929292" stroke-width="0.45"/><path d="M225.9 226.3Q236.18 221.38 246.31 215.19Q240.72 228.72 236 242.6" fill="none" stroke="#a3a3a3" stroke-width="0.45"/><path d="M225.9 226.3Q234.58 229.9 236 242.6" fill="none" stroke="#111" stroke-width="1.0"/>
<path d="M249.6 207.85Q253.7 209.65 258.4 208.55M246.6 229.15Q251.2 228.65 251.8 230.75" fill="none" stroke="#555" stroke-width="0.5"/>
<path d="M247.3 213.05L245.9 218.15M254.7 220.45L253.2 226.35M251.8 230.75L252.5 238.15M249.6 207.85L249.2 203.15" fill="none" stroke="#555" stroke-width="0.6" stroke-dasharray="0.6 1"/>
</g>
<path d="M249.6 207.4l2 3.4h-1.2v6.5h-1.6v-6.5h-1.2z" fill="url(#agh)"/>
<circle cx="249.6" cy="205.6" r="1.6" fill="#e8f060" opacity="0.9"/>
<circle cx="249.6" cy="205.6" r="0.8" fill="#70c040"/>
<rect x="210.4" y="188.4" width="80.6" height="63.5" fill="none" stroke="#a0a0a0" stroke-width="1"/>
<path d="M250.7 188.4v1.3M250.7 251.9v-1.3M210.4 220.15h1.3M291 220.15h-1.3" stroke="#444" stroke-width="0.7"/>
<g font-family="Liberation Serif" font-weight="bold">
<text x="213.3" y="199.1" font-size="9.6" text-anchor="start" fill="#000" >(h)</text>
<text x="287.5" y="198.98" font-size="8.3" text-anchor="end" fill="#000" >γ = - 0.350</text>
<text x="210.4" y="262.1" font-size="8.1" text-anchor="middle" fill="#000" >- 5</text>
<text x="250.7" y="262.1" font-size="8.1" text-anchor="middle" fill="#000" >0</text>
<text x="291" y="262.1" font-size="8.1" text-anchor="middle" fill="#000" >5</text>
<text x="250.7" y="272.1" font-size="9.1" text-anchor="middle" fill="#000" >Re (E)</text>
<text x="206.6" y="191.4" font-size="8.1" text-anchor="end" fill="#000" >0.5</text>
<text x="206.6" y="222.9" font-size="8.1" text-anchor="end" fill="#000" >0</text>
<text x="206.6" y="254.8" font-size="8.1" text-anchor="end" fill="#000" >- 0.5</text>
<text transform="translate(191.6 219.8) rotate(-90)" font-size="9.3" text-anchor="middle">Im (E)</text>
</g>
<g clip-path="url(#clipsci)">
<path d="M317.2 221.85Q325.06 222.81 327.9 225.45Q332.4 221.76 339.3 218.05Q328.22 220.35 317.2 221.85Z" fill="url(#lobeg1)"/><path d="M317.2 221.85Q322.6 222.05 326.5 222.33Q327.31 223.64 327.9 225.45M317.2 221.85Q323.63 221.71 328.82 221.55Q328.33 223.3 327.9 225.45M317.2 221.85Q324.6 221.39 331.03 220.81Q329.31 222.97 327.9 225.45M317.2 221.85Q325.54 221.07 333.17 220.1Q330.25 222.66 327.9 225.45M317.2 221.85Q326.45 220.77 335.25 219.4Q331.16 222.35 327.9 225.45M317.2 221.85Q327.35 220.47 337.29 218.72Q332.06 222.05 327.9 225.45" fill="none" stroke="#222" stroke-width="0.35" opacity="0.85"/><path d="M317.2 221.85Q325.06 222.81 327.9 225.45" fill="none" stroke="#111" stroke-width="0.7"/>
<path d="M356.7 215.35Q359.1 217.95 366.8 218.85Q355.54 220.4 344.1 222.75Q351.6 219.04 356.7 215.35Z" fill="url(#lobeg2)"/><path d="M356.7 215.35Q356.99 217.14 357.59 218.43Q361.44 218.68 366.8 218.85M356.7 215.35Q355.91 217.49 355.14 219.22Q360.36 219.03 366.8 218.85M356.7 215.35Q354.89 217.82 352.81 219.96Q359.33 219.36 366.8 218.85M356.7 215.35Q353.9 218.13 350.56 220.68Q358.34 219.67 366.8 218.85M356.7 215.35Q352.93 218.44 348.37 221.38Q357.38 219.98 366.8 218.85M356.7 215.35Q351.99 218.74 346.21 222.07Q356.43 220.28 366.8 218.85" fill="none" stroke="#222" stroke-width="0.35" opacity="0.85"/><path d="M356.7 215.35Q359.1 217.95 366.8 218.85" fill="none" stroke="#111" stroke-width="0.7"/>
</g>
<path d="M342.8 221.5l2 3.4h-1.2v6.5h-1.6v-6.5h-1.2z" fill="url(#agi)"/>
<circle cx="342.8" cy="219.7" r="1.6" fill="#e8f060" opacity="0.9"/>
<circle cx="342.8" cy="219.7" r="0.8" fill="#70c040"/>
<rect x="301.9" y="188.4" width="80.6" height="63.5" fill="none" stroke="#a0a0a0" stroke-width="1"/>
<path d="M342.2 188.4v1.3M342.2 251.9v-1.3M301.9 220.15h1.3M382.5 220.15h-1.3" stroke="#444" stroke-width="0.7"/>
<g font-family="Liberation Serif" font-weight="bold">
<text x="304.8" y="199.1" font-size="9.6" text-anchor="start" fill="#000" >(i)</text>
<text x="379" y="198.98" font-size="8.3" text-anchor="end" fill="#000" >γ = - 0.087</text>
<text x="301.9" y="262.1" font-size="8.1" text-anchor="middle" fill="#000" >- 5</text>
<text x="342.2" y="262.1" font-size="8.1" text-anchor="middle" fill="#000" >0</text>
<text x="382.5" y="262.1" font-size="8.1" text-anchor="middle" fill="#000" >5</text>
<text x="342.2" y="272.1" font-size="9.1" text-anchor="middle" fill="#000" >Re (E)</text>
</g>
<g clip-path="url(#clipscj)">
<line x1="406.7" y1="220.15" x2="460.7" y2="220.15" stroke="#2a2a2a" stroke-width="0.9"/>
</g>
<path d="M434.3 221.9l2 3.4h-1.2v6.5h-1.6v-6.5h-1.2z" fill="url(#agj)"/>
<circle cx="434.3" cy="220.1" r="1.6" fill="#e8f060" opacity="0.9"/>
<circle cx="434.3" cy="220.1" r="0.8" fill="#70c040"/>
<rect x="393.4" y="188.4" width="80.6" height="63.5" fill="none" stroke="#a0a0a0" stroke-width="1"/>
<path d="M433.7 188.4v1.3M433.7 251.9v-1.3M393.4 220.15h1.3M474 220.15h-1.3" stroke="#444" stroke-width="0.7"/>
<g font-family="Liberation Serif" font-weight="bold">
<text x="396.3" y="199.1" font-size="9.6" text-anchor="start" fill="#000" >(j)</text>
<text x="470.5" y="198.98" font-size="8.3" text-anchor="end" fill="#000" >γ = 0</text>
<text x="393.4" y="262.1" font-size="8.1" text-anchor="middle" fill="#000" >- 5</text>
<text x="433.7" y="262.1" font-size="8.1" text-anchor="middle" fill="#000" >0</text>
<text x="474" y="262.1" font-size="8.1" text-anchor="middle" fill="#000" >5</text>
<text x="433.7" y="272.1" font-size="9.1" text-anchor="middle" fill="#000" >Re (E)</text>
</g>
<g clip-path="url(#clipsck)">
<path d="M550.2 221.85Q542.34 222.81 539.5 225.45Q535 221.76 528.1 218.05Q539.18 220.35 550.2 221.85Z" fill="url(#lobeg3)"/><path d="M550.2 221.85Q544.8 222.05 540.9 222.33Q540.09 223.64 539.5 225.45M550.2 221.85Q543.77 221.71 538.58 221.55Q539.07 223.3 539.5 225.45M550.2 221.85Q542.8 221.39 536.37 220.81Q538.09 222.97 539.5 225.45M550.2 221.85Q541.86 221.07 534.23 220.1Q537.15 222.66 539.5 225.45M550.2 221.85Q540.95 220.77 532.15 219.4Q536.24 222.35 539.5 225.45M550.2 221.85Q540.05 220.47 530.11 218.72Q535.34 222.05 539.5 225.45" fill="none" stroke="#222" stroke-width="0.35" opacity="0.85"/><path d="M550.2 221.85Q542.34 222.81 539.5 225.45" fill="none" stroke="#111" stroke-width="0.7"/>
<path d="M510.7 215.35Q508.3 217.95 500.6 218.85Q511.86 220.4 523.3 222.75Q515.8 219.04 510.7 215.35Z" fill="url(#lobeg4)"/><path d="M510.7 215.35Q510.41 217.14 509.81 218.43Q505.96 218.68 500.6 218.85M510.7 215.35Q511.49 217.49 512.26 219.22Q507.04 219.03 500.6 218.85M510.7 215.35Q512.51 217.82 514.59 219.96Q508.07 219.36 500.6 218.85M510.7 215.35Q513.5 218.13 516.84 220.68Q509.06 219.67 500.6 218.85M510.7 215.35Q514.47 218.44 519.03 221.38Q510.02 219.98 500.6 218.85M510.7 215.35Q515.41 218.74 521.19 222.07Q510.97 220.28 500.6 218.85" fill="none" stroke="#222" stroke-width="0.35" opacity="0.85"/><path d="M510.7 215.35Q508.3 217.95 500.6 218.85" fill="none" stroke="#111" stroke-width="0.7"/>
</g>
<path d="M525.8 222.3l2 3.4h-1.2v6.5h-1.6v-6.5h-1.2z" fill="url(#agk)"/>
<circle cx="525.8" cy="220.5" r="1.6" fill="#e8f060" opacity="0.9"/>
<circle cx="525.8" cy="220.5" r="0.8" fill="#70c040"/>
<rect x="484.9" y="188.4" width="80.6" height="63.5" fill="none" stroke="#a0a0a0" stroke-width="1"/>
<path d="M525.2 188.4v1.3M525.2 251.9v-1.3M484.9 220.15h1.3M565.5 220.15h-1.3" stroke="#444" stroke-width="0.7"/>
<g font-family="Liberation Serif" font-weight="bold">
<text x="487.8" y="199.1" font-size="9.6" text-anchor="start" fill="#000" >(k)</text>
<text x="562" y="198.98" font-size="8.3" text-anchor="end" fill="#000" >γ = + 0.087</text>
<text x="484.9" y="262.1" font-size="8.1" text-anchor="middle" fill="#000" >- 5</text>
<text x="525.2" y="262.1" font-size="8.1" text-anchor="middle" fill="#000" >0</text>
<text x="565.5" y="262.1" font-size="8.1" text-anchor="middle" fill="#000" >5</text>
<text x="525.2" y="272.1" font-size="9.1" text-anchor="middle" fill="#000" >Re (E)</text>
</g>
<g clip-path="url(#clipscl)">
<path d="M602.3 199.4Q600.6 211.1 591.7 214.45Q603 219.23 614.4 227.15Q607.13 213.36 602.3 199.4Z" fill="#f0f0f0"/><path d="M602.3 199.4Q600.77 205.15 598.8 209.01Q596 211.93 591.7 214.45" fill="none" stroke="#1e1e1e" stroke-width="0.45"/><path d="M602.3 199.4Q601.11 205.55 599.55 209.89Q596.34 212.32 591.7 214.45" fill="none" stroke="#252525" stroke-width="0.45"/><path d="M602.3 199.4Q601.58 206.09 600.59 211.1Q596.81 212.87 591.7 214.45" fill="none" stroke="#2f2f2f" stroke-width="0.45"/><path d="M602.3 199.4Q602.12 206.71 601.78 212.48Q597.35 213.49 591.7 214.45" fill="none" stroke="#3b3b3b" stroke-width="0.45"/><path d="M602.3 199.4Q602.7 207.39 603.07 213.98Q597.93 214.16 591.7 214.45" fill="none" stroke="#484848" stroke-width="0.45"/><path d="M602.3 199.4Q603.32 208.11 604.45 215.58Q598.55 214.88 591.7 214.45" fill="none" stroke="#555555" stroke-width="0.45"/><path d="M602.3 199.4Q603.97 208.86 605.89 217.26Q599.2 215.64 591.7 214.45" fill="none" stroke="#646464" stroke-width="0.45"/><path d="M602.3 199.4Q604.64 209.65 607.4 219.01Q599.87 216.43 591.7 214.45" fill="none" stroke="#737373" stroke-width="0.45"/><path d="M602.3 199.4Q605.35 210.47 608.96 220.83Q600.58 217.24 591.7 214.45" fill="none" stroke="#828282" stroke-width="0.45"/><path d="M602.3 199.4Q606.07 211.31 610.57 222.7Q601.3 218.09 591.7 214.45" fill="none" stroke="#929292" stroke-width="0.45"/><path d="M602.3 199.4Q606.82 212.18 612.23 224.63Q602.05 218.95 591.7 214.45" fill="none" stroke="#a3a3a3" stroke-width="0.45"/><path d="M602.3 199.4Q600.6 211.1 591.7 214.45" fill="none" stroke="#111" stroke-width="1.0"/>
<path d="M641.5 226.3Q632.82 229.9 631.4 242.6Q626.35 227.44 618.9 212.45Q630.29 221.08 641.5 226.3Z" fill="#f0f0f0"/><path d="M641.5 226.3Q637.32 229.03 634.64 232.18Q632.78 236.36 631.4 242.6" fill="none" stroke="#1e1e1e" stroke-width="0.45"/><path d="M641.5 226.3Q636.98 228.6 633.87 231.22Q632.43 235.93 631.4 242.6" fill="none" stroke="#252525" stroke-width="0.45"/><path d="M641.5 226.3Q636.51 228 632.82 229.9Q631.96 235.34 631.4 242.6" fill="none" stroke="#2f2f2f" stroke-width="0.45"/><path d="M641.5 226.3Q635.97 227.33 631.63 228.41Q631.42 234.66 631.4 242.6" fill="none" stroke="#3b3b3b" stroke-width="0.45"/><path d="M641.5 226.3Q635.38 226.59 630.33 226.77Q630.84 233.93 631.4 242.6" fill="none" stroke="#484848" stroke-width="0.45"/><path d="M641.5 226.3Q634.76 225.81 628.94 225.04Q630.21 233.15 631.4 242.6" fill="none" stroke="#555555" stroke-width="0.45"/><path d="M641.5 226.3Q634.1 224.99 627.48 223.21Q629.56 232.32 631.4 242.6" fill="none" stroke="#646464" stroke-width="0.45"/><path d="M641.5 226.3Q633.42 224.13 625.96 221.3Q628.87 231.47 631.4 242.6" fill="none" stroke="#737373" stroke-width="0.45"/><path d="M641.5 226.3Q632.71 223.24 624.38 219.33Q628.16 230.58 631.4 242.6" fill="none" stroke="#828282" stroke-width="0.45"/><path d="M641.5 226.3Q631.98 222.33 622.76 217.29Q627.43 229.66 631.4 242.6" fill="none" stroke="#929292" stroke-width="0.45"/><path d="M641.5 226.3Q631.22 221.38 621.09 215.19Q626.68 228.72 631.4 242.6" fill="none" stroke="#a3a3a3" stroke-width="0.45"/><path d="M641.5 226.3Q632.82 229.9 631.4 242.6" fill="none" stroke="#111" stroke-width="1.0"/>
<path d="M617.8 207.85Q613.7 209.65 609 208.55M620.8 229.15Q616.2 228.65 615.6 230.75" fill="none" stroke="#555" stroke-width="0.5"/>
<path d="M620.1 213.05L621.5 218.15M612.7 220.45L614.2 226.35M615.6 230.75L614.9 238.15M617.8 207.85L618.2 203.15" fill="none" stroke="#555" stroke-width="0.6" stroke-dasharray="0.6 1"/>
</g>
<path d="M615.6 236.8l2 3.4h-1.2v6.5h-1.6v-6.5h-1.2z" fill="url(#agl)"/>
<circle cx="615.6" cy="235" r="1.6" fill="#e8f060" opacity="0.9"/>
<circle cx="615.6" cy="235" r="0.8" fill="#70c040"/>
<rect x="576.4" y="188.4" width="80.6" height="63.5" fill="none" stroke="#a0a0a0" stroke-width="1"/>
<path d="M616.7 188.4v1.3M616.7 251.9v-1.3M576.4 220.15h1.3M657 220.15h-1.3" stroke="#444" stroke-width="0.7"/>
<g font-family="Liberation Serif" font-weight="bold">
<text x="579.3" y="199.1" font-size="9.6" text-anchor="start" fill="#000" >(l)</text>
<text x="653.5" y="198.98" font-size="8.3" text-anchor="end" fill="#000" >γ = + 0.350</text>
<text x="576.4" y="262.1" font-size="8.1" text-anchor="middle" fill="#000" >- 5</text>
<text x="616.7" y="262.1" font-size="8.1" text-anchor="middle" fill="#000" >0</text>
<text x="657" y="262.1" font-size="8.1" text-anchor="middle" fill="#000" >5</text>
<text x="616.7" y="272.1" font-size="9.1" text-anchor="middle" fill="#000" >Re (E)</text>
</g>
<g font-family="Liberation Serif" font-weight="bold" font-size="9.4" text-anchor="middle">
<text x="250.7" y="7.9"><tspan font-style="italic">PT</tspan>-asymmetric</text>
<text x="250.7" y="18.5">Corner Mode</text>
<text x="342.2" y="12.9">Corner Mode</text>
<text x="433.7" y="12.9">Edge Mode</text>
<text x="525.2" y="12.9">Corner Mode</text>
<text x="616.7" y="7.9"><tspan font-style="italic">PT</tspan>-asymmetric</text>
<text x="616.7" y="18.5">Corner Mode</text>
</g>
<path d="M238.3 131 L286.6 131 L258.6 169.2 L210.3 169.2Z" fill="url(#hexpat)"/>
<path d="M220.33 156.13h1.3M211.48 168.19h1.3M226.91 156.13h1.3M218.07 168.19h1.3M220.27 168.19h1.3M225.03 166.18h1.3M238.58 164.17h1.3M248.49 158.14h1.3M245.92 160.15h1.3M248.12 160.15h1.3M250.31 160.15h1.3M244.42 168.19h1.3M256.9 160.15h1.3M261.66 158.14h1.3" stroke="#8a0e06" stroke-width="1.3"/>
<path d="M217 162.16h1.3M224.72 156.13h1.3M226.54 158.14h1.3M223.97 160.15h1.3M233.88 154.12h1.3M233.5 156.13h1.3M238.27 154.12h1.3M244.48 156.13h1.3M244.1 158.14h1.3M252.51 160.15h1.3M259.47 158.14h1.3M269.38 152.11h1.3" stroke="#6c0804" stroke-width="1.3"/>
<path d="M214.43 164.17h1.3M230.93 158.14h1.3M231.62 166.18h1.3M234.19 164.17h1.3M236.39 164.17h1.3M246.61 168.19h1.3M253.57 166.18h1.3M251 168.19h1.3M259.09 160.15h1.3M266.81 154.12h1.3M264.24 156.13h1.3M263.86 158.14h1.3M258.34 164.17h1.3M263.48 160.15h1.3M263.11 162.16h1.3" stroke="#c61b09" stroke-width="1.3"/>
<path d="M214.06 166.18h1.3M223.21 164.17h1.3M227.98 162.16h1.3M222.46 168.19h1.3M237.14 160.15h1.3M238.21 166.18h1.3M240.78 164.17h1.3M242.97 164.17h1.3" stroke="#da2d0c" stroke-width="1.3"/>
<path d="M213.68 168.19h1.3M229.05 168.19h1.3M236.01 166.18h1.3M242.6 166.18h1.3M248.81 168.19h1.3M256.15 164.17h1.3" stroke="#f78c1e" stroke-width="1.3"/>
<path d="M221.39 162.16h1.3M218.82 164.17h1.3M224.66 168.19h1.3M229.42 166.18h1.3M231.24 168.19h1.3M241.53 160.15h1.3M237.83 168.19h1.3M244.79 166.18h1.3M255.08 158.14h1.3M252.13 162.16h1.3M253.95 164.17h1.3M258.72 162.16h1.3M266.43 156.13h1.3" stroke="#a81407" stroke-width="1.3"/>
<path d="M231.68 154.12h1.3M228.73 158.14h1.3" stroke="#4f0503" stroke-width="1.3"/>
<path d="M222.84 166.18h1.3M227.6 164.17h1.3M227.23 166.18h1.3M260.54 164.17h1.3" stroke="#f56215" stroke-width="1.3"/>
<path d="M233.82 166.18h1.3M233.44 168.19h1.3" stroke="#f9b526" stroke-width="1.3"/>
<path d="M241.15 162.16h1.3M243.35 162.16h1.3M240.4 166.18h1.3M242.22 168.19h1.3M247.36 164.17h1.3M255.77 166.18h1.3M257.97 166.18h1.3" stroke="#e94610" stroke-width="1.3"/>
<path d="M235.63 168.19h1.3M253.2 168.19h1.3M255.39 168.19h1.3M260.16 166.18h1.3" stroke="#faf564" stroke-width="1.3"/>
<path d="M235.5 142.6 L235.77 142.4 L236.16 142.11 L236.6 141.79 L237.07 141.5 L237.5 141.3 L237.9 141.18 L238.29 141.1 L238.68 141.08 L239.08 141.14 L239.5 141.3 L239.91 141.5 L240.29 141.72 L240.71 142.06 L241.19 142.62 L241.8 143.5 L242.57 144.82 L243.48 146.51 L244.44 148.39 L245.41 150.28 L246.3 152 L247.17 153.59 L248.06 155.18 L248.9 156.68 L249.61 158.05 L250.1 159.2 L250.36 160.09 L250.45 160.77 L250.38 161.3 L250.19 161.76 L249.9 162.2 L249.49 162.62 L248.93 162.97 L248.27 163.27 L247.55 163.54 L246.8 163.8 L245.93 164.05 L244.92 164.29 L243.91 164.5 L243.02 164.67 L242.4 164.8" fill="none" stroke="#3cc0b8" stroke-width="0.9" stroke-linejoin="round"/>
<circle cx="242.4" cy="164" r="3.8" fill="url(#glow)"/>
<line x1="282.2" y1="125.4" x2="245" y2="125.4" stroke="#111" stroke-width="1.0" stroke-dasharray="0.9 0.85"/><path d="M241.8 125.4L245 124.1L245 126.7Z" fill="#111"/>
<line x1="231" y1="130.2" x2="209.29" y2="159.92" stroke="#111" stroke-width="1.1"/><path d="M207.4 162.5L208.24 159.15L210.34 160.68Z" fill="#111"/>
<line x1="264" y1="170" x2="285.32" y2="140.69" stroke="#111" stroke-width="1.0" stroke-dasharray="0.9 0.85"/><path d="M287.2 138.1L286.37 141.45L284.27 139.92Z" fill="#111"/>
<line x1="215.1" y1="174.5" x2="251.5" y2="174.5" stroke="#111" stroke-width="1.1"/><path d="M254.7 174.5L251.5 175.8L251.5 173.2Z" fill="#111"/>
<path d="M329.8 131 L378.1 131 L350.1 169.2 L301.8 169.2Z" fill="url(#hexpat)"/>
<path d="M305.56 166.18h1.3M317.29 162.16h1.3M316.53 166.18h1.3M333.03 160.15h1.3M338.17 156.13h1.3M347.33 154.12h1.3M364.95 142.06h1.3M362.01 146.08h1.3M359.44 148.09h1.3M370.1 138.04h1.3M361.25 150.1h1.3" stroke="#6c0804" stroke-width="1.3"/>
<path d="M302.98 168.19h1.3M305.18 168.19h1.3M316.16 168.19h1.3M322.74 168.19h1.3M337.04 162.16h1.3M342.19 158.14h1.3M353.92 154.12h1.3M348.4 160.15h1.3M371.22 132.01h1.3M370.85 134.02h1.3M359.06 150.1h1.3M356.49 152.11h1.3M356.11 154.12h1.3M353.16 158.14h1.3M375.24 134.02h1.3M366.77 144.07h1.3" stroke="#8a0e06" stroke-width="1.3"/>
<path d="M314.71 164.17h1.3M319.1 164.17h1.3M330.83 160.15h1.3M335.6 158.14h1.3M365.33 140.05h1.3" stroke="#4f0503" stroke-width="1.3"/>
<path d="M311.77 168.19h1.3M340.68 166.18h1.3M345.83 162.16h1.3M345.45 164.17h1.3M347.65 164.17h1.3M352.79 160.15h1.3" stroke="#e94610" stroke-width="1.3"/>
<path d="M318.35 168.19h1.3M320.55 168.19h1.3M327.13 168.19h1.3M339.99 158.14h1.3M331.53 168.19h1.3M344.38 158.14h1.3M344.01 160.15h1.3M341.06 164.17h1.3M351.72 154.12h1.3M364.2 146.08h1.3M355.74 156.13h1.3M360.5 154.12h1.3" stroke="#a81407" stroke-width="1.3"/>
<path d="M327.51 166.18h1.3M331.9 166.18h1.3M341.44 162.16h1.3M352.41 162.16h1.3M349.09 168.19h1.3" stroke="#f56215" stroke-width="1.3"/>
<path d="M324.94 168.19h1.3M354.61 162.16h1.3" stroke="#da2d0c" stroke-width="1.3"/>
<path d="M329.71 166.18h1.3M334.1 166.18h1.3M333.72 168.19h1.3M338.86 164.17h1.3" stroke="#f78c1e" stroke-width="1.3"/>
<path d="M334.47 164.17h1.3M373.42 132.01h1.3M354.98 160.15h1.3" stroke="#c61b09" stroke-width="1.3"/>
<path d="M335.92 168.19h1.3M338.11 168.19h1.3M343.25 164.17h1.3M345.07 166.18h1.3M342.5 168.19h1.3M350.22 162.16h1.3M347.27 166.18h1.3M344.7 168.19h1.3M349.47 166.18h1.3M357.56 158.14h1.3M352.04 164.17h1.3M351.66 166.18h1.3" stroke="#faf564" stroke-width="1.3"/>
<path d="M350.59 160.15h1.3M346.89 168.19h1.3M363.45 150.1h1.3" stroke="#f9b526" stroke-width="1.3"/>
<path d="M349.84 164.17h1.3M357.93 156.13h1.3" stroke="#fad642" stroke-width="1.3"/>
<path d="M327 142.6 L327.27 142.4 L327.66 142.11 L328.1 141.79 L328.57 141.5 L329 141.3 L329.4 141.18 L329.79 141.1 L330.18 141.08 L330.58 141.14 L331 141.3 L331.41 141.5 L331.79 141.72 L332.21 142.06 L332.69 142.62 L333.3 143.5 L334.07 144.82 L334.98 146.51 L335.94 148.39 L336.91 150.28 L337.8 152 L338.67 153.59 L339.56 155.18 L340.4 156.68 L341.11 158.05 L341.6 159.2 L341.86 160.09 L341.95 160.77 L341.88 161.3 L341.69 161.76 L341.4 162.2 L340.99 162.62 L340.43 162.97 L339.77 163.27 L339.05 163.54 L338.3 163.8 L337.43 164.05 L336.42 164.29 L335.41 164.5 L334.52 164.67 L333.9 164.8" fill="none" stroke="#3cc0b8" stroke-width="0.9" stroke-linejoin="round"/>
<circle cx="341.8" cy="161.4" r="3.8" fill="url(#glow)"/>
<line x1="373.7" y1="125.4" x2="336.5" y2="125.4" stroke="#111" stroke-width="1.0" stroke-dasharray="0.9 0.85"/><path d="M333.3 125.4L336.5 124.1L336.5 126.7Z" fill="#111"/>
<line x1="322.5" y1="130.2" x2="300.79" y2="159.92" stroke="#111" stroke-width="1.1"/><path d="M298.9 162.5L299.74 159.15L301.84 160.68Z" fill="#111"/>
<line x1="355.5" y1="170" x2="376.82" y2="140.69" stroke="#111" stroke-width="1.0" stroke-dasharray="0.9 0.85"/><path d="M378.7 138.1L377.87 141.45L375.77 139.92Z" fill="#111"/>
<line x1="306.6" y1="174.5" x2="343" y2="174.5" stroke="#111" stroke-width="1.1"/><path d="M346.2 174.5L343 175.8L343 173.2Z" fill="#111"/>
<path d="M421.3 131 L469.6 131 L441.6 169.2 L393.3 169.2Z" fill="url(#hexpat)"/>
<path d="M420.63 134.02h1.3M411.42 148.09h1.3M408.09 154.12h1.3M405.15 158.14h1.3M424.27 138.04h1.3M418.76 144.07h1.3M406.97 160.15h1.3M401.07 168.19h1.3M411.73 158.14h1.3M405.46 168.19h1.3M434.18 132.01h1.3M433.06 138.04h1.3M409.85 168.19h1.3M421.96 162.16h1.3M423.4 166.18h1.3M420.83 168.19h1.3M425.6 166.18h1.3M455.76 134.02h1.3M452.81 138.04h1.3M455.01 138.04h1.3M450.56 150.1h1.3M443.91 162.16h1.3M441.34 164.17h1.3M464.17 136.03h1.3" stroke="#da2d0c" stroke-width="1.3"/>
<path d="M418.06 136.03h1.3M406.27 152.11h1.3M417.31 140.05h1.3M413.61 148.09h1.3M412.86 152.11h1.3M405.84 166.18h1.3M431.61 134.02h1.3M429.04 136.03h1.3M433.43 136.03h1.3M412.8 164.17h1.3M451.75 132.01h1.3M427.79 166.18h1.3M453.57 134.02h1.3M427.42 168.19h1.3M434.75 164.17h1.3M457.58 136.03h1.3M448.36 150.1h1.3M436.95 164.17h1.3M459.03 140.05h1.3M458.27 144.07h1.3" stroke="#f78c1e" stroke-width="1.3"/>
<path d="M415.12 140.05h1.3M411.79 146.08h1.3M409.22 148.09h1.3M402.95 158.14h1.3M425.03 134.02h1.3M407.34 158.14h1.3M406.21 164.17h1.3M447.36 132.01h1.3M446.98 134.02h1.3M444.41 136.03h1.3M459.78 136.03h1.3M452.75 150.1h1.3M449.81 154.12h1.3" stroke="#fad642" stroke-width="1.3"/>
<path d="M414.74 142.06h1.3M405.52 156.13h1.3M422.08 138.04h1.3M404.39 162.16h1.3M398.88 168.19h1.3M424.65 136.03h1.3M436 134.02h1.3M412.05 168.19h1.3M426.35 162.16h1.3M423.03 168.19h1.3M432.94 162.16h1.3M429.99 166.18h1.3M429.61 168.19h1.3M445.79 152.11h1.3M453.51 146.08h1.3M456.08 144.07h1.3M440.97 166.18h1.3M463.79 138.04h1.3M460.84 142.06h1.3M455.33 148.09h1.3" stroke="#f56215" stroke-width="1.3"/>
<path d="M412.17 144.07h1.3M408.47 152.11h1.3M413.24 150.1h1.3M401.45 166.18h1.3M404.02 164.17h1.3M426.47 138.04h1.3M407.66 168.19h1.3M415.37 162.16h1.3M419.39 164.17h1.3M444.78 134.02h1.3M441.84 138.04h1.3M421.58 164.17h1.3M448.8 136.03h1.3M446.17 150.1h1.3M454.63 140.05h1.3M454.26 142.06h1.3M448.74 148.09h1.3M461.97 136.03h1.3M461.6 138.04h1.3M458.65 142.06h1.3" stroke="#e94610" stroke-width="1.3"/>
<path d="M408.85 150.1h1.3M405.9 154.12h1.3M400.38 160.15h1.3M422.83 134.02h1.3M402.2 162.16h1.3M419.13 142.06h1.3M416.56 144.07h1.3M410.66 152.11h1.3M410.29 154.12h1.3M407.72 156.13h1.3M404.77 160.15h1.3M418.38 146.08h1.3M418 148.09h1.3M410.98 162.16h1.3M410.6 164.17h1.3M438.2 134.02h1.3M440.39 134.02h1.3M414.24 168.19h1.3M442.97 132.01h1.3M440.02 136.03h1.3M442.21 136.03h1.3M451.37 134.02h1.3M451 136.03h1.3M435.51 160.15h1.3M452.06 142.06h1.3M443.22 154.12h1.3M437.7 160.15h1.3M451.69 144.07h1.3M451.31 146.08h1.3M462.35 134.02h1.3M453.88 144.07h1.3M450.94 148.09h1.3M447.99 152.11h1.3M442.09 160.15h1.3M464.54 134.02h1.3M447.24 156.13h1.3M440.59 168.19h1.3" stroke="#a81407" stroke-width="1.3"/>
<path d="M403.33 156.13h1.3M394.48 168.19h1.3M416.94 142.06h1.3M411.04 150.1h1.3M421.7 140.05h1.3M409.91 156.13h1.3M429.79 132.01h1.3M426.85 136.03h1.3M415.06 152.11h1.3M403.27 168.19h1.3M408.41 164.17h1.3M431.24 136.03h1.3M415.75 160.15h1.3M438.57 132.01h1.3M440.77 132.01h1.3M437.82 136.03h1.3M420.14 160.15h1.3M437.07 140.05h1.3M416.44 168.19h1.3M421.21 166.18h1.3M425.22 168.19h1.3M433.31 160.15h1.3M456.14 132.01h1.3M446.92 146.08h1.3M438.08 158.14h1.3M432.18 166.18h1.3M460.53 132.01h1.3M460.15 134.02h1.3M436.57 166.18h1.3M445.04 156.13h1.3M444.29 160.15h1.3M467.12 132.01h1.3M457.9 146.08h1.3M454.95 150.1h1.3M446.11 162.16h1.3" stroke="#c61b09" stroke-width="1.3"/>
<path d="M423.21 132.01h1.3M419.88 138.04h1.3M396.68 168.19h1.3M425.4 132.01h1.3M422.45 136.03h1.3M431.99 132.01h1.3M418.63 168.19h1.3M447.61 154.12h1.3M444.66 158.14h1.3M438.39 168.19h1.3M466.74 134.02h1.3M452.38 152.11h1.3" stroke="#faf564" stroke-width="1.3"/>
<path d="M420.26 136.03h1.3M427.22 134.02h1.3M403.64 166.18h1.3M410.23 166.18h1.3M435.63 136.03h1.3M446.6 136.03h1.3M458.33 132.01h1.3M431.81 168.19h1.3M462.72 132.01h1.3M456.45 142.06h1.3M439.15 164.17h1.3M449.43 156.13h1.3" stroke="#f9b526" stroke-width="1.3"/>
<path d="M416.18 146.08h1.3M406.59 162.16h1.3M428.66 138.04h1.3M425.72 142.06h1.3M413.18 162.16h1.3M434.88 140.05h1.3M422.33 160.15h1.3M426.72 160.15h1.3M449.87 142.06h1.3M437.33 162.16h1.3M457.21 138.04h1.3" stroke="#8a0e06" stroke-width="1.3"/>
<path d="M422.77 146.08h1.3M417.25 152.11h1.3" stroke="#4f0503" stroke-width="1.3"/>
<path d="M416.88 154.12h1.3M411.36 160.15h1.3M432.68 140.05h1.3M422.71 158.14h1.3M441.09 142.06h1.3M428.92 160.15h1.3M444.72 146.08h1.3M441.4 152.11h1.3M449.49 144.07h1.3" stroke="#6c0804" stroke-width="1.3"/>
<path d="M418.5 142.6 L418.77 142.4 L419.16 142.11 L419.6 141.79 L420.07 141.5 L420.5 141.3 L420.9 141.18 L421.29 141.1 L421.68 141.08 L422.08 141.14 L422.5 141.3 L422.91 141.5 L423.29 141.72 L423.71 142.06 L424.19 142.62 L424.8 143.5 L425.57 144.82 L426.48 146.51 L427.44 148.39 L428.41 150.28 L429.3 152 L430.17 153.59 L431.06 155.18 L431.9 156.68 L432.61 158.05 L433.1 159.2 L433.36 160.09 L433.45 160.77 L433.38 161.3 L433.19 161.76 L432.9 162.2 L432.49 162.62 L431.93 162.97 L431.27 163.27 L430.55 163.54 L429.8 163.8 L428.93 164.05 L427.92 164.29 L426.91 164.5 L426.02 164.67 L425.4 164.8" fill="none" stroke="#3cc0b8" stroke-width="0.9" stroke-linejoin="round"/>
<circle cx="428.6" cy="150.2" r="3.0" fill="url(#glow)"/>
<path d="M512.8 131 L561.1 131 L533.1 169.2 L484.8 169.2Z" fill="url(#hexpat)"/>
<path d="M512.51 132.01h1.3M509.19 138.04h1.3M511.38 138.04h1.3" stroke="#faf564" stroke-width="1.3"/>
<path d="M512.13 134.02h1.3M513.95 136.03h1.3M523.11 134.02h1.3" stroke="#e94610" stroke-width="1.3"/>
<path d="M506.62 140.05h1.3M511.76 136.03h1.3" stroke="#f9b526" stroke-width="1.3"/>
<path d="M503.67 144.07h1.3M505.49 146.08h1.3M512.83 142.06h1.3M520.16 138.04h1.3M525.31 134.02h1.3M522.74 136.03h1.3M519.41 142.06h1.3M521.23 144.07h1.3M529.32 136.03h1.3" stroke="#8a0e06" stroke-width="1.3"/>
<path d="M500.72 148.09h1.3M516.53 134.02h1.3M518.72 134.02h1.3M510.26 144.07h1.3M521.29 132.01h1.3M525.68 132.01h1.3M527.88 132.01h1.3M531.89 134.02h1.3" stroke="#a81407" stroke-width="1.3"/>
<path d="M514.71 132.01h1.3M505.86 144.07h1.3M517.22 142.06h1.3M519.79 140.05h1.3" stroke="#c61b09" stroke-width="1.3"/>
<path d="M508.81 140.05h1.3M511.01 140.05h1.3M520.54 136.03h1.3" stroke="#f78c1e" stroke-width="1.3"/>
<path d="M513.58 138.04h1.3" stroke="#f56215" stroke-width="1.3"/>
<path d="M518.35 136.03h1.3M515.4 140.05h1.3M517.59 140.05h1.3" stroke="#da2d0c" stroke-width="1.3"/>
<path d="M515.02 142.06h1.3M514.65 144.07h1.3M521.61 142.06h1.3M518.66 146.08h1.3M530.07 132.01h1.3M532.27 132.01h1.3" stroke="#6c0804" stroke-width="1.3"/>
<path d="M526.75 138.04h1.3" stroke="#4f0503" stroke-width="1.3"/>
<path d="M510 142.6 L510.27 142.4 L510.66 142.11 L511.1 141.79 L511.57 141.5 L512 141.3 L512.4 141.18 L512.79 141.1 L513.18 141.08 L513.58 141.14 L514 141.3 L514.41 141.5 L514.79 141.72 L515.21 142.06 L515.69 142.62 L516.3 143.5 L517.07 144.82 L517.98 146.51 L518.94 148.39 L519.91 150.28 L520.8 152 L521.67 153.59 L522.56 155.18 L523.4 156.68 L524.11 158.05 L524.6 159.2 L524.86 160.09 L524.95 160.77 L524.88 161.3 L524.69 161.76 L524.4 162.2 L523.99 162.62 L523.43 162.97 L522.77 163.27 L522.05 163.54 L521.3 163.8 L520.43 164.05 L519.42 164.29 L518.41 164.5 L517.52 164.67 L516.9 164.8" fill="none" stroke="#3cc0b8" stroke-width="0.9" stroke-linejoin="round"/>
<circle cx="514.1" cy="141.3" r="3.8" fill="url(#glow)"/>
<line x1="553.7" y1="126.1" x2="518.3" y2="126.1" stroke="#111" stroke-width="1.1"/><path d="M515.1 126.1L518.3 124.8L518.3 127.4Z" fill="#111"/>
<line x1="505.8" y1="130.4" x2="483.64" y2="159.55" stroke="#111" stroke-width="1.0" stroke-dasharray="0.9 0.85"/><path d="M481.7 162.1L482.6 158.77L484.67 160.34Z" fill="#111"/>
<line x1="538.5" y1="170.4" x2="559.63" y2="141.1" stroke="#111" stroke-width="1.1"/><path d="M561.5 138.5L560.68 141.86L558.57 140.34Z" fill="#111"/>
<line x1="487.5" y1="175.6" x2="524.7" y2="175.6" stroke="#111" stroke-width="1.0" stroke-dasharray="0.9 0.85"/><path d="M527.9 175.6L524.7 176.9L524.7 174.3Z" fill="#111"/>
<path d="M604.3 131 L652.6 131 L624.6 169.2 L576.3 169.2Z" fill="url(#hexpat)"/>
<path d="M604.01 132.01h1.3M603.63 134.02h1.3M605.45 136.03h1.3M610.22 134.02h1.3M604.7 140.05h1.3M606.9 140.05h1.3M609.09 140.05h1.3M611.29 140.05h1.3M610.91 142.06h1.3" stroke="#a81407" stroke-width="1.3"/>
<path d="M601.06 136.03h1.3M599.18 146.08h1.3" stroke="#e94610" stroke-width="1.3"/>
<path d="M600.69 138.04h1.3M597.74 142.06h1.3M591.47 152.11h1.3M612.79 132.01h1.3M600.63 150.1h1.3M606.15 144.07h1.3" stroke="#c61b09" stroke-width="1.3"/>
<path d="M595.17 144.07h1.3M603.26 136.03h1.3M602.13 142.06h1.3" stroke="#faf564" stroke-width="1.3"/>
<path d="M591.85 150.1h1.3M589.27 152.11h1.3" stroke="#8a0e06" stroke-width="1.3"/>
<path d="M588.9 154.12h1.3M617.18 132.01h1.3M610.54 144.07h1.3" stroke="#6c0804" stroke-width="1.3"/>
<path d="M606.21 132.01h1.3" stroke="#fad642" stroke-width="1.3"/>
<path d="M605.83 134.02h1.3M601.76 144.07h1.3M598.81 148.09h1.3" stroke="#da2d0c" stroke-width="1.3"/>
<path d="M602.88 138.04h1.3M599.94 142.06h1.3M599.56 144.07h1.3M607.27 138.04h1.3M603.95 144.07h1.3" stroke="#f56215" stroke-width="1.3"/>
<path d="M602.51 140.05h1.3M604.33 142.06h1.3" stroke="#f78c1e" stroke-width="1.3"/>
<path d="M601.5 142.6 L601.77 142.4 L602.16 142.11 L602.6 141.79 L603.07 141.5 L603.5 141.3 L603.9 141.18 L604.29 141.1 L604.68 141.08 L605.08 141.14 L605.5 141.3 L605.91 141.5 L606.29 141.72 L606.71 142.06 L607.19 142.62 L607.8 143.5 L608.57 144.82 L609.48 146.51 L610.44 148.39 L611.41 150.28 L612.3 152 L613.17 153.59 L614.06 155.18 L614.9 156.68 L615.61 158.05 L616.1 159.2 L616.36 160.09 L616.45 160.77 L616.38 161.3 L616.19 161.76 L615.9 162.2 L615.49 162.62 L614.93 162.97 L614.27 163.27 L613.55 163.54 L612.8 163.8 L611.93 164.05 L610.92 164.29 L609.91 164.5 L609.02 164.67 L608.4 164.8" fill="none" stroke="#3cc0b8" stroke-width="0.9" stroke-linejoin="round"/>
<circle cx="601.5" cy="142.6" r="3.8" fill="url(#glow)"/>
<line x1="645.2" y1="126.1" x2="609.8" y2="126.1" stroke="#111" stroke-width="1.1"/><path d="M606.6 126.1L609.8 124.8L609.8 127.4Z" fill="#111"/>
<line x1="597.3" y1="130.4" x2="575.14" y2="159.55" stroke="#111" stroke-width="1.0" stroke-dasharray="0.9 0.85"/><path d="M573.2 162.1L574.1 158.77L576.17 160.34Z" fill="#111"/>
<line x1="630" y1="170.4" x2="651.13" y2="141.1" stroke="#111" stroke-width="1.1"/><path d="M653 138.5L652.18 141.86L650.07 140.34Z" fill="#111"/>
<line x1="579" y1="175.6" x2="616.2" y2="175.6" stroke="#111" stroke-width="1.0" stroke-dasharray="0.9 0.85"/><path d="M619.4 175.6L616.2 176.9L616.2 174.3Z" fill="#111"/>
<path d="M238.3 290.5 L286.6 290.5 L258.6 328.7 L210.3 328.7Z" fill="url(#hexpat)"/>
<path d="M220.4 315.63h1.15M233.95 313.62h1.15M238.34 313.62h1.15M255.9 313.62h1.15M258.1 313.62h1.15M262.49 313.62h1.15" stroke="#4f0503" stroke-width="1.15"/>
<path d="M220.03 317.64h1.15M222.6 315.63h1.15M224.79 315.63h1.15M229.18 315.63h1.15M231.38 315.63h1.15M233.57 315.63h1.15M235.77 315.63h1.15M237.97 315.63h1.15M242.73 313.62h1.15M240.16 315.63h1.15M244.93 313.62h1.15M242.36 315.63h1.15M249.32 313.62h1.15M253.71 313.62h1.15M253.33 315.63h1.15M255.53 315.63h1.15M260.3 313.62h1.15M259.92 315.63h1.15M261.74 317.64h1.15M264.31 315.63h1.15M266.51 315.63h1.15M266.13 317.64h1.15" stroke="#6c0804" stroke-width="1.15"/>
<path d="M217.45 319.65h1.15M217.08 321.66h1.15M222.22 317.64h1.15M219.65 319.65h1.15M221.85 319.65h1.15M223.66 321.66h1.15M226.24 319.65h1.15M231 317.64h1.15M235.39 317.64h1.15M244.55 315.63h1.15M244.18 317.64h1.15M246.75 315.63h1.15M248.94 315.63h1.15M248.57 317.64h1.15M250.76 317.64h1.15M252.96 317.64h1.15M259.17 319.65h1.15M263.93 317.64h1.15M261.36 319.65h1.15M260.99 321.66h1.15M263.56 319.65h1.15" stroke="#8a0e06" stroke-width="1.15"/>
<path d="M214.51 323.67h1.15M216.33 325.68h1.15M221.47 321.66h1.15M218.9 323.67h1.15M228.43 319.65h1.15M228.06 321.66h1.15M230.63 319.65h1.15M232.82 319.65h1.15M232.45 321.66h1.15M237.59 317.64h1.15M237.21 319.65h1.15M241.98 317.64h1.15M239.41 319.65h1.15M246 319.65h1.15M255.15 317.64h1.15M258.79 321.66h1.15M258.42 323.67h1.15M263.18 321.66h1.15M260.61 323.67h1.15" stroke="#a81407" stroke-width="1.15"/>
<path d="M214.13 325.68h1.15M218.15 327.69h1.15M230.25 321.66h1.15M227.68 323.67h1.15M241.23 321.66h1.15M247.81 321.66h1.15M250.01 321.66h1.15M249.63 323.67h1.15M251.45 325.68h1.15M253.65 325.68h1.15" stroke="#da2d0c" stroke-width="1.15"/>
<path d="M211.56 327.69h1.15M213.76 327.69h1.15M215.95 327.69h1.15M220.34 327.69h1.15M222.54 327.69h1.15M227.3 325.68h1.15M233.89 325.68h1.15M239.03 321.66h1.15M238.66 323.67h1.15M243.42 321.66h1.15M240.48 325.68h1.15M245.62 321.66h1.15M245.24 323.67h1.15M251.08 327.69h1.15M255.47 327.69h1.15M257.66 327.69h1.15" stroke="#e94610" stroke-width="1.15"/>
<path d="M216.7 323.67h1.15M218.52 325.68h1.15M220.72 325.68h1.15M223.29 323.67h1.15M225.48 323.67h1.15M236.84 321.66h1.15M241.6 319.65h1.15M250.39 319.65h1.15M252.58 319.65h1.15M252.21 321.66h1.15M251.83 323.67h1.15M256.6 321.66h1.15M256.22 323.67h1.15M255.84 325.68h1.15M258.04 325.68h1.15" stroke="#c61b09" stroke-width="1.15"/>
<path d="M222.91 325.68h1.15M225.11 325.68h1.15M229.88 323.67h1.15M232.07 323.67h1.15M234.27 323.67h1.15M236.46 323.67h1.15M240.85 323.67h1.15M244.87 325.68h1.15M247.44 323.67h1.15M247.06 325.68h1.15M249.26 325.68h1.15" stroke="#f56215" stroke-width="1.15"/>
<path d="M224.73 327.69h1.15M226.93 327.69h1.15M237.91 327.69h1.15M244.49 327.69h1.15M248.88 327.69h1.15" stroke="#f9b526" stroke-width="1.15"/>
<path d="M229.5 325.68h1.15M231.69 325.68h1.15M229.12 327.69h1.15M236.09 325.68h1.15M238.28 325.68h1.15M243.05 323.67h1.15M242.67 325.68h1.15M240.1 327.69h1.15M246.69 327.69h1.15M253.27 327.69h1.15" stroke="#f78c1e" stroke-width="1.15"/>
<path d="M231.32 327.69h1.15M233.51 327.69h1.15M235.71 327.69h1.15" stroke="#fad642" stroke-width="1.15"/>
<path d="M242.3 327.69h1.15" stroke="#faf564" stroke-width="1.15"/>
<path d="M234.3 303.5 L234.64 302.99 L235.12 302.26 L235.68 301.43 L236.26 300.63 L236.8 300 L237.28 299.51 L237.75 299.06 L238.23 298.71 L238.74 298.48 L239.3 298.4 L239.96 298.51 L240.7 298.78 L241.46 299.18 L242.18 299.63 L242.8 300.1 L243.26 300.52 L243.61 300.93 L243.93 301.42 L244.3 302.07 L244.8 303 L245.47 304.26 L246.26 305.78 L247.1 307.48 L247.97 309.25 L248.8 311 L249.67 312.83 L250.62 314.82 L251.52 316.78 L252.29 318.57 L252.8 320 L253.03 321.02 L253.04 321.73 L252.9 322.23 L252.63 322.62 L252.3 323 L251.88 323.34 L251.35 323.57 L250.73 323.73 L250.04 323.86 L249.3 324 L248.42 324.14 L247.39 324.26 L246.35 324.36 L245.44 324.44 L244.8 324.5" fill="none" stroke="#3cc0b8" stroke-width="0.9" stroke-linejoin="round"/>
<circle cx="244.2" cy="324.2" r="3.3" fill="url(#glow)"/>
<line x1="282.2" y1="284.9" x2="245" y2="284.9" stroke="#111" stroke-width="1.0" stroke-dasharray="0.9 0.85"/><path d="M241.8 284.9L245 283.6L245 286.2Z" fill="#111"/>
<line x1="231" y1="289.7" x2="209.29" y2="319.42" stroke="#111" stroke-width="1.1"/><path d="M207.4 322L208.24 318.65L210.34 320.18Z" fill="#111"/>
<line x1="264" y1="329.5" x2="285.32" y2="300.19" stroke="#111" stroke-width="1.0" stroke-dasharray="0.9 0.85"/><path d="M287.2 297.6L286.37 300.95L284.27 299.42Z" fill="#111"/>
<line x1="215.1" y1="334" x2="251.5" y2="334" stroke="#111" stroke-width="1.1"/><path d="M254.7 334L251.5 335.3L251.5 332.7Z" fill="#111"/>
<path d="M329.8 290.5 L378.1 290.5 L350.1 328.7 L301.8 328.7Z" fill="url(#hexpat)"/>
<path d="M308.58 321.66h1.15M310.77 321.66h1.15M315.16 321.66h1.15M319.56 321.66h1.15M326.14 321.66h1.15M332.73 321.66h1.15M334.92 321.66h1.15M345.9 321.66h1.15M353.99 313.62h1.15M351.04 317.64h1.15M367.98 297.54h1.15M365.4 299.55h1.15M362.46 303.57h1.15M356.56 311.61h1.15M353.62 315.63h1.15M373.49 291.51h1.15" stroke="#6c0804" stroke-width="1.15"/>
<path d="M306.01 323.67h1.15M310.4 323.67h1.15M316.98 323.67h1.15M319.18 323.67h1.15M330.16 323.67h1.15M337.12 321.66h1.15M339.31 321.66h1.15M343.71 321.66h1.15M348.1 321.66h1.15M359.13 309.6h1.15M356.19 313.62h1.15M350.67 319.65h1.15M373.12 293.52h1.15M370.17 297.54h1.15M367.6 299.55h1.15M367.22 301.56h1.15M364.65 303.57h1.15M375.69 291.51h1.15M372.74 295.53h1.15M372.37 297.54h1.15M369.42 301.56h1.15" stroke="#8a0e06" stroke-width="1.15"/>
<path d="M303.06 327.69h1.15M316.23 327.69h1.15M322.82 327.69h1.15M331.98 325.68h1.15M329.41 327.69h1.15M331.6 327.69h1.15M340.76 325.68h1.15M345.15 325.68h1.15M352.49 321.66h1.15M355.06 319.65h1.15" stroke="#e94610" stroke-width="1.15"/>
<path d="M307.83 325.68h1.15M305.26 327.69h1.15M307.45 327.69h1.15M309.65 327.69h1.15M314.04 327.69h1.15M318.8 325.68h1.15M323.19 325.68h1.15M327.21 327.69h1.15M343.33 323.67h1.15M347.34 325.68h1.15M355.43 317.64h1.15M349.92 323.67h1.15M349.54 325.68h1.15M363.53 309.6h1.15M358.01 315.63h1.15M357.63 317.64h1.15" stroke="#da2d0c" stroke-width="1.15"/>
<path d="M310.02 325.68h1.15M312.22 325.68h1.15M314.79 323.67h1.15M323.57 323.67h1.15M325.77 323.67h1.15M327.96 323.67h1.15M329.78 325.68h1.15M334.55 323.67h1.15M336.74 323.67h1.15M338.94 323.67h1.15M353.24 317.64h1.15M350.29 321.66h1.15M347.72 323.67h1.15M361.71 307.59h1.15M358.76 311.61h1.15M366.85 303.57h1.15M363.9 307.59h1.15" stroke="#a81407" stroke-width="1.15"/>
<path d="M311.84 327.69h1.15M316.61 325.68h1.15M321 325.68h1.15M320.62 327.69h1.15M327.59 325.68h1.15M334.17 325.68h1.15M336.37 325.68h1.15M341.13 323.67h1.15M345.53 323.67h1.15M358.38 313.62h1.15M355.81 315.63h1.15M352.86 319.65h1.15M366.47 305.58h1.15" stroke="#c61b09" stroke-width="1.15"/>
<path d="M325.01 327.69h1.15M338.56 325.68h1.15M335.99 327.69h1.15M342.95 325.68h1.15M342.58 327.69h1.15M360.58 313.62h1.15M349.16 327.69h1.15" stroke="#f56215" stroke-width="1.15"/>
<path d="M333.8 327.69h1.15M338.19 327.69h1.15M340.38 327.69h1.15M346.97 327.69h1.15" stroke="#f9b526" stroke-width="1.15"/>
<path d="M351.42 315.63h1.15M368.35 295.53h1.15" stroke="#4f0503" stroke-width="1.15"/>
<path d="M344.77 327.69h1.15M354.68 321.66h1.15" stroke="#fad642" stroke-width="1.15"/>
<path d="M352.11 323.67h1.15M351.74 325.68h1.15" stroke="#f78c1e" stroke-width="1.15"/>
<path d="M325.8 303.5 L326.14 302.99 L326.62 302.26 L327.18 301.43 L327.76 300.63 L328.3 300 L328.78 299.51 L329.25 299.06 L329.73 298.71 L330.24 298.48 L330.8 298.4 L331.46 298.51 L332.2 298.78 L332.96 299.18 L333.68 299.63 L334.3 300.1 L334.76 300.52 L335.11 300.93 L335.43 301.42 L335.8 302.07 L336.3 303 L336.97 304.26 L337.76 305.78 L338.6 307.48 L339.47 309.25 L340.3 311 L341.17 312.83 L342.12 314.82 L343.02 316.78 L343.79 318.57 L344.3 320 L344.53 321.02 L344.54 321.73 L344.4 322.23 L344.13 322.62 L343.8 323 L343.38 323.34 L342.85 323.57 L342.23 323.73 L341.54 323.86 L340.8 324 L339.92 324.14 L338.89 324.26 L337.85 324.36 L336.94 324.44 L336.3 324.5" fill="none" stroke="#3cc0b8" stroke-width="0.9" stroke-linejoin="round"/>
<circle cx="344.7" cy="321.3" r="3.3" fill="url(#glow)"/>
<line x1="373.7" y1="284.9" x2="336.5" y2="284.9" stroke="#111" stroke-width="1.0" stroke-dasharray="0.9 0.85"/><path d="M333.3 284.9L336.5 283.6L336.5 286.2Z" fill="#111"/>
<line x1="322.5" y1="289.7" x2="300.79" y2="319.42" stroke="#111" stroke-width="1.1"/><path d="M298.9 322L299.74 318.65L301.84 320.18Z" fill="#111"/>
<line x1="355.5" y1="329.5" x2="376.82" y2="300.19" stroke="#111" stroke-width="1.0" stroke-dasharray="0.9 0.85"/><path d="M378.7 297.6L377.87 300.95L375.77 299.42Z" fill="#111"/>
<line x1="306.6" y1="334" x2="343" y2="334" stroke="#111" stroke-width="1.1"/><path d="M346.2 334L343 335.3L343 332.7Z" fill="#111"/>
<path d="M421.3 290.5 L469.6 290.5 L441.6 328.7 L393.3 328.7Z" fill="url(#hexpat)"/>
<path d="M421.09 291.51h1.15M420.71 293.52h1.15M414.82 301.56h1.15M409.3 307.59h1.15M406.35 311.61h1.15M400.45 319.65h1.15M408.54 311.61h1.15M407.73 327.69h1.15M436.08 293.52h1.15M440.84 291.51h1.15M447.43 291.51h1.15M420.91 327.69h1.15M456.21 291.51h1.15M434.08 327.69h1.15M462.05 295.53h1.15M461.67 297.54h1.15M459.1 299.55h1.15M458.72 301.56h1.15M456.15 303.57h1.15M452.83 309.6h1.15M449.88 313.62h1.15M447.31 315.63h1.15M441.04 325.68h1.15M458.35 303.57h1.15" stroke="#f56215" stroke-width="1.15"/>
<path d="M418.14 295.53h1.15M411.87 305.58h1.15M408.92 309.6h1.15M423.28 291.51h1.15M396.76 327.69h1.15M427.67 291.51h1.15M429.87 291.51h1.15M403.34 327.69h1.15M432.06 291.51h1.15M409.93 327.69h1.15M418.71 327.69h1.15M454.02 291.51h1.15M429.69 327.69h1.15M460.6 291.51h1.15M464.99 291.51h1.15M464.62 293.52h1.15M443.99 321.66h1.15M438.47 327.69h1.15M461.3 299.55h1.15M455.03 309.6h1.15M452.08 313.62h1.15M443.61 323.67h1.15M440.66 327.69h1.15" stroke="#f78c1e" stroke-width="1.15"/>
<path d="M417.76 297.54h1.15M405.97 313.62h1.15M403.03 317.64h1.15M400.08 321.66h1.15M397.13 325.68h1.15M417.39 299.55h1.15M408.17 313.62h1.15M402.65 319.65h1.15M399.33 325.68h1.15M425.1 293.52h1.15M401.52 325.68h1.15M405.91 325.68h1.15M433.88 293.52h1.15M410.3 325.68h1.15M414.69 325.68h1.15M440.47 293.52h1.15M416.89 325.68h1.15M419.09 325.68h1.15M444.86 293.52h1.15M421.28 325.68h1.15M430.06 325.68h1.15M455.84 293.52h1.15M432.26 325.68h1.15M441.79 321.66h1.15M455.78 305.58h1.15M450.26 311.61h1.15M446.93 317.64h1.15M444.36 319.65h1.15M441.42 323.67h1.15" stroke="#e94610" stroke-width="1.15"/>
<path d="M415.19 299.55h1.15M403.4 315.63h1.15M397.51 323.67h1.15M394.56 327.69h1.15M398.95 327.69h1.15M401.15 327.69h1.15M438.65 291.51h1.15M412.12 327.69h1.15M416.51 327.69h1.15M445.24 291.51h1.15M449.63 291.51h1.15M423.1 327.69h1.15M451.82 291.51h1.15M458.41 291.51h1.15M436.27 327.69h1.15M467.19 291.51h1.15M452.45 311.61h1.15M449.51 315.63h1.15M449.13 317.64h1.15" stroke="#f9b526" stroke-width="1.15"/>
<path d="M412.24 303.57h1.15M425.48 291.51h1.15M405.54 327.69h1.15M434.26 291.51h1.15M436.45 291.51h1.15M414.32 327.69h1.15M443.04 291.51h1.15M425.3 327.69h1.15M427.49 327.69h1.15M431.88 327.69h1.15M462.8 291.51h1.15M466.81 293.52h1.15M464.24 295.53h1.15M463.87 297.54h1.15M460.92 301.56h1.15M455.4 307.59h1.15M446.56 319.65h1.15M446.18 321.66h1.15" stroke="#fad642" stroke-width="1.15"/>
<path d="M422.91 293.52h1.15M414.44 303.57h1.15M414.06 305.58h1.15M411.12 309.6h1.15M405.22 317.64h1.15M402.27 321.66h1.15M404.85 319.65h1.15M412.5 325.68h1.15M425.67 325.68h1.15M451.45 293.52h1.15M434.45 325.68h1.15M459.85 295.53h1.15M456.53 301.56h1.15M453.58 305.58h1.15M450.63 309.6h1.15M447.69 313.62h1.15M445.12 315.63h1.15M453.21 307.59h1.15" stroke="#c61b09" stroke-width="1.15"/>
<path d="M420.33 295.53h1.15M419.96 297.54h1.15M417.01 301.56h1.15M411.49 307.59h1.15M405.6 315.63h1.15M399.7 323.67h1.15M427.3 293.52h1.15M403.72 325.68h1.15M429.49 293.52h1.15M431.69 293.52h1.15M408.11 325.68h1.15M438.27 293.52h1.15M442.66 293.52h1.15M423.48 325.68h1.15M449.25 293.52h1.15M427.87 325.68h1.15M453.64 293.52h1.15M458.03 293.52h1.15M460.23 293.52h1.15M436.65 325.68h1.15M462.42 293.52h1.15M459.48 297.54h1.15M438.84 325.68h1.15" stroke="#da2d0c" stroke-width="1.15"/>
<path d="M422.53 295.53h1.15M413.69 307.59h1.15M407.79 315.63h1.15M404.09 323.67h1.15M408.48 323.67h1.15M412.88 323.67h1.15M435.7 295.53h1.15M437.9 295.53h1.15M423.85 323.67h1.15M426.05 323.67h1.15M432.63 323.67h1.15M454.33 301.56h1.15M442.54 317.64h1.15M453.96 303.57h1.15M451.01 307.59h1.15M442.17 319.65h1.15" stroke="#a81407" stroke-width="1.15"/>
<path d="M410.36 313.62h1.15M404.47 321.66h1.15M424.72 295.53h1.15M426.92 295.53h1.15M406.29 323.67h1.15M410.68 323.67h1.15M415.07 323.67h1.15M440.09 295.53h1.15M419.46 323.67h1.15M442.29 295.53h1.15M421.66 323.67h1.15M448.87 295.53h1.15M428.24 323.67h1.15M451.07 295.53h1.15M430.44 323.67h1.15M455.46 295.53h1.15M457.66 295.53h1.15M457.28 297.54h1.15M451.39 305.58h1.15M448.44 309.6h1.15M439.6 321.66h1.15M437.03 323.67h1.15" stroke="#8a0e06" stroke-width="1.15"/>
<path d="M407.42 317.64h1.15M415.88 307.59h1.15M409.99 315.63h1.15M454.71 299.55h1.15M451.76 303.57h1.15M448.81 307.59h1.15M445.49 313.62h1.15M442.92 315.63h1.15M439.97 319.65h1.15" stroke="#6c0804" stroke-width="1.15"/>
<path d="M457.97 305.58h1.15M443.24 325.68h1.15" stroke="#faf564" stroke-width="1.15"/>
<path d="M417.3 303.5 L417.64 302.99 L418.12 302.26 L418.68 301.43 L419.26 300.63 L419.8 300 L420.28 299.51 L420.75 299.06 L421.23 298.71 L421.74 298.48 L422.3 298.4 L422.96 298.51 L423.7 298.78 L424.46 299.18 L425.18 299.63 L425.8 300.1 L426.26 300.52 L426.61 300.93 L426.93 301.42 L427.3 302.07 L427.8 303 L428.47 304.26 L429.26 305.78 L430.1 307.48 L430.97 309.25 L431.8 311 L432.67 312.83 L433.62 314.82 L434.52 316.78 L435.29 318.57 L435.8 320 L436.03 321.02 L436.04 321.73 L435.9 322.23 L435.63 322.62 L435.3 323 L434.88 323.34 L434.35 323.57 L433.73 323.73 L433.04 323.86 L432.3 324 L431.42 324.14 L430.39 324.26 L429.35 324.36 L428.44 324.44 L427.8 324.5" fill="none" stroke="#3cc0b8" stroke-width="0.9" stroke-linejoin="round"/>
<circle cx="430.5" cy="309.9" r="3.3" fill="url(#glow)"/>
<path d="M512.8 290.5 L561.1 290.5 L533.1 328.7 L484.8 328.7Z" fill="url(#hexpat)"/>
<path d="M512.59 291.51h1.15" stroke="#f9b526" stroke-width="1.15"/>
<path d="M512.21 293.52h1.15M519.17 291.51h1.15M521.37 291.51h1.15" stroke="#f78c1e" stroke-width="1.15"/>
<path d="M509.64 295.53h1.15M516.6 293.52h1.15M520.99 293.52h1.15M523.56 291.51h1.15M530.15 291.51h1.15M536.74 291.51h1.15" stroke="#f56215" stroke-width="1.15"/>
<path d="M509.26 297.54h1.15M518.8 293.52h1.15M516.22 295.53h1.15M525.38 293.52h1.15M527.95 291.51h1.15M527.58 293.52h1.15M529.77 293.52h1.15M534.54 291.51h1.15M538.93 291.51h1.15M538.56 293.52h1.15M541.13 291.51h1.15M543.32 291.51h1.15M552.1 291.51h1.15M558.69 291.51h1.15" stroke="#da2d0c" stroke-width="1.15"/>
<path d="M506.69 299.55h1.15M514.41 293.52h1.15M511.83 295.53h1.15M523.19 293.52h1.15M525.76 291.51h1.15M532.34 291.51h1.15M545.52 291.51h1.15M549.91 291.51h1.15" stroke="#e94610" stroke-width="1.15"/>
<path d="M506.32 301.56h1.15M503.74 303.57h1.15M503.37 305.58h1.15M500.42 309.6h1.15M497.85 311.61h1.15M511.46 297.54h1.15M508.89 299.55h1.15M514.03 295.53h1.15M518.42 295.53h1.15M522.81 295.53h1.15M531.97 293.52h1.15M534.16 293.52h1.15M540.75 293.52h1.15M542.95 293.52h1.15M545.14 293.52h1.15M547.34 293.52h1.15M551.73 293.52h1.15M554.3 291.51h1.15M556.49 291.51h1.15M556.12 293.52h1.15M558.31 293.52h1.15" stroke="#c61b09" stroke-width="1.15"/>
<path d="M500.8 307.59h1.15M497.47 313.62h1.15M508.51 301.56h1.15M505.94 303.57h1.15M502.99 307.59h1.15M520.62 295.53h1.15M525.01 295.53h1.15M536.36 293.52h1.15M542.57 295.53h1.15M549.53 293.52h1.15M553.92 293.52h1.15M551.35 295.53h1.15" stroke="#a81407" stroke-width="1.15"/>
<path d="M494.9 315.63h1.15M494.53 317.64h1.15M491.95 319.65h1.15M489.01 323.67h1.15M502.62 309.6h1.15M500.04 311.61h1.15M494.15 319.65h1.15M511.08 299.55h1.15M505.19 307.59h1.15M520.24 297.54h1.15M524.63 297.54h1.15M529.4 295.53h1.15M533.79 295.53h1.15M535.98 295.53h1.15M544.77 295.53h1.15M549.16 295.53h1.15M553.55 295.53h1.15" stroke="#8a0e06" stroke-width="1.15"/>
<path d="M514.78 291.51h1.15M516.98 291.51h1.15" stroke="#fad642" stroke-width="1.15"/>
<path d="M496.72 317.64h1.15M493.77 321.66h1.15M491.2 323.67h1.15M490.83 325.68h1.15M510.71 301.56h1.15M508.13 303.57h1.15M507.76 305.58h1.15M515.85 297.54h1.15M513.28 299.55h1.15M526.83 297.54h1.15M529.02 297.54h1.15M531.22 297.54h1.15M533.41 297.54h1.15M537.8 297.54h1.15M540 297.54h1.15M542.19 297.54h1.15M548.78 297.54h1.15M550.98 297.54h1.15M553.17 297.54h1.15M555.37 297.54h1.15" stroke="#6c0804" stroke-width="1.15"/>
<path d="M510.33 303.57h1.15M507.38 307.59h1.15" stroke="#4f0503" stroke-width="1.15"/>
<path d="M508.8 303.5 L509.14 302.99 L509.62 302.26 L510.18 301.43 L510.76 300.63 L511.3 300 L511.78 299.51 L512.25 299.06 L512.73 298.71 L513.24 298.48 L513.8 298.4 L514.46 298.51 L515.2 298.78 L515.96 299.18 L516.68 299.63 L517.3 300.1 L517.76 300.52 L518.11 300.93 L518.43 301.42 L518.8 302.07 L519.3 303 L519.97 304.26 L520.76 305.78 L521.6 307.48 L522.47 309.25 L523.3 311 L524.17 312.83 L525.12 314.82 L526.02 316.78 L526.79 318.57 L527.3 320 L527.53 321.02 L527.54 321.73 L527.4 322.23 L527.13 322.62 L526.8 323 L526.38 323.34 L525.85 323.57 L525.23 323.73 L524.54 323.86 L523.8 324 L522.92 324.14 L521.89 324.26 L520.85 324.36 L519.94 324.44 L519.3 324.5" fill="none" stroke="#3cc0b8" stroke-width="0.9" stroke-linejoin="round"/>
<circle cx="516" cy="298.8" r="3.3" fill="url(#glow)"/>
<line x1="553.7" y1="285.6" x2="518.3" y2="285.6" stroke="#111" stroke-width="1.1"/><path d="M515.1 285.6L518.3 284.3L518.3 286.9Z" fill="#111"/>
<line x1="505.8" y1="289.9" x2="483.64" y2="319.05" stroke="#111" stroke-width="1.0" stroke-dasharray="0.9 0.85"/><path d="M481.7 321.6L482.6 318.27L484.67 319.84Z" fill="#111"/>
<line x1="538.5" y1="329.9" x2="559.63" y2="300.6" stroke="#111" stroke-width="1.1"/><path d="M561.5 298L560.68 301.36L558.57 299.84Z" fill="#111"/>
<line x1="487.5" y1="335.1" x2="524.7" y2="335.1" stroke="#111" stroke-width="1.0" stroke-dasharray="0.9 0.85"/><path d="M527.9 335.1L524.7 336.4L524.7 333.8Z" fill="#111"/>
<path d="M604.3 290.5 L652.6 290.5 L624.6 328.7 L576.3 328.7Z" fill="url(#hexpat)"/>
<path d="M604.09 291.51h1.15M603.71 293.52h1.15M597.82 301.56h1.15M586.4 315.63h1.15M580.51 323.67h1.15M580.13 325.68h1.15M605.91 293.52h1.15M594.12 309.6h1.15M591.17 313.62h1.15M588.6 315.63h1.15" stroke="#f56215" stroke-width="1.15"/>
<path d="M601.14 295.53h1.15M594.87 305.58h1.15M600.39 299.55h1.15" stroke="#fad642" stroke-width="1.15"/>
<path d="M600.76 297.54h1.15M598.19 299.55h1.15M592.3 307.59h1.15M602.96 297.54h1.15M600.01 301.56h1.15" stroke="#f9b526" stroke-width="1.15"/>
<path d="M595.24 303.57h1.15" stroke="#faf564" stroke-width="1.15"/>
<path d="M591.92 309.6h1.15M586.03 317.64h1.15M577.56 327.69h1.15M585.65 319.65h1.15M605.53 295.53h1.15M602.21 301.56h1.15M596.69 307.59h1.15M590.79 315.63h1.15M604.78 299.55h1.15" stroke="#e94610" stroke-width="1.15"/>
<path d="M589.35 311.61h1.15M588.97 313.62h1.15M583.45 319.65h1.15M606.28 291.51h1.15M603.33 295.53h1.15M597.44 303.57h1.15M597.06 305.58h1.15M594.49 307.59h1.15M591.54 311.61h1.15M602.58 299.55h1.15" stroke="#f78c1e" stroke-width="1.15"/>
<path d="M583.08 321.66h1.15M582.33 325.68h1.15M579.76 327.69h1.15M608.48 291.51h1.15M605.15 297.54h1.15M599.63 303.57h1.15M599.26 305.58h1.15M596.31 309.6h1.15M593.74 311.61h1.15M607.72 295.53h1.15M601.83 303.57h1.15M595.94 311.61h1.15" stroke="#da2d0c" stroke-width="1.15"/>
<path d="M585.27 321.66h1.15M582.7 323.67h1.15M608.1 293.52h1.15M593.36 313.62h1.15M590.42 317.64h1.15M584.52 325.68h1.15M581.95 327.69h1.15M610.67 291.51h1.15M604.4 301.56h1.15M601.45 305.58h1.15M598.88 307.59h1.15M592.99 315.63h1.15M604.03 303.57h1.15" stroke="#c61b09" stroke-width="1.15"/>
<path d="M587.47 321.66h1.15M584.9 323.67h1.15M595.56 313.62h1.15M592.61 317.64h1.15M590.04 319.65h1.15M589.66 321.66h1.15M587.09 323.67h1.15M584.15 327.69h1.15M609.92 295.53h1.15M609.54 297.54h1.15M606.97 299.55h1.15M606.6 301.56h1.15M606.22 303.57h1.15" stroke="#a81407" stroke-width="1.15"/>
<path d="M586.72 325.68h1.15M598.13 311.61h1.15M597.75 313.62h1.15M595.18 315.63h1.15M592.24 319.65h1.15M589.29 323.67h1.15M586.34 327.69h1.15M612.12 295.53h1.15M611.74 297.54h1.15M609.17 299.55h1.15M608.79 301.56h1.15M605.85 305.58h1.15M603.27 307.59h1.15M597.38 315.63h1.15" stroke="#8a0e06" stroke-width="1.15"/>
<path d="M594.81 317.64h1.15M591.86 321.66h1.15M588.91 325.68h1.15M615.06 291.51h1.15M602.9 309.6h1.15M599.95 313.62h1.15M597 317.64h1.15M594.06 321.66h1.15M588.54 327.69h1.15M608.42 303.57h1.15M605.47 307.59h1.15" stroke="#6c0804" stroke-width="1.15"/>
<path d="M617.26 291.51h1.15M602.52 311.61h1.15M596.63 319.65h1.15M590.73 327.69h1.15" stroke="#4f0503" stroke-width="1.15"/>
<path d="M600.3 303.5 L600.64 302.99 L601.12 302.26 L601.68 301.43 L602.26 300.63 L602.8 300 L603.28 299.51 L603.75 299.06 L604.23 298.71 L604.74 298.48 L605.3 298.4 L605.96 298.51 L606.7 298.78 L607.46 299.18 L608.18 299.63 L608.8 300.1 L609.26 300.52 L609.61 300.93 L609.93 301.42 L610.3 302.07 L610.8 303 L611.47 304.26 L612.26 305.78 L613.1 307.48 L613.97 309.25 L614.8 311 L615.67 312.83 L616.62 314.82 L617.52 316.78 L618.29 318.57 L618.8 320 L619.03 321.02 L619.04 321.73 L618.9 322.23 L618.63 322.62 L618.3 323 L617.88 323.34 L617.35 323.57 L616.73 323.73 L616.04 323.86 L615.3 324 L614.42 324.14 L613.39 324.26 L612.35 324.36 L611.44 324.44 L610.8 324.5" fill="none" stroke="#3cc0b8" stroke-width="0.9" stroke-linejoin="round"/>
<circle cx="599.9" cy="303.7" r="3.3" fill="url(#glow)"/>
<line x1="645.2" y1="285.6" x2="609.8" y2="285.6" stroke="#111" stroke-width="1.1"/><path d="M606.6 285.6L609.8 284.3L609.8 286.9Z" fill="#111"/>
<line x1="597.3" y1="289.9" x2="575.14" y2="319.05" stroke="#111" stroke-width="1.0" stroke-dasharray="0.9 0.85"/><path d="M573.2 321.6L574.1 318.27L576.17 319.84Z" fill="#111"/>
<line x1="630" y1="329.9" x2="651.13" y2="300.6" stroke="#111" stroke-width="1.1"/><path d="M653 298L652.18 301.36L650.07 299.84Z" fill="#111"/>
<line x1="579" y1="335.1" x2="616.2" y2="335.1" stroke="#111" stroke-width="1.0" stroke-dasharray="0.9 0.85"/><path d="M619.4 335.1L616.2 336.4L616.2 333.8Z" fill="#111"/>
<rect x="669.6" y="124.3" width="5.6" height="49.7" fill="url(#hotbar)"/>
<g font-family="Liberation Serif" font-weight="bold">
<text x="672.4" y="120.3" font-size="9" text-anchor="middle">|<tspan font-style="italic">Ψ</tspan><tspan font-size="5.5" dy="1.5" font-style="italic">n</tspan><tspan dy="-1.5">|</tspan></text>
<text x="679.3" y="130.7" font-size="8.1" text-anchor="start" fill="#000" >0</text>
<text x="678" y="173.3" font-size="8.1" text-anchor="start" fill="#000" >-2</text>
</g>
<rect x="669.6" y="283.8" width="5.6" height="49.7" fill="url(#hotbar)"/>
<g font-family="Liberation Serif" font-weight="bold">
<text x="672.4" y="279.8" font-size="9" text-anchor="middle">|<tspan font-style="italic">Ψ</tspan><tspan font-size="5.5" dy="1.5" font-style="italic">n</tspan><tspan dy="-1.5">|</tspan></text>
<text x="679.3" y="290.2" font-size="8.1" text-anchor="start" fill="#000" >0</text>
<text x="678" y="332.8" font-size="8.1" text-anchor="start" fill="#000" >-2</text>
</g></svg>
</body></html>
